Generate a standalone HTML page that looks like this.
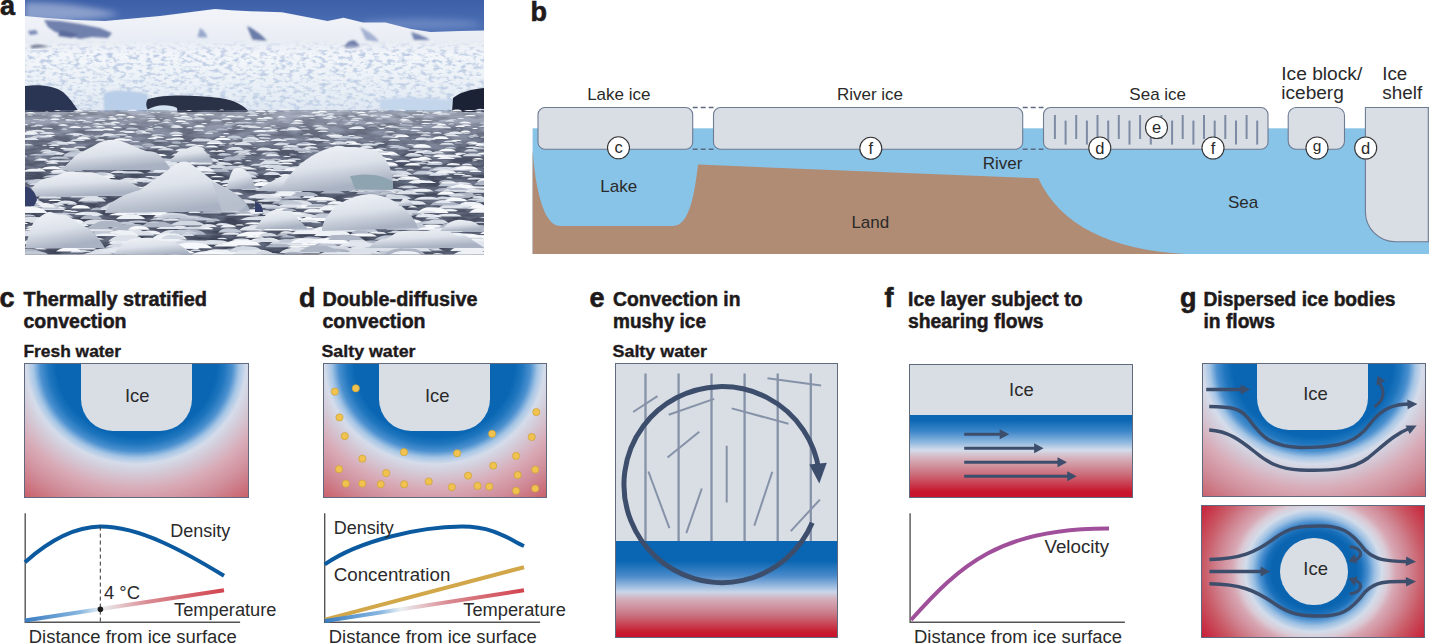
<!DOCTYPE html><html><head><meta charset="utf-8"><style>
html,body{margin:0;padding:0;background:#fff;width:1429px;height:644px;overflow:hidden;position:relative;font-family:"Liberation Sans",sans-serif;}
.abs{position:absolute;}
.panel{position:absolute;overflow:hidden;box-sizing:border-box;border:1px solid #5f6a7e;}
.ice{position:absolute;background:#d9dde4;}
svg{position:absolute;left:0;top:0;}
</style></head><body>
<svg font-family="Liberation Sans, sans-serif" width="1429" height="644" style="left:0;top:0"><defs><clipPath id="pc"><rect x="25" y="0" width="459" height="254.5"/></clipPath><filter id="pb" x="-5%" y="-5%" width="110%" height="110%"><feGaussianBlur stdDeviation="0.5"/></filter><filter id="pb1" x="-5%" y="-5%" width="110%" height="110%"><feGaussianBlur stdDeviation="1.2"/></filter><filter id="pb2" x="-20%" y="-50%" width="140%" height="200%"><feGaussianBlur stdDeviation="3"/></filter><linearGradient id="sky" x1="0" y1="0" x2="0" y2="1"><stop offset="0" stop-color="#3c5fa8"/><stop offset="1" stop-color="#5f80c0"/></linearGradient><linearGradient id="snow" x1="0" y1="0" x2="0" y2="1"><stop offset="0" stop-color="#f2f4f9"/><stop offset="1" stop-color="#e4e9f1"/></linearGradient><linearGradient id="sea" x1="0" y1="0" x2="0" y2="1"><stop offset="0" stop-color="#c4cad6"/><stop offset="0.12" stop-color="#9098aa"/><stop offset="0.35" stop-color="#565e72"/><stop offset="1" stop-color="#3e4558"/></linearGradient><linearGradient id="glac" x1="0" y1="0" x2="0" y2="1"><stop offset="0" stop-color="#e4eaf2" stop-opacity="0"/><stop offset="1" stop-color="#c9d8ea"/></linearGradient><linearGradient id="fl" x1="0" y1="0" x2="0.35" y2="1"><stop offset="0" stop-color="#f2f4f8"/><stop offset="0.55" stop-color="#dde2ea"/><stop offset="1" stop-color="#a9b2c2"/></linearGradient><filter id="glN" x="25" y="40" width="459" height="73" filterUnits="userSpaceOnUse" color-interpolation-filters="sRGB"><feTurbulence type="fractalNoise" baseFrequency="0.15 0.3" numOctaves="3" seed="3" result="n"/><feColorMatrix in="n" type="matrix" values="1 0 0 0 0  1 0 0 0 0  1 0 0 0 0  0 0 0 0 1" result="g"/><feComponentTransfer in="g"><feFuncR type="table" tableValues="0.720 0.720 0.720 0.720 0.720 0.720 0.720 0.720 0.720 0.720 0.720 0.725 0.749 0.773 0.797 0.821 0.845 0.869 0.893 0.917 0.941 0.965 0.970 0.970 0.970 0.970 0.970 0.970 0.970 0.970 0.970 0.970 0.970 0.970 0.970 0.970 0.970 0.970 0.970 0.970 0.970"/><feFuncG type="table" tableValues="0.780 0.780 0.780 0.780 0.780 0.780 0.780 0.780 0.780 0.780 0.780 0.784 0.803 0.822 0.842 0.861 0.880 0.899 0.918 0.938 0.957 0.976 0.980 0.980 0.980 0.980 0.980 0.980 0.980 0.980 0.980 0.980 0.980 0.980 0.980 0.980 0.980 0.980 0.980 0.980 0.980"/><feFuncB type="table" tableValues="0.890 0.890 0.890 0.890 0.890 0.890 0.890 0.890 0.890 0.890 0.890 0.892 0.902 0.911 0.921 0.930 0.940 0.950 0.959 0.969 0.978 0.988 0.990 0.990 0.990 0.990 0.990 0.990 0.990 0.990 0.990 0.990 0.990 0.990 0.990 0.990 0.990 0.990 0.990 0.990 0.990"/></feComponentTransfer></filter><linearGradient id="gm" x1="0" y1="0" x2="0" y2="1"><stop offset="0" stop-color="#fff" stop-opacity="0"/><stop offset="0.2" stop-color="#fff" stop-opacity="1"/></linearGradient><mask id="gmk" maskUnits="userSpaceOnUse" x="25" y="40" width="459" height="73"><rect x="25" y="40" width="459" height="73" fill="url(#gm)"/></mask><filter id="seaN" x="25" y="110" width="459" height="145" filterUnits="userSpaceOnUse" color-interpolation-filters="sRGB"><feTurbulence type="fractalNoise" baseFrequency="0.04 0.16" numOctaves="3" seed="5" result="n"/><feColorMatrix in="n" type="matrix" values="1 0 0 0 0  1 0 0 0 0  1 0 0 0 0  0 0 0 0 1" result="g"/><feComponentTransfer in="g"><feFuncR type="table" tableValues="0.220 0.220 0.220 0.220 0.220 0.220 0.220 0.220 0.220 0.220 0.220 0.220 0.220 0.225 0.247 0.270 0.293 0.316 0.339 0.362 0.385 0.408 0.431 0.454 0.477 0.500 0.523 0.545 0.550 0.550 0.550 0.550 0.550 0.550 0.550 0.550 0.550 0.550 0.550 0.550 0.550"/><feFuncG type="table" tableValues="0.240 0.240 0.240 0.240 0.240 0.240 0.240 0.240 0.240 0.240 0.240 0.240 0.240 0.245 0.268 0.292 0.316 0.339 0.363 0.386 0.410 0.434 0.457 0.481 0.504 0.528 0.552 0.575 0.580 0.580 0.580 0.580 0.580 0.580 0.580 0.580 0.580 0.580 0.580 0.580 0.580"/><feFuncB type="table" tableValues="0.310 0.310 0.310 0.310 0.310 0.310 0.310 0.310 0.310 0.310 0.310 0.310 0.310 0.315 0.339 0.363 0.388 0.412 0.436 0.461 0.485 0.509 0.534 0.558 0.582 0.607 0.631 0.655 0.660 0.660 0.660 0.660 0.660 0.660 0.660 0.660 0.660 0.660 0.660 0.660 0.660"/></feComponentTransfer></filter></defs><g clip-path="url(#pc)"><rect x="25" y="0" width="459" height="60" fill="url(#sky)"/><g filter="url(#pb2)"><path d="M25,2 C60,2 90,6 120,14 C100,20 60,22 25,20 Z" fill="#aab8d8" opacity="0.7"/><ellipse cx="420" cy="24" rx="60" ry="5" fill="#7f98cc" opacity="0.6"/></g><path d="M25,16 L44,17.7 L75,20 L105,21 L160,16 L215,9 L231,10.3 L250,11.3 L282,12.2 L327.5,21 L343.6,17.7 L363,22.5 L385.5,22.5 L411,29 L430.5,32 L460,31 L485,30.6 L484,60 L25,60 Z" fill="url(#snow)" filter="url(#pb)"/><g filter="url(#pb1)"><path d="M44,20 L60,21 L80,24 L100,28 L112,33 L108,38 L92,37 L80,39 L66,35 L55,32 L48,27 Z" fill="#7181ad"/><path d="M60,30 L78,34 L72,38 L58,36 Z" fill="#5c6c9c"/><path d="M28,31 L36,30 L38,34 L30,35 Z" fill="#7d8cb6"/><path d="M30,46 C36,44 45,45 49,47 L32,49 Z" fill="#2e3656"/><path d="M200,28 C206,32 210,38 205,43 L196,42 Z" fill="#9aa8cc"/><path d="M247,26 C256,30 266,38 270,45 L255,45 C252,38 249,32 247,26 Z" fill="#6a7ba9"/><path d="M344,46 C350,40 355,37 360,47 L346,49 Z" fill="#56669a"/><path d="M360,27 C368,31 376,36 379,42 L366,40 Z" fill="#a4b1d2"/><path d="M411,32 C418,34 426,37 430,40 L414,40 Z" fill="#7585b2"/><path d="M120,38 C160,34 240,38 300,44 L280,50 L130,50 Z" fill="#e8edf5"/></g><rect x="25" y="49" width="459" height="64" fill="#e4eaf2"/><rect x="25" y="60" width="459" height="53" fill="url(#glac)"/><g mask="url(#gmk)"><rect x="25" y="40" width="459" height="73" filter="url(#glN)" opacity="0.9"/><rect x="25" y="40" width="459" height="73" fill="url(#glac)" opacity="0.5"/></g><g filter="url(#pb1)"><path d="M104,93 C112,90 130,90 148,94 L148,113 L104,113 Z" fill="#b9cee8"/><path d="M380,100 C400,96 430,98 452,100 L452,113 L380,113 Z" fill="#c4d6ec"/></g><g filter="url(#pb)"><path d="M25,86 C40,84 55,86 63,92 C72,100 76,108 80,113 L25,113 Z" fill="#2c3452"/><path d="M148,99 C165,94 195,95 220,98 C235,100 245,106 250,113 L150,113 C146,108 145,103 148,99 Z" fill="#2a3046"/><path d="M453,98 C460,92 472,89 484,88 L484,112 L452,112 Z" fill="#1f2434"/><path d="M147,110 C155,104 170,104 177,108 L178,117 L148,117 Z" fill="#d4e3f1"/></g><rect x="25" y="112" width="459" height="143" fill="url(#sea)"/><rect x="25" y="112" width="459" height="143" filter="url(#seaN)" opacity="0.45"/><g filter="url(#pb)"><path d="M356,193.9q3.7,-4.2 10.0,-4.5l6.2,0.2q5.6,0.4 8.7,4.2z" fill="#aeb6c5"/><path d="M256,198.6q4.0,-4.2 10.8,-4.4l6.7,0.2q6.1,0.4 9.4,4.2z" fill="#e2e6ee"/><path d="M438,198.1q1.5,-1.3 4.0,-1.3l2.5,0.1q2.2,0.1 3.5,1.3z" fill="#e2e6ee"/><path d="M63,156.5q1.4,-1.4 3.7,-1.5l2.3,0.1q2.1,0.1 3.2,1.4z" fill="#f6f8fb"/><path d="M443,142.1q2.2,-1.5 6.0,-1.6l3.7,0.1q3.4,0.2 5.2,1.5z" fill="#dce1e9"/><path d="M307,116.3q1.1,-0.7 2.9,-0.8l1.8,0.0q1.6,0.1 2.5,0.7z" fill="#dce1e9"/><path d="M378,110.3q1.6,-1.1 4.3,-1.2l2.7,0.1q2.4,0.1 3.8,1.1z" fill="#e2e6ee"/><path d="M466,143.4q1.8,-1.8 4.8,-1.9l3.0,0.1q2.7,0.2 4.2,1.8z" fill="#e2e6ee"/><path d="M472,129.1q0.9,-1.0 2.4,-1.1l1.5,0.1q1.3,0.1 2.1,1.0z" fill="#f6f8fb"/><path d="M186,144.7q1.0,-0.7 2.7,-0.7l1.7,0.0q1.5,0.1 2.4,0.7z" fill="#eef1f6"/><path d="M397,149.4q2.0,-1.9 5.4,-2.0l3.4,0.1q3.0,0.2 4.7,1.9z" fill="#aeb6c5"/><path d="M157,150.3q2.6,-2.3 6.9,-2.4l4.3,0.1q3.9,0.2 6.0,2.3z" fill="#d3d9e3"/><path d="M239,129.5q0.9,-0.6 2.3,-0.7l1.4,0.0q1.3,0.1 2.0,0.6z" fill="#eef1f6"/><path d="M177,249.0q3.4,-3.1 9.1,-3.3l5.7,0.2q5.1,0.3 8.0,3.1z" fill="#f6f8fb"/><path d="M289,154.3q0.8,-0.5 2.0,-0.5l1.3,0.0q1.2,0.0 1.8,0.5z" fill="#e2e6ee"/><path d="M464,194.0q1.5,-1.1 3.9,-1.1l2.4,0.1q2.2,0.1 3.4,1.1z" fill="#dce1e9"/><path d="M171,247.8q3.2,-2.8 8.4,-3.0l5.3,0.1q4.7,0.3 7.4,2.8z" fill="#dce1e9"/><path d="M287,168.7q3.0,-2.4 8.0,-2.5l5.0,0.1q4.5,0.2 7.0,2.4z" fill="#d3d9e3"/><path d="M463,112.8q0.5,-0.4 1.4,-0.5l0.9,0.0q0.8,0.0 1.3,0.4z" fill="#c2c9d6"/><path d="M85,153.8q1.4,-1.4 3.7,-1.5l2.3,0.1q2.1,0.1 3.3,1.4z" fill="#eef1f6"/><path d="M165,146.6q1.1,-0.7 2.9,-0.7l1.8,0.0q1.6,0.1 2.5,0.7z" fill="#e2e6ee"/><path d="M155,210.0q3.0,-3.0 8.0,-3.2l5.0,0.2q4.5,0.3 7.0,3.0z" fill="#eef1f6"/><path d="M259,255.6q3.5,-2.6 9.5,-2.7l5.9,0.1q5.3,0.3 8.3,2.6z" fill="#c2c9d6"/><path d="M130,151.1q2.2,-1.5 5.9,-1.6l3.7,0.1q3.3,0.2 5.2,1.5z" fill="#aeb6c5"/><path d="M247,112.4q1.5,-1.0 4.1,-1.1l2.6,0.1q2.3,0.1 3.6,1.0z" fill="#aeb6c5"/><path d="M70,184.4q3.8,-3.2 10.1,-3.3l6.3,0.2q5.7,0.3 8.9,3.2z" fill="#e2e6ee"/><path d="M80,164.4q3.1,-2.3 8.1,-2.5l5.1,0.1q4.6,0.2 7.1,2.3z" fill="#f6f8fb"/><path d="M304,244.3q2.2,-2.0 6.0,-2.1l3.7,0.1q3.4,0.2 5.2,2.0z" fill="#f6f8fb"/><path d="M162,204.6q2.1,-1.9 5.7,-1.9l3.6,0.1q3.2,0.2 5.0,1.9z" fill="#e2e6ee"/><path d="M402,120.8q1.3,-0.9 3.5,-1.0l2.2,0.0q2.0,0.1 3.0,0.9z" fill="#f6f8fb"/><path d="M93,234.8q3.5,-3.2 9.5,-3.3l5.9,0.2q5.3,0.3 8.3,3.2z" fill="#c2c9d6"/><path d="M174,234.8q4.8,-5.0 12.9,-5.3l8.1,0.3q7.3,0.5 11.3,5.0z" fill="#aeb6c5"/><path d="M29,188.2q2.0,-1.8 5.3,-1.9l3.3,0.1q3.0,0.2 4.7,1.8z" fill="#aeb6c5"/><path d="M241,142.2q2.3,-2.2 6.0,-2.3l3.8,0.1q3.4,0.2 5.3,2.2z" fill="#d3d9e3"/><path d="M172,250.4q2.4,-2.6 6.3,-2.7l3.9,0.1q3.5,0.3 5.5,2.6z" fill="#f6f8fb"/><path d="M128,181.8q3.0,-2.6 8.1,-2.7l5.0,0.1q4.5,0.3 7.1,2.6z" fill="#dce1e9"/><path d="M330,174.5q1.9,-1.5 5.2,-1.5l3.2,0.1q2.9,0.1 4.5,1.5z" fill="#d3d9e3"/><path d="M401,212.8q2.6,-2.8 6.8,-2.9l4.3,0.1q3.8,0.3 6.0,2.8z" fill="#dce1e9"/><path d="M221,234.7q3.0,-2.4 8.0,-2.5l5.0,0.1q4.5,0.2 7.0,2.4z" fill="#e2e6ee"/><path d="M87,179.0q3.5,-3.9 9.2,-4.1l5.8,0.2q5.2,0.4 8.1,3.9z" fill="#f6f8fb"/><path d="M50,142.5q2.1,-1.7 5.5,-1.8l3.4,0.1q3.1,0.2 4.8,1.7z" fill="#c2c9d6"/><path d="M280,219.9q3.9,-3.3 10.5,-3.5l6.6,0.2q5.9,0.3 9.2,3.3z" fill="#c2c9d6"/><path d="M422,182.7q1.8,-2.1 4.8,-2.2l3.0,0.1q2.7,0.2 4.2,2.1z" fill="#e2e6ee"/><path d="M222,126.4q1.6,-1.2 4.3,-1.2l2.7,0.1q2.4,0.1 3.8,1.2z" fill="#aeb6c5"/><path d="M350,129.0q2.3,-2.6 6.1,-2.8l3.8,0.1q3.4,0.3 5.3,2.6z" fill="#e2e6ee"/><path d="M80,114.5q0.9,-0.6 2.3,-0.6l1.5,0.0q1.3,0.1 2.0,0.6z" fill="#e2e6ee"/><path d="M208,182.0q2.0,-2.0 5.5,-2.1l3.4,0.1q3.1,0.2 4.8,2.0z" fill="#eef1f6"/><path d="M119,188.6q3.9,-2.4 10.5,-2.5l6.6,0.1q5.9,0.2 9.2,2.4z" fill="#f6f8fb"/><path d="M403,249.5q5.6,-5.6 15.0,-5.9l9.4,0.3q8.5,0.6 13.2,5.6z" fill="#c2c9d6"/><path d="M29,155.5q2.2,-1.5 6.0,-1.5l3.7,0.1q3.4,0.1 5.2,1.5z" fill="#c2c9d6"/><path d="M461,176.4q1.8,-1.4 4.7,-1.5l3.0,0.1q2.7,0.1 4.2,1.4z" fill="#e2e6ee"/><path d="M394,162.1q2.5,-2.0 6.6,-2.1l4.1,0.1q3.7,0.2 5.8,2.0z" fill="#e2e6ee"/><path d="M195,126.0q1.3,-0.9 3.5,-1.0l2.2,0.0q2.0,0.1 3.1,0.9z" fill="#e2e6ee"/><path d="M172,191.6q4.0,-2.4 10.7,-2.5l6.7,0.1q6.0,0.2 9.4,2.4z" fill="#eef1f6"/><path d="M444,148.6q1.9,-1.5 5.1,-1.6l3.2,0.1q2.9,0.1 4.5,1.5z" fill="#c2c9d6"/><path d="M219,155.7q1.3,-1.0 3.5,-1.0l2.2,0.0q2.0,0.1 3.0,1.0z" fill="#aeb6c5"/><path d="M462,156.3q3.0,-2.8 8.0,-2.9l5.0,0.1q4.5,0.3 7.0,2.8z" fill="#d3d9e3"/><path d="M154,213.3q2.2,-1.3 5.8,-1.4l3.6,0.1q3.3,0.1 5.1,1.3z" fill="#d3d9e3"/><path d="M147,173.1q2.3,-1.5 6.0,-1.6l3.8,0.1q3.4,0.2 5.3,1.5z" fill="#c2c9d6"/><path d="M130,251.1q1.7,-1.2 4.5,-1.2l2.8,0.1q2.5,0.1 4.0,1.2z" fill="#f6f8fb"/><path d="M268,110.8q0.8,-0.9 2.0,-0.9l1.3,0.0q1.1,0.1 1.8,0.9z" fill="#dce1e9"/><path d="M245,112.8q1.6,-1.6 4.1,-1.6l2.6,0.1q2.3,0.2 3.6,1.6z" fill="#d3d9e3"/><path d="M300,143.9q1.7,-1.6 4.5,-1.7l2.8,0.1q2.5,0.2 3.9,1.6z" fill="#c2c9d6"/><path d="M436,237.1q1.5,-1.0 3.9,-1.0l2.4,0.0q2.2,0.1 3.4,1.0z" fill="#d3d9e3"/><path d="M172,179.6q1.8,-1.7 4.9,-1.7l3.1,0.1q2.8,0.2 4.3,1.7z" fill="#f6f8fb"/><path d="M332,152.0q2.6,-1.8 7.0,-1.9l4.4,0.1q3.9,0.2 6.1,1.8z" fill="#eef1f6"/><path d="M226,138.4q2.4,-2.7 6.5,-2.8l4.1,0.1q3.7,0.3 5.7,2.7z" fill="#c2c9d6"/><path d="M215,130.3q2.0,-1.9 5.3,-2.0l3.3,0.1q3.0,0.2 4.7,1.9z" fill="#aeb6c5"/><path d="M307,207.8q3.0,-3.3 7.9,-3.5l4.9,0.2q4.4,0.3 6.9,3.3z" fill="#f6f8fb"/><path d="M331,170.7q2.9,-3.2 7.7,-3.4l4.8,0.2q4.3,0.3 6.7,3.2z" fill="#f6f8fb"/><path d="M35,228.4q4.9,-4.9 13.0,-5.1l8.1,0.2q7.3,0.5 11.4,4.9z" fill="#f6f8fb"/><path d="M316,187.3q2.5,-2.0 6.7,-2.1l4.2,0.1q3.8,0.2 5.9,2.0z" fill="#e2e6ee"/><path d="M270,171.1q2.3,-1.8 6.1,-1.9l3.8,0.1q3.4,0.2 5.3,1.8z" fill="#e2e6ee"/><path d="M271,163.1q0.9,-1.0 2.5,-1.0l1.6,0.0q1.4,0.1 2.2,1.0z" fill="#d3d9e3"/><path d="M378,226.6q4.1,-2.5 10.9,-2.6l6.8,0.1q6.2,0.3 9.6,2.5z" fill="#aeb6c5"/><path d="M46,163.7q1.9,-1.6 5.0,-1.7l3.1,0.1q2.8,0.2 4.4,1.6z" fill="#eef1f6"/><path d="M109,230.4q4.1,-4.7 11.0,-4.9l6.9,0.2q6.2,0.5 9.6,4.7z" fill="#aeb6c5"/><path d="M472,239.5q4.6,-3.9 12.3,-4.1l7.7,0.2q6.9,0.4 10.8,3.9z" fill="#e2e6ee"/><path d="M209,191.9q1.6,-1.5 4.2,-1.6l2.6,0.1q2.4,0.2 3.7,1.5z" fill="#eef1f6"/><path d="M319,183.1q3.3,-2.5 8.8,-2.6l5.5,0.1q4.9,0.2 7.7,2.5z" fill="#c2c9d6"/><path d="M356,186.2q3.8,-2.6 10.1,-2.7l6.3,0.1q5.7,0.3 8.9,2.6z" fill="#f6f8fb"/><path d="M338,118.4q1.2,-1.0 3.2,-1.0l2.0,0.0q1.8,0.1 2.8,1.0z" fill="#aeb6c5"/><path d="M38,155.5q2.4,-1.7 6.5,-1.8l4.1,0.1q3.7,0.2 5.7,1.7z" fill="#aeb6c5"/><path d="M141,202.8q4.5,-4.1 12.1,-4.3l7.5,0.2q6.8,0.4 10.6,4.1z" fill="#e2e6ee"/><path d="M275,139.8q1.1,-1.2 3.1,-1.2l1.9,0.1q1.7,0.1 2.7,1.2z" fill="#c2c9d6"/><path d="M381,253.6q5.7,-4.9 15.3,-5.2l9.6,0.2q8.6,0.5 13.4,4.9z" fill="#f6f8fb"/><path d="M350,128.8q1.7,-1.1 4.5,-1.1l2.8,0.1q2.5,0.1 3.9,1.1z" fill="#aeb6c5"/><path d="M422,112.7q1.1,-0.9 2.9,-1.0l1.8,0.0q1.6,0.1 2.6,0.9z" fill="#f6f8fb"/><path d="M236,236.4q2.8,-3.0 7.5,-3.1l4.7,0.1q4.2,0.3 6.6,3.0z" fill="#eef1f6"/><path d="M189,181.0q3.5,-4.0 9.5,-4.2l5.9,0.2q5.3,0.4 8.3,4.0z" fill="#f6f8fb"/><path d="M120,203.4q1.6,-1.8 4.1,-1.9l2.6,0.1q2.3,0.2 3.6,1.8z" fill="#aeb6c5"/><path d="M110,173.1q2.9,-2.4 7.7,-2.5l4.8,0.1q4.3,0.2 6.8,2.4z" fill="#dce1e9"/><path d="M171,136.0q1.8,-1.4 4.8,-1.5l3.0,0.1q2.7,0.1 4.2,1.4z" fill="#f6f8fb"/><path d="M354,156.1q1.6,-1.3 4.3,-1.3l2.7,0.1q2.4,0.1 3.8,1.3z" fill="#aeb6c5"/><path d="M413,164.3q2.2,-2.0 5.8,-2.1l3.6,0.1q3.3,0.2 5.1,2.0z" fill="#c2c9d6"/><path d="M103,133.4q0.7,-0.4 1.9,-0.5l1.2,0.0q1.0,0.0 1.6,0.4z" fill="#e2e6ee"/><path d="M31,131.8q2.2,-1.9 5.8,-2.0l3.6,0.1q3.3,0.2 5.1,1.9z" fill="#dce1e9"/><path d="M216,151.8q1.4,-1.6 3.8,-1.7l2.4,0.1q2.1,0.2 3.3,1.6z" fill="#f6f8fb"/><path d="M233,148.2q1.1,-1.1 3.0,-1.1l1.9,0.1q1.7,0.1 2.6,1.1z" fill="#eef1f6"/><path d="M192,155.6q2.9,-2.0 7.7,-2.1l4.8,0.1q4.3,0.2 6.7,2.0z" fill="#d3d9e3"/><path d="M399,120.5q1.6,-1.6 4.3,-1.7l2.7,0.1q2.4,0.2 3.8,1.6z" fill="#eef1f6"/><path d="M23,171.7q3.5,-2.8 9.3,-3.0l5.8,0.1q5.2,0.3 8.1,2.8z" fill="#eef1f6"/><path d="M327,204.4q2.9,-3.2 7.6,-3.4l4.8,0.2q4.3,0.3 6.7,3.2z" fill="#eef1f6"/><path d="M162,220.7q3.1,-2.3 8.3,-2.4l5.2,0.1q4.7,0.2 7.3,2.3z" fill="#e2e6ee"/><path d="M352,112.5q1.2,-1.1 3.2,-1.2l2.0,0.1q1.8,0.1 2.8,1.1z" fill="#c2c9d6"/><path d="M472,159.4q1.7,-1.3 4.5,-1.4l2.8,0.1q2.6,0.1 4.0,1.3z" fill="#f6f8fb"/><path d="M41,153.6q3.1,-2.7 8.2,-2.8l5.2,0.1q4.6,0.3 7.2,2.7z" fill="#dce1e9"/><path d="M328,136.8q2.4,-2.4 6.5,-2.5l4.1,0.1q3.7,0.2 5.7,2.4z" fill="#f6f8fb"/><path d="M137,210.9q2.9,-2.5 7.9,-2.7l4.9,0.1q4.4,0.3 6.9,2.5z" fill="#aeb6c5"/><path d="M34,160.8q2.2,-2.5 5.9,-2.7l3.7,0.1q3.3,0.3 5.1,2.5z" fill="#c2c9d6"/><path d="M451,184.6q3.2,-2.4 8.6,-2.5l5.4,0.1q4.9,0.2 7.6,2.4z" fill="#dce1e9"/><path d="M456,173.1q1.0,-0.8 2.8,-0.8l1.7,0.0q1.6,0.1 2.4,0.8z" fill="#eef1f6"/><path d="M384,174.0q1.0,-1.1 2.8,-1.2l1.7,0.1q1.6,0.1 2.4,1.1z" fill="#f6f8fb"/><path d="M42,145.7q0.8,-0.9 2.0,-0.9l1.3,0.0q1.1,0.1 1.8,0.9z" fill="#e2e6ee"/><path d="M315,205.8q1.8,-1.3 4.9,-1.4l3.1,0.1q2.8,0.1 4.3,1.3z" fill="#d3d9e3"/><path d="M43,221.7q5.3,-3.7 14.1,-3.8l8.8,0.2q7.9,0.4 12.4,3.7z" fill="#eef1f6"/><path d="M116,232.9q1.4,-1.3 3.8,-1.4l2.4,0.1q2.2,0.1 3.4,1.3z" fill="#f6f8fb"/><path d="M374,162.7q2.2,-1.5 5.8,-1.5l3.6,0.1q3.3,0.1 5.1,1.5z" fill="#eef1f6"/><path d="M153,242.7q3.5,-3.8 9.4,-3.9l5.9,0.2q5.3,0.4 8.2,3.8z" fill="#e2e6ee"/><path d="M77,182.9q2.5,-2.6 6.6,-2.7l4.1,0.1q3.7,0.3 5.8,2.6z" fill="#d3d9e3"/><path d="M161,226.5q1.9,-1.2 5.0,-1.3l3.1,0.1q2.8,0.1 4.3,1.2z" fill="#e2e6ee"/><path d="M380,206.0q4.7,-4.6 12.6,-4.8l7.9,0.2q7.1,0.5 11.0,4.6z" fill="#d3d9e3"/><path d="M348,115.2q0.5,-0.4 1.3,-0.4l0.8,0.0q0.8,0.0 1.2,0.4z" fill="#d3d9e3"/><path d="M430,237.4q1.7,-1.8 4.6,-1.9l2.9,0.1q2.6,0.2 4.0,1.8z" fill="#f6f8fb"/><path d="M266,215.2q4.7,-4.6 12.6,-4.8l7.9,0.2q7.1,0.5 11.0,4.6z" fill="#dce1e9"/><path d="M31,123.0q0.7,-0.7 1.9,-0.8l1.2,0.0q1.1,0.1 1.7,0.7z" fill="#dce1e9"/><path d="M346,250.0q4.9,-3.7 13.0,-3.8l8.1,0.2q7.3,0.4 11.3,3.7z" fill="#dce1e9"/><path d="M275,224.1q2.6,-2.0 7.0,-2.1l4.4,0.1q3.9,0.2 6.1,2.0z" fill="#e2e6ee"/><path d="M334,139.7q1.2,-0.8 3.2,-0.8l2.0,0.0q1.8,0.1 2.8,0.8z" fill="#dce1e9"/><path d="M28,212.9q1.7,-1.9 4.5,-2.0l2.8,0.1q2.5,0.2 3.9,1.9z" fill="#dce1e9"/><path d="M414,153.0q3.0,-2.8 7.9,-3.0l4.9,0.1q4.5,0.3 6.9,2.8z" fill="#e2e6ee"/><path d="M74,178.7q1.5,-1.2 4.1,-1.3l2.6,0.1q2.3,0.1 3.6,1.2z" fill="#e2e6ee"/><path d="M397,187.7q3.4,-2.2 8.9,-2.3l5.6,0.1q5.0,0.2 7.8,2.2z" fill="#c2c9d6"/><path d="M311,191.1q1.5,-1.6 4.0,-1.6l2.5,0.1q2.3,0.2 3.5,1.6z" fill="#f6f8fb"/><path d="M67,222.3q2.6,-2.9 6.9,-3.0l4.3,0.1q3.9,0.3 6.0,2.9z" fill="#f6f8fb"/><path d="M97,189.6q1.2,-1.2 3.2,-1.2l2.0,0.1q1.8,0.1 2.8,1.2z" fill="#e2e6ee"/><path d="M467,179.5q2.7,-1.8 7.3,-1.9l4.6,0.1q4.1,0.2 6.4,1.8z" fill="#dce1e9"/><path d="M335,231.9q2.3,-1.4 6.0,-1.4l3.8,0.1q3.4,0.1 5.3,1.4z" fill="#c2c9d6"/><path d="M347,136.1q1.3,-1.1 3.4,-1.2l2.1,0.1q1.9,0.1 3.0,1.1z" fill="#e2e6ee"/><path d="M109,141.7q1.8,-1.5 4.8,-1.5l3.0,0.1q2.7,0.1 4.2,1.5z" fill="#dce1e9"/><path d="M177,220.7q4.5,-4.8 12.1,-5.1l7.6,0.2q6.8,0.5 10.6,4.8z" fill="#aeb6c5"/><path d="M406,230.1q4.0,-3.3 10.7,-3.5l6.7,0.2q6.0,0.3 9.3,3.3z" fill="#e2e6ee"/><path d="M128,124.3q1.1,-0.7 3.0,-0.8l1.9,0.0q1.7,0.1 2.6,0.7z" fill="#f6f8fb"/><path d="M351,119.2q1.8,-1.3 4.9,-1.4l3.0,0.1q2.7,0.1 4.2,1.3z" fill="#dce1e9"/><path d="M234,215.6q3.1,-2.8 8.2,-2.9l5.1,0.1q4.6,0.3 7.2,2.8z" fill="#eef1f6"/><path d="M192,223.3q1.3,-1.2 3.5,-1.2l2.2,0.1q2.0,0.1 3.1,1.2z" fill="#c2c9d6"/><path d="M398,193.5q1.1,-1.1 3.0,-1.2l1.9,0.1q1.7,0.1 2.6,1.1z" fill="#c2c9d6"/><path d="M194,146.6q1.7,-1.7 4.6,-1.8l2.9,0.1q2.6,0.2 4.0,1.7z" fill="#f6f8fb"/><path d="M382,166.7q2.4,-2.7 6.4,-2.9l4.0,0.1q3.6,0.3 5.6,2.7z" fill="#c2c9d6"/><path d="M259,201.6q4.0,-3.2 10.6,-3.4l6.6,0.2q6.0,0.3 9.3,3.2z" fill="#c2c9d6"/><path d="M380,111.4q0.7,-0.5 1.8,-0.5l1.1,0.0q1.0,0.1 1.6,0.5z" fill="#eef1f6"/><path d="M183,117.9q1.3,-1.4 3.5,-1.4l2.2,0.1q2.0,0.1 3.1,1.4z" fill="#aeb6c5"/><path d="M472,161.2q0.8,-0.9 2.2,-1.0l1.4,0.0q1.3,0.1 2.0,0.9z" fill="#e2e6ee"/><path d="M369,116.3q1.4,-1.6 3.7,-1.7l2.3,0.1q2.1,0.2 3.3,1.6z" fill="#d3d9e3"/><path d="M401,204.4q3.8,-3.6 10.2,-3.8l6.4,0.2q5.8,0.4 8.9,3.6z" fill="#e2e6ee"/><path d="M59,171.8q1.2,-1.0 3.3,-1.0l2.0,0.0q1.8,0.1 2.9,1.0z" fill="#dce1e9"/><path d="M202,181.3q1.0,-0.8 2.6,-0.8l1.6,0.0q1.4,0.1 2.3,0.8z" fill="#e2e6ee"/><path d="M262,214.9q2.0,-2.0 5.4,-2.1l3.4,0.1q3.0,0.2 4.7,2.0z" fill="#d3d9e3"/><path d="M63,157.3q2.5,-2.3 6.6,-2.4l4.1,0.1q3.7,0.2 5.7,2.3z" fill="#aeb6c5"/><path d="M130,255.1q2.0,-1.6 5.4,-1.6l3.4,0.1q3.0,0.2 4.7,1.6z" fill="#dce1e9"/><path d="M304,140.4q2.5,-1.7 6.6,-1.8l4.1,0.1q3.7,0.2 5.7,1.7z" fill="#aeb6c5"/><path d="M99,161.2q2.5,-2.3 6.6,-2.4l4.1,0.1q3.7,0.2 5.8,2.3z" fill="#aeb6c5"/><path d="M418,228.4q4.4,-3.7 11.8,-3.9l7.4,0.2q6.6,0.4 10.3,3.7z" fill="#f6f8fb"/><path d="M295,171.8q1.6,-1.3 4.2,-1.4l2.6,0.1q2.4,0.1 3.7,1.3z" fill="#eef1f6"/><path d="M469,191.0q1.7,-1.0 4.4,-1.1l2.8,0.1q2.5,0.1 3.9,1.0z" fill="#eef1f6"/><path d="M275,144.3q1.9,-1.6 5.0,-1.7l3.1,0.1q2.8,0.2 4.4,1.6z" fill="#d3d9e3"/><path d="M313,189.3q3.3,-3.3 8.7,-3.5l5.5,0.2q4.9,0.3 7.6,3.3z" fill="#eef1f6"/><path d="M71,249.6q4.0,-2.6 10.6,-2.7l6.6,0.1q6.0,0.3 9.3,2.6z" fill="#e2e6ee"/><path d="M305,231.8q5.4,-3.9 14.3,-4.1l9.0,0.2q8.1,0.4 12.5,3.9z" fill="#aeb6c5"/><path d="M382,192.6q3.9,-2.3 10.3,-2.4l6.4,0.1q5.8,0.2 9.0,2.3z" fill="#aeb6c5"/><path d="M61,126.0q0.8,-0.7 2.1,-0.8l1.3,0.0q1.2,0.1 1.8,0.7z" fill="#eef1f6"/><path d="M221,186.2q2.0,-2.1 5.4,-2.2l3.4,0.1q3.0,0.2 4.7,2.1z" fill="#e2e6ee"/><path d="M438,208.6q4.8,-4.5 12.7,-4.8l7.9,0.2q7.1,0.5 11.1,4.5z" fill="#dce1e9"/><path d="M66,119.7q0.6,-0.4 1.5,-0.4l1.0,0.0q0.9,0.0 1.3,0.4z" fill="#d3d9e3"/><path d="M431,128.0q2.2,-2.3 6.0,-2.4l3.7,0.1q3.4,0.2 5.2,2.3z" fill="#e2e6ee"/><path d="M270,159.8q1.7,-1.2 4.6,-1.2l2.9,0.1q2.6,0.1 4.0,1.2z" fill="#c2c9d6"/><path d="M77,251.3q1.5,-1.2 4.1,-1.3l2.5,0.1q2.3,0.1 3.6,1.2z" fill="#d3d9e3"/><path d="M37,248.3q5.1,-5.1 13.6,-5.4l8.5,0.3q7.6,0.5 11.9,5.1z" fill="#d3d9e3"/><path d="M395,111.0q1.7,-1.7 4.5,-1.8l2.8,0.1q2.5,0.2 4.0,1.7z" fill="#e2e6ee"/><path d="M190,243.6q2.8,-2.5 7.5,-2.6l4.7,0.1q4.2,0.2 6.5,2.5z" fill="#aeb6c5"/><path d="M56,217.5q1.7,-1.4 4.5,-1.5l2.8,0.1q2.5,0.1 3.9,1.4z" fill="#dce1e9"/><path d="M221,115.4q0.7,-0.9 2.0,-0.9l1.2,0.0q1.1,0.1 1.7,0.9z" fill="#d3d9e3"/><path d="M48,200.9q2.1,-1.4 5.5,-1.4l3.5,0.1q3.1,0.1 4.8,1.4z" fill="#f6f8fb"/><path d="M94,164.1q3.0,-3.3 8.1,-3.5l5.1,0.2q4.6,0.3 7.1,3.3z" fill="#e2e6ee"/><path d="M182,118.4q1.7,-1.0 4.4,-1.1l2.8,0.1q2.5,0.1 3.9,1.0z" fill="#dce1e9"/><path d="M399,124.1q0.5,-0.5 1.4,-0.5l0.9,0.0q0.8,0.0 1.3,0.5z" fill="#f6f8fb"/><path d="M38,234.9q5.7,-4.0 15.1,-4.2l9.4,0.2q8.5,0.4 13.2,4.0z" fill="#dce1e9"/><path d="M238,165.7q1.1,-0.8 2.8,-0.8l1.8,0.0q1.6,0.1 2.5,0.8z" fill="#dce1e9"/><path d="M254,204.3q1.3,-1.1 3.6,-1.2l2.2,0.1q2.0,0.1 3.1,1.1z" fill="#dce1e9"/><path d="M412,174.4q3.6,-3.5 9.7,-3.7l6.0,0.2q5.4,0.4 8.5,3.5z" fill="#c2c9d6"/><path d="M33,196.0q1.2,-1.2 3.1,-1.3l1.9,0.1q1.7,0.1 2.7,1.2z" fill="#f6f8fb"/><path d="M397,225.4q3.1,-3.4 8.3,-3.6l5.2,0.2q4.7,0.3 7.3,3.4z" fill="#eef1f6"/><path d="M355,257.8q6.0,-4.1 16.0,-4.3l10.0,0.2q9.0,0.4 14.0,4.1z" fill="#dce1e9"/><path d="M410,130.3q0.7,-0.6 1.8,-0.6l1.2,0.0q1.0,0.1 1.6,0.6z" fill="#f6f8fb"/><path d="M141,162.5q2.0,-1.5 5.4,-1.6l3.4,0.1q3.0,0.2 4.7,1.5z" fill="#aeb6c5"/><path d="M369,195.6q3.7,-2.4 9.8,-2.5l6.1,0.1q5.5,0.2 8.6,2.4z" fill="#aeb6c5"/><path d="M432,156.5q2.9,-2.1 7.8,-2.2l4.9,0.1q4.4,0.2 6.8,2.1z" fill="#eef1f6"/><path d="M244,214.4q2.5,-2.1 6.5,-2.2l4.1,0.1q3.7,0.2 5.7,2.1z" fill="#f6f8fb"/><path d="M444,136.2q2.4,-1.5 6.4,-1.6l4.0,0.1q3.6,0.1 5.6,1.5z" fill="#e2e6ee"/><path d="M54,225.3q1.9,-1.8 4.9,-1.9l3.1,0.1q2.8,0.2 4.3,1.8z" fill="#d3d9e3"/><path d="M80,219.0q3.3,-3.8 8.9,-4.0l5.6,0.2q5.0,0.4 7.8,3.8z" fill="#aeb6c5"/><path d="M149,183.4q1.3,-1.1 3.5,-1.1l2.2,0.1q2.0,0.1 3.0,1.1z" fill="#d3d9e3"/><path d="M237,154.7q2.1,-2.5 5.7,-2.6l3.6,0.1q3.2,0.2 5.0,2.5z" fill="#e2e6ee"/><path d="M81,251.8q1.6,-1.0 4.3,-1.0l2.7,0.0q2.4,0.1 3.7,1.0z" fill="#f6f8fb"/><path d="M241,123.2q1.6,-1.0 4.4,-1.0l2.7,0.0q2.4,0.1 3.8,1.0z" fill="#dce1e9"/><path d="M123,132.9q1.9,-1.4 5.1,-1.5l3.2,0.1q2.8,0.1 4.4,1.4z" fill="#d3d9e3"/><path d="M254,114.7q0.5,-0.4 1.3,-0.4l0.8,0.0q0.7,0.0 1.1,0.4z" fill="#d3d9e3"/><path d="M272,219.3q3.0,-2.0 8.1,-2.1l5.0,0.1q4.5,0.2 7.1,2.0z" fill="#eef1f6"/><path d="M181,244.7q3.9,-3.9 10.5,-4.1l6.5,0.2q5.9,0.4 9.2,3.9z" fill="#c2c9d6"/><path d="M475,249.1q2.9,-2.0 7.8,-2.1l4.9,0.1q4.4,0.2 6.8,2.0z" fill="#aeb6c5"/><path d="M226,116.9q1.5,-1.4 4.0,-1.4l2.5,0.1q2.3,0.1 3.5,1.4z" fill="#f6f8fb"/><path d="M256,119.2q1.7,-1.4 4.5,-1.4l2.8,0.1q2.5,0.1 4.0,1.4z" fill="#f6f8fb"/><path d="M181,123.7q1.3,-1.2 3.5,-1.3l2.2,0.1q2.0,0.1 3.0,1.2z" fill="#e2e6ee"/><path d="M29,184.9q3.3,-2.2 8.9,-2.3l5.5,0.1q5.0,0.2 7.8,2.2z" fill="#e2e6ee"/><path d="M171,155.5q2.7,-2.4 7.3,-2.5l4.5,0.1q4.1,0.2 6.4,2.4z" fill="#e2e6ee"/><path d="M128,213.3q4.4,-4.2 11.8,-4.4l7.4,0.2q6.6,0.4 10.3,4.2z" fill="#f6f8fb"/><path d="M385,127.2q1.7,-1.6 4.6,-1.7l2.9,0.1q2.6,0.2 4.0,1.6z" fill="#f6f8fb"/><path d="M399,243.1q4.2,-3.9 11.2,-4.0l7.0,0.2q6.3,0.4 9.8,3.9z" fill="#aeb6c5"/><path d="M72,152.7q1.8,-1.8 4.8,-1.9l3.0,0.1q2.7,0.2 4.2,1.8z" fill="#c2c9d6"/><path d="M426,173.6q1.0,-0.9 2.7,-1.0l1.7,0.0q1.5,0.1 2.4,0.9z" fill="#eef1f6"/><path d="M263,161.2q1.9,-1.8 5.2,-1.9l3.2,0.1q2.9,0.2 4.5,1.8z" fill="#c2c9d6"/><path d="M66,249.0q1.8,-1.8 4.8,-1.9l3.0,0.1q2.7,0.2 4.2,1.8z" fill="#eef1f6"/><path d="M354,113.3q0.8,-0.7 2.2,-0.8l1.4,0.0q1.3,0.1 1.9,0.7z" fill="#c2c9d6"/><path d="M41,209.9q3.6,-3.9 9.6,-4.1l6.0,0.2q5.4,0.4 8.4,3.9z" fill="#eef1f6"/><path d="M157,160.0q1.9,-1.5 5.2,-1.6l3.2,0.1q2.9,0.1 4.5,1.5z" fill="#dce1e9"/><path d="M323,148.1q1.8,-1.5 4.8,-1.5l3.0,0.1q2.7,0.1 4.2,1.5z" fill="#aeb6c5"/><path d="M136,133.6q2.3,-1.7 6.3,-1.8l3.9,0.1q3.5,0.2 5.5,1.7z" fill="#eef1f6"/><path d="M482,125.2q1.6,-1.3 4.2,-1.4l2.6,0.1q2.4,0.1 3.7,1.3z" fill="#c2c9d6"/><path d="M97,198.4q1.6,-1.4 4.2,-1.5l2.6,0.1q2.4,0.1 3.7,1.4z" fill="#aeb6c5"/><path d="M453,174.8q1.9,-1.2 5.1,-1.2l3.2,0.1q2.9,0.1 4.4,1.2z" fill="#f6f8fb"/><path d="M246,140.5q1.7,-1.9 4.6,-2.0l2.9,0.1q2.6,0.2 4.0,1.9z" fill="#c2c9d6"/><path d="M93,136.7q1.7,-1.2 4.5,-1.3l2.8,0.1q2.5,0.1 3.9,1.2z" fill="#d3d9e3"/><path d="M67,144.0q1.2,-1.0 3.2,-1.0l2.0,0.0q1.8,0.1 2.8,1.0z" fill="#c2c9d6"/><path d="M309,140.0q1.9,-2.2 5.1,-2.3l3.2,0.1q2.9,0.2 4.5,2.2z" fill="#eef1f6"/><path d="M67,204.8q1.5,-1.6 4.0,-1.7l2.5,0.1q2.2,0.2 3.5,1.6z" fill="#d3d9e3"/><path d="M289,230.8q1.6,-1.8 4.2,-1.9l2.6,0.1q2.3,0.2 3.6,1.8z" fill="#f6f8fb"/><path d="M171,127.9q1.9,-1.2 4.9,-1.3l3.1,0.1q2.8,0.1 4.3,1.2z" fill="#dce1e9"/><path d="M62,149.0q0.8,-0.9 2.3,-0.9l1.4,0.0q1.3,0.1 2.0,0.9z" fill="#f6f8fb"/><path d="M206,257.8q1.9,-1.2 5.0,-1.3l3.1,0.1q2.8,0.1 4.4,1.2z" fill="#eef1f6"/><path d="M372,248.0q5.7,-5.1 15.3,-5.3l9.6,0.3q8.6,0.5 13.4,5.1z" fill="#eef1f6"/><path d="M47,168.6q2.0,-2.3 5.4,-2.4l3.4,0.1q3.0,0.2 4.7,2.3z" fill="#c2c9d6"/><path d="M65,143.5q1.7,-2.0 4.6,-2.1l2.9,0.1q2.6,0.2 4.1,2.0z" fill="#eef1f6"/><path d="M58,169.2q3.0,-2.0 8.0,-2.1l5.0,0.1q4.5,0.2 7.0,2.0z" fill="#c2c9d6"/><path d="M323,118.8q1.5,-1.2 3.9,-1.2l2.4,0.1q2.2,0.1 3.4,1.2z" fill="#eef1f6"/><path d="M270,141.1q2.6,-2.2 7.0,-2.3l4.4,0.1q4.0,0.2 6.2,2.2z" fill="#e2e6ee"/><path d="M475,237.3q2.0,-1.9 5.3,-2.0l3.3,0.1q3.0,0.2 4.7,1.9z" fill="#e2e6ee"/><path d="M156,243.7q5.2,-4.7 13.9,-4.9l8.7,0.2q7.8,0.5 12.1,4.7z" fill="#e2e6ee"/><path d="M415,145.8q2.1,-1.6 5.5,-1.7l3.4,0.1q3.1,0.2 4.8,1.6z" fill="#c2c9d6"/><path d="M277,243.5q3.8,-2.9 10.0,-3.0l6.3,0.1q5.6,0.3 8.8,2.9z" fill="#aeb6c5"/><path d="M227,194.8q2.4,-2.4 6.5,-2.6l4.1,0.1q3.7,0.2 5.7,2.4z" fill="#eef1f6"/><path d="M110,123.3q1.6,-1.6 4.3,-1.7l2.7,0.1q2.4,0.2 3.8,1.6z" fill="#eef1f6"/><path d="M125,166.0q1.5,-1.5 4.0,-1.5l2.5,0.1q2.3,0.1 3.5,1.5z" fill="#aeb6c5"/><path d="M301,166.2q3.1,-2.2 8.4,-2.3l5.2,0.1q4.7,0.2 7.3,2.2z" fill="#aeb6c5"/><path d="M149,171.6q3.4,-3.2 9.0,-3.4l5.6,0.2q5.1,0.3 7.9,3.2z" fill="#aeb6c5"/><path d="M357,114.3q0.6,-0.6 1.6,-0.6l1.0,0.0q0.9,0.1 1.4,0.6z" fill="#d3d9e3"/><path d="M234,186.6q3.7,-4.0 9.8,-4.2l6.2,0.2q5.5,0.4 8.6,4.0z" fill="#c2c9d6"/><path d="M143,243.8q3.0,-3.3 8.0,-3.5l5.0,0.2q4.5,0.3 7.0,3.3z" fill="#e2e6ee"/><path d="M151,178.1q2.0,-2.1 5.4,-2.2l3.4,0.1q3.1,0.2 4.8,2.1z" fill="#d3d9e3"/><path d="M364,199.1q3.7,-2.2 9.7,-2.3l6.1,0.1q5.5,0.2 8.5,2.2z" fill="#e2e6ee"/><path d="M414,146.6q2.1,-1.8 5.7,-1.9l3.6,0.1q3.2,0.2 5.0,1.8z" fill="#dce1e9"/><path d="M223,188.8q4.0,-3.6 10.6,-3.8l6.7,0.2q6.0,0.4 9.3,3.6z" fill="#d3d9e3"/><path d="M295,208.4q4.2,-2.9 11.1,-3.0l6.9,0.1q6.2,0.3 9.7,2.9z" fill="#f6f8fb"/><path d="M264,198.6q2.8,-2.4 7.4,-2.5l4.6,0.1q4.2,0.2 6.5,2.4z" fill="#d3d9e3"/><path d="M268,113.4q1.1,-0.7 2.9,-0.8l1.8,0.0q1.6,0.1 2.5,0.7z" fill="#e2e6ee"/><path d="M96,127.5q1.4,-1.4 3.7,-1.4l2.3,0.1q2.1,0.1 3.3,1.4z" fill="#f6f8fb"/><path d="M190,198.4q3.3,-2.4 8.9,-2.6l5.6,0.1q5.0,0.2 7.8,2.4z" fill="#d3d9e3"/><path d="M108,243.9q2.5,-1.6 6.8,-1.7l4.2,0.1q3.8,0.2 5.9,1.6z" fill="#c2c9d6"/><path d="M289,155.3q1.3,-0.8 3.4,-0.9l2.2,0.0q1.9,0.1 3.0,0.8z" fill="#c2c9d6"/><path d="M368,189.7q2.5,-2.5 6.6,-2.6l4.1,0.1q3.7,0.2 5.8,2.5z" fill="#eef1f6"/><path d="M265,239.0q1.4,-1.2 3.8,-1.3l2.4,0.1q2.1,0.1 3.3,1.2z" fill="#f6f8fb"/><path d="M378,110.9q0.5,-0.5 1.4,-0.5l0.9,0.0q0.8,0.0 1.3,0.5z" fill="#f6f8fb"/><path d="M232,240.2q2.7,-1.8 7.3,-1.8l4.6,0.1q4.1,0.2 6.4,1.8z" fill="#dce1e9"/><path d="M368,222.4q3.8,-4.1 10.2,-4.3l6.4,0.2q5.8,0.4 9.0,4.1z" fill="#c2c9d6"/><path d="M434,190.9q3.8,-2.8 10.3,-2.9l6.4,0.1q5.8,0.3 9.0,2.8z" fill="#aeb6c5"/><path d="M477,237.7q2.3,-1.5 6.1,-1.5l3.8,0.1q3.5,0.1 5.4,1.5z" fill="#d3d9e3"/><path d="M264,131.6q2.2,-1.5 5.8,-1.6l3.6,0.1q3.3,0.2 5.1,1.5z" fill="#f6f8fb"/><path d="M219,110.2q0.8,-0.8 2.1,-0.8l1.3,0.0q1.2,0.1 1.8,0.8z" fill="#f6f8fb"/><path d="M379,158.0q1.1,-0.9 2.8,-0.9l1.8,0.0q1.6,0.1 2.5,0.9z" fill="#e2e6ee"/><path d="M204,133.7q1.4,-1.2 3.8,-1.2l2.4,0.1q2.1,0.1 3.3,1.2z" fill="#eef1f6"/><path d="M263,141.3q1.1,-1.0 2.8,-1.1l1.8,0.1q1.6,0.1 2.5,1.0z" fill="#dce1e9"/><path d="M364,203.7q4.3,-4.8 11.4,-5.0l7.2,0.2q6.4,0.5 10.0,4.8z" fill="#dce1e9"/><path d="M390,225.4q5.1,-4.6 13.5,-4.9l8.4,0.2q7.6,0.5 11.8,4.6z" fill="#dce1e9"/><path d="M222,208.7q1.9,-1.5 5.0,-1.6l3.1,0.1q2.8,0.1 4.4,1.5z" fill="#d3d9e3"/><path d="M423,209.1q1.4,-1.4 3.6,-1.5l2.3,0.1q2.0,0.1 3.2,1.4z" fill="#dce1e9"/><path d="M312,126.6q1.7,-1.5 4.6,-1.5l2.9,0.1q2.6,0.1 4.0,1.5z" fill="#dce1e9"/><path d="M154,124.4q0.5,-0.4 1.4,-0.4l0.9,0.0q0.8,0.0 1.2,0.4z" fill="#f6f8fb"/><path d="M353,248.8q4.8,-4.2 12.9,-4.4l8.0,0.2q7.2,0.4 11.3,4.2z" fill="#dce1e9"/><path d="M156,229.0q5.3,-3.4 14.1,-3.6l8.8,0.2q7.9,0.3 12.3,3.4z" fill="#e2e6ee"/><path d="M476,154.5q2.5,-2.0 6.6,-2.1l4.1,0.1q3.7,0.2 5.8,2.0z" fill="#f6f8fb"/><path d="M281,140.0q2.4,-1.9 6.5,-2.0l4.0,0.1q3.6,0.2 5.7,1.9z" fill="#c2c9d6"/><path d="M197,161.1q2.2,-2.6 5.9,-2.7l3.7,0.1q3.3,0.3 5.2,2.6z" fill="#eef1f6"/><path d="M151,135.3q2.2,-1.4 5.7,-1.4l3.6,0.1q3.2,0.1 5.0,1.4z" fill="#c2c9d6"/><path d="M50,172.0q2.7,-2.1 7.3,-2.2l4.6,0.1q4.1,0.2 6.4,2.1z" fill="#eef1f6"/><path d="M203,211.5q2.4,-2.6 6.5,-2.8l4.0,0.1q3.6,0.3 5.7,2.6z" fill="#dce1e9"/><path d="M311,113.3q1.5,-1.7 3.9,-1.7l2.5,0.1q2.2,0.2 3.4,1.7z" fill="#eef1f6"/><path d="M416,217.2q3.9,-2.6 10.5,-2.7l6.6,0.1q5.9,0.3 9.2,2.6z" fill="#f6f8fb"/><path d="M233,176.5q2.2,-1.5 5.9,-1.6l3.7,0.1q3.3,0.2 5.2,1.5z" fill="#d3d9e3"/><path d="M275,192.8q4.3,-3.8 11.5,-4.0l7.2,0.2q6.5,0.4 10.0,3.8z" fill="#d3d9e3"/><path d="M292,228.6q1.6,-1.3 4.4,-1.4l2.7,0.1q2.5,0.1 3.8,1.3z" fill="#f6f8fb"/><path d="M176,118.9q1.9,-1.2 5.0,-1.3l3.1,0.1q2.8,0.1 4.4,1.2z" fill="#d3d9e3"/><path d="M181,235.4q1.8,-1.4 4.9,-1.5l3.1,0.1q2.8,0.1 4.3,1.4z" fill="#dce1e9"/><path d="M160,233.9q4.4,-3.8 11.7,-3.9l7.3,0.2q6.6,0.4 10.2,3.8z" fill="#dce1e9"/><path d="M281,245.8q5.6,-4.4 15.0,-4.6l9.4,0.2q8.5,0.4 13.1,4.4z" fill="#f6f8fb"/><path d="M247,227.0q2.8,-2.5 7.4,-2.6l4.6,0.1q4.2,0.2 6.5,2.5z" fill="#dce1e9"/><path d="M428,176.0q2.1,-1.5 5.7,-1.6l3.5,0.1q3.2,0.2 5.0,1.5z" fill="#aeb6c5"/><path d="M217,160.1q1.1,-1.0 3.0,-1.0l1.9,0.0q1.7,0.1 2.6,1.0z" fill="#eef1f6"/><path d="M185,145.7q2.0,-1.9 5.3,-1.9l3.3,0.1q3.0,0.2 4.6,1.9z" fill="#e2e6ee"/><path d="M85,110.5q0.8,-0.7 2.1,-0.8l1.3,0.0q1.2,0.1 1.8,0.7z" fill="#c2c9d6"/><path d="M440,215.7q1.5,-1.0 4.0,-1.0l2.5,0.0q2.2,0.1 3.5,1.0z" fill="#aeb6c5"/><path d="M219,143.8q1.2,-1.0 3.1,-1.0l1.9,0.0q1.7,0.1 2.7,1.0z" fill="#d3d9e3"/><path d="M170,126.6q1.7,-1.5 4.5,-1.6l2.8,0.1q2.5,0.2 4.0,1.5z" fill="#dce1e9"/><path d="M233,158.6q1.9,-1.2 5.2,-1.3l3.2,0.1q2.9,0.1 4.5,1.2z" fill="#d3d9e3"/><path d="M161,170.5q2.6,-1.7 7.0,-1.8l4.4,0.1q3.9,0.2 6.1,1.7z" fill="#d3d9e3"/><path d="M378,155.0q3.0,-3.4 8.0,-3.6l5.0,0.2q4.5,0.3 7.0,3.4z" fill="#f6f8fb"/><path d="M226,159.6q1.5,-1.0 3.9,-1.0l2.4,0.0q2.2,0.1 3.4,1.0z" fill="#dce1e9"/><path d="M228,211.0q2.3,-1.6 6.0,-1.7l3.8,0.1q3.4,0.2 5.3,1.6z" fill="#f6f8fb"/><path d="M339,110.6q0.8,-0.6 2.1,-0.6l1.3,0.0q1.2,0.1 1.9,0.6z" fill="#e2e6ee"/><path d="M302,164.9q2.0,-1.5 5.4,-1.6l3.4,0.1q3.0,0.2 4.7,1.5z" fill="#eef1f6"/><path d="M107,130.7q1.3,-1.3 3.4,-1.3l2.1,0.1q1.9,0.1 3.0,1.3z" fill="#c2c9d6"/><path d="M27,201.2q1.5,-1.4 4.0,-1.5l2.5,0.1q2.3,0.1 3.5,1.4z" fill="#eef1f6"/><path d="M304,150.4q1.1,-1.2 2.9,-1.3l1.8,0.1q1.6,0.1 2.5,1.2z" fill="#eef1f6"/><path d="M31,131.0q1.4,-1.0 3.8,-1.1l2.4,0.1q2.1,0.1 3.3,1.0z" fill="#e2e6ee"/><path d="M165,256.7q3.1,-2.5 8.3,-2.6l5.2,0.1q4.7,0.3 7.3,2.5z" fill="#eef1f6"/><path d="M75,112.4q0.7,-0.8 1.8,-0.8l1.1,0.0q1.0,0.1 1.6,0.8z" fill="#d3d9e3"/><path d="M438,121.6q1.5,-1.5 3.9,-1.6l2.5,0.1q2.2,0.2 3.4,1.5z" fill="#aeb6c5"/><path d="M446,187.7q2.1,-1.7 5.7,-1.8l3.6,0.1q3.2,0.2 5.0,1.7z" fill="#f6f8fb"/><path d="M145,127.5q0.6,-0.5 1.7,-0.5l1.1,0.0q1.0,0.0 1.5,0.5z" fill="#aeb6c5"/><path d="M397,251.5q5.2,-4.5 13.9,-4.7l8.7,0.2q7.8,0.5 12.2,4.5z" fill="#e2e6ee"/><path d="M348,231.9q4.5,-5.1 12.1,-5.3l7.6,0.3q6.8,0.5 10.6,5.1z" fill="#c2c9d6"/><path d="M330,133.8q0.8,-0.7 2.0,-0.7l1.3,0.0q1.1,0.1 1.8,0.7z" fill="#aeb6c5"/><path d="M232,139.4q0.9,-0.6 2.3,-0.6l1.4,0.0q1.3,0.1 2.0,0.6z" fill="#e2e6ee"/><path d="M126,147.7q2.1,-1.2 5.5,-1.3l3.4,0.1q3.1,0.1 4.8,1.2z" fill="#aeb6c5"/><path d="M290,213.9q2.5,-2.0 6.6,-2.1l4.1,0.1q3.7,0.2 5.8,2.0z" fill="#d3d9e3"/><path d="M113,140.5q2.3,-2.2 6.3,-2.3l3.9,0.1q3.5,0.2 5.5,2.2z" fill="#f6f8fb"/><path d="M19,125.1q1.5,-1.1 3.9,-1.1l2.5,0.1q2.2,0.1 3.5,1.1z" fill="#eef1f6"/><path d="M56,184.5q1.7,-1.4 4.6,-1.5l2.9,0.1q2.6,0.1 4.0,1.4z" fill="#aeb6c5"/><path d="M141,187.7q3.4,-2.4 9.0,-2.5l5.6,0.1q5.0,0.2 7.8,2.4z" fill="#e2e6ee"/><path d="M293,121.5q1.6,-1.6 4.2,-1.7l2.6,0.1q2.4,0.2 3.7,1.6z" fill="#f6f8fb"/><path d="M223,134.3q1.2,-0.9 3.1,-0.9l1.9,0.0q1.7,0.1 2.7,0.9z" fill="#c2c9d6"/><path d="M234,129.8q1.5,-1.0 4.0,-1.0l2.5,0.0q2.3,0.1 3.5,1.0z" fill="#aeb6c5"/><path d="M272,196.6q4.3,-5.0 11.6,-5.3l7.2,0.3q6.5,0.5 10.1,5.0z" fill="#eef1f6"/><path d="M276,145.2q2.0,-1.9 5.3,-2.0l3.3,0.1q3.0,0.2 4.6,1.9z" fill="#d3d9e3"/><path d="M404,156.2q2.8,-2.7 7.6,-2.8l4.7,0.1q4.2,0.3 6.6,2.7z" fill="#d3d9e3"/><path d="M225,123.2q1.4,-1.0 3.7,-1.0l2.3,0.0q2.1,0.1 3.3,1.0z" fill="#eef1f6"/><path d="M402,191.9q4.1,-2.9 10.9,-3.0l6.8,0.1q6.1,0.3 9.5,2.9z" fill="#c2c9d6"/><path d="M145,112.3q0.6,-0.5 1.7,-0.5l1.0,0.0q0.9,0.1 1.5,0.5z" fill="#d3d9e3"/><path d="M180,117.1q1.5,-1.4 3.9,-1.5l2.4,0.1q2.2,0.1 3.4,1.4z" fill="#eef1f6"/><path d="M451,190.8q3.7,-3.0 9.9,-3.2l6.2,0.2q5.5,0.3 8.6,3.0z" fill="#dce1e9"/><path d="M240,139.1q1.6,-1.1 4.3,-1.1l2.7,0.1q2.4,0.1 3.7,1.1z" fill="#aeb6c5"/><path d="M465,239.0q5.7,-3.6 15.1,-3.8l9.4,0.2q8.5,0.4 13.2,3.6z" fill="#f6f8fb"/><path d="M32,192.2q2.7,-2.7 7.3,-2.8l4.6,0.1q4.1,0.3 6.4,2.7z" fill="#d3d9e3"/><path d="M95,174.9q2.2,-2.3 5.8,-2.4l3.6,0.1q3.2,0.2 5.0,2.3z" fill="#aeb6c5"/><path d="M443,201.5q3.6,-3.7 9.7,-3.8l6.1,0.2q5.5,0.4 8.5,3.7z" fill="#aeb6c5"/><path d="M269,244.6q5.1,-5.0 13.6,-5.2l8.5,0.2q7.7,0.5 11.9,5.0z" fill="#d3d9e3"/><path d="M116,215.5q3.2,-2.8 8.4,-3.0l5.3,0.1q4.7,0.3 7.4,2.8z" fill="#aeb6c5"/><path d="M397,128.4q1.4,-1.2 3.7,-1.3l2.3,0.1q2.1,0.1 3.2,1.2z" fill="#aeb6c5"/><path d="M479,184.8q2.0,-2.0 5.4,-2.1l3.3,0.1q3.0,0.2 4.7,2.0z" fill="#e2e6ee"/><path d="M381,117.6q1.4,-1.3 3.8,-1.3l2.3,0.1q2.1,0.1 3.3,1.3z" fill="#dce1e9"/><path d="M336,110.7q0.4,-0.4 1.1,-0.4l0.7,0.0q0.6,0.0 1.0,0.4z" fill="#aeb6c5"/><path d="M457,206.3q4.1,-4.4 11.0,-4.6l6.9,0.2q6.2,0.4 9.6,4.4z" fill="#eef1f6"/><path d="M220,230.4q2.1,-1.4 5.7,-1.5l3.6,0.1q3.2,0.1 5.0,1.4z" fill="#eef1f6"/><path d="M375,149.6q1.9,-1.9 5.1,-2.0l3.2,0.1q2.9,0.2 4.5,1.9z" fill="#aeb6c5"/><path d="M173,215.8q2.1,-1.5 5.6,-1.5l3.5,0.1q3.2,0.1 4.9,1.5z" fill="#c2c9d6"/><path d="M321,173.4q2.5,-1.6 6.7,-1.7l4.2,0.1q3.8,0.2 5.8,1.6z" fill="#c2c9d6"/><path d="M252,147.5q0.8,-0.6 2.1,-0.6l1.3,0.0q1.2,0.1 1.8,0.6z" fill="#d3d9e3"/><path d="M153,141.8q2.3,-1.7 6.2,-1.8l3.9,0.1q3.5,0.2 5.4,1.7z" fill="#aeb6c5"/><path d="M247,115.7q1.7,-1.3 4.6,-1.3l2.9,0.1q2.6,0.1 4.1,1.3z" fill="#f6f8fb"/><path d="M189,139.3q0.6,-0.4 1.7,-0.4l1.0,0.0q0.9,0.0 1.5,0.4z" fill="#e2e6ee"/><path d="M151,136.3q1.1,-1.2 2.8,-1.2l1.8,0.1q1.6,0.1 2.5,1.2z" fill="#dce1e9"/><path d="M152,138.0q1.9,-1.6 5.0,-1.7l3.1,0.1q2.8,0.2 4.3,1.6z" fill="#eef1f6"/><path d="M313,179.3q1.1,-1.0 2.9,-1.1l1.8,0.1q1.6,0.1 2.5,1.0z" fill="#dce1e9"/><path d="M221,119.9q1.6,-1.5 4.4,-1.6l2.7,0.1q2.5,0.1 3.8,1.5z" fill="#dce1e9"/><path d="M170,134.2q0.9,-0.8 2.5,-0.8l1.6,0.0q1.4,0.1 2.2,0.8z" fill="#aeb6c5"/><path d="M16,162.9q1.5,-1.7 4.0,-1.8l2.5,0.1q2.2,0.2 3.5,1.7z" fill="#aeb6c5"/><path d="M58,158.0q1.0,-0.8 2.7,-0.8l1.7,0.0q1.5,0.1 2.4,0.8z" fill="#c2c9d6"/><path d="M436,169.2q3.4,-2.3 9.0,-2.4l5.6,0.1q5.1,0.2 7.9,2.3z" fill="#c2c9d6"/><path d="M140,234.5q3.3,-3.8 8.8,-4.0l5.5,0.2q5.0,0.4 7.7,3.8z" fill="#eef1f6"/><path d="M155,167.3q3.4,-3.0 9.1,-3.1l5.7,0.1q5.1,0.3 8.0,3.0z" fill="#d3d9e3"/><path d="M42,177.6q3.9,-2.6 10.3,-2.7l6.5,0.1q5.8,0.3 9.0,2.6z" fill="#c2c9d6"/><path d="M483,136.4q1.8,-1.6 4.8,-1.7l3.0,0.1q2.7,0.2 4.2,1.6z" fill="#aeb6c5"/><path d="M233,201.9q3.0,-2.1 8.0,-2.2l5.0,0.1q4.5,0.2 7.0,2.1z" fill="#aeb6c5"/><path d="M74,112.2q1.0,-0.6 2.5,-0.6l1.6,0.0q1.4,0.1 2.2,0.6z" fill="#aeb6c5"/><path d="M272,169.6q3.4,-3.7 8.9,-3.9l5.6,0.2q5.0,0.4 7.8,3.7z" fill="#d3d9e3"/><path d="M416,132.7q1.5,-0.9 3.9,-1.0l2.4,0.0q2.2,0.1 3.4,0.9z" fill="#eef1f6"/><path d="M465,192.6q2.9,-3.3 7.7,-3.5l4.8,0.2q4.3,0.3 6.7,3.3z" fill="#f6f8fb"/><path d="M432,113.7q1.7,-1.7 4.5,-1.7l2.8,0.1q2.6,0.2 4.0,1.7z" fill="#eef1f6"/><path d="M256,135.7q2.3,-1.6 6.0,-1.6l3.8,0.1q3.4,0.2 5.3,1.6z" fill="#d3d9e3"/><path d="M45,136.0q1.6,-1.1 4.3,-1.2l2.7,0.1q2.4,0.1 3.7,1.1z" fill="#f6f8fb"/><path d="M460,248.3q4.6,-4.2 12.2,-4.4l7.6,0.2q6.8,0.4 10.6,4.2z" fill="#dce1e9"/><path d="M459,123.3q1.9,-1.7 5.0,-1.7l3.1,0.1q2.8,0.2 4.4,1.7z" fill="#f6f8fb"/><path d="M476,144.5q1.4,-1.5 3.6,-1.6l2.3,0.1q2.0,0.2 3.2,1.5z" fill="#dce1e9"/><path d="M475,191.3q1.8,-1.6 4.9,-1.7l3.1,0.1q2.8,0.2 4.3,1.6z" fill="#aeb6c5"/><path d="M435,199.2q3.5,-2.2 9.3,-2.3l5.8,0.1q5.2,0.2 8.1,2.2z" fill="#d3d9e3"/><path d="M380,155.1q2.8,-2.3 7.5,-2.4l4.7,0.1q4.2,0.2 6.5,2.3z" fill="#f6f8fb"/><path d="M140,155.3q1.7,-2.0 4.7,-2.1l2.9,0.1q2.6,0.2 4.1,2.0z" fill="#c2c9d6"/><path d="M348,129.0q2.1,-1.7 5.7,-1.8l3.6,0.1q3.2,0.2 5.0,1.7z" fill="#eef1f6"/><path d="M107,118.8q1.6,-1.6 4.2,-1.7l2.6,0.1q2.4,0.2 3.7,1.6z" fill="#c2c9d6"/><path d="M329,238.3q1.9,-2.2 5.1,-2.3l3.2,0.1q2.9,0.2 4.5,2.2z" fill="#d3d9e3"/><path d="M71,134.0q0.7,-0.7 1.7,-0.8l1.1,0.0q1.0,0.1 1.5,0.7z" fill="#e2e6ee"/><path d="M209,151.8q1.4,-1.4 3.7,-1.5l2.3,0.1q2.1,0.1 3.2,1.4z" fill="#f6f8fb"/><path d="M119,148.8q2.7,-3.0 7.2,-3.1l4.5,0.1q4.1,0.3 6.3,3.0z" fill="#dce1e9"/><path d="M115,168.2q2.6,-2.1 6.9,-2.2l4.3,0.1q3.9,0.2 6.1,2.1z" fill="#d3d9e3"/><path d="M86,118.2q0.9,-0.9 2.5,-1.0l1.6,0.0q1.4,0.1 2.2,0.9z" fill="#dce1e9"/><path d="M227,203.3q4.6,-3.9 12.1,-4.1l7.6,0.2q6.8,0.4 10.6,3.9z" fill="#dce1e9"/><path d="M314,140.9q2.5,-1.5 6.6,-1.6l4.1,0.1q3.7,0.2 5.8,1.5z" fill="#dce1e9"/><path d="M102,208.4q2.7,-1.9 7.3,-2.0l4.6,0.1q4.1,0.2 6.4,1.9z" fill="#eef1f6"/><path d="M277,207.7q3.8,-3.9 10.1,-4.1l6.3,0.2q5.7,0.4 8.8,3.9z" fill="#dce1e9"/><path d="M333,111.6q0.9,-0.7 2.3,-0.8l1.5,0.0q1.3,0.1 2.0,0.7z" fill="#aeb6c5"/><path d="M61,238.7q3.8,-3.7 10.1,-3.9l6.3,0.2q5.7,0.4 8.8,3.7z" fill="#dce1e9"/><path d="M287,129.4q1.7,-1.3 4.5,-1.3l2.8,0.1q2.5,0.1 3.9,1.3z" fill="#e2e6ee"/><path d="M349,191.8q1.5,-1.6 4.0,-1.7l2.5,0.1q2.3,0.2 3.5,1.6z" fill="#d3d9e3"/><path d="M194,257.3q3.8,-3.8 10.2,-4.0l6.4,0.2q5.7,0.4 8.9,3.8z" fill="#d3d9e3"/><path d="M472,149.2q2.2,-1.9 5.8,-2.0l3.6,0.1q3.3,0.2 5.1,1.9z" fill="#c2c9d6"/><path d="M116,219.1q4.4,-4.6 11.8,-4.9l7.3,0.2q6.6,0.5 10.3,4.6z" fill="#eef1f6"/><path d="M288,187.3q4.2,-4.0 11.1,-4.1l6.9,0.2q6.2,0.4 9.7,4.0z" fill="#dce1e9"/><path d="M74,153.4q2.8,-1.7 7.5,-1.8l4.7,0.1q4.2,0.2 6.6,1.7z" fill="#c2c9d6"/><path d="M370,155.1q2.1,-1.4 5.7,-1.5l3.6,0.1q3.2,0.1 5.0,1.4z" fill="#c2c9d6"/><path d="M309,221.2q2.1,-2.3 5.5,-2.5l3.4,0.1q3.1,0.2 4.8,2.3z" fill="#aeb6c5"/><path d="M76,121.0q1.6,-1.3 4.3,-1.4l2.7,0.1q2.4,0.1 3.8,1.3z" fill="#e2e6ee"/><path d="M293,194.3q1.9,-1.2 4.9,-1.2l3.1,0.1q2.8,0.1 4.3,1.2z" fill="#eef1f6"/><path d="M374,123.0q0.8,-0.8 2.2,-0.9l1.4,0.0q1.3,0.1 2.0,0.8z" fill="#aeb6c5"/><path d="M370,116.7q0.6,-0.5 1.6,-0.6l1.0,0.0q0.9,0.1 1.4,0.5z" fill="#e2e6ee"/><path d="M477,188.3q1.8,-1.8 4.7,-1.9l2.9,0.1q2.6,0.2 4.1,1.8z" fill="#f6f8fb"/><path d="M249,175.0q1.2,-0.8 3.3,-0.9l2.0,0.0q1.8,0.1 2.9,0.8z" fill="#f6f8fb"/><path d="M437,191.4q3.0,-2.7 8.1,-2.8l5.1,0.1q4.6,0.3 7.1,2.7z" fill="#aeb6c5"/><path d="M421,123.9q1.5,-1.0 4.1,-1.1l2.5,0.1q2.3,0.1 3.6,1.0z" fill="#eef1f6"/><path d="M34,157.4q1.2,-1.0 3.2,-1.0l2.0,0.0q1.8,0.1 2.8,1.0z" fill="#aeb6c5"/><path d="M239,168.0q2.0,-1.5 5.3,-1.5l3.3,0.1q3.0,0.1 4.7,1.5z" fill="#dce1e9"/><path d="M365,152.1q2.3,-1.9 6.2,-2.0l3.9,0.1q3.5,0.2 5.4,1.9z" fill="#aeb6c5"/><path d="M267,111.9q1.5,-1.7 4.1,-1.8l2.6,0.1q2.3,0.2 3.6,1.7z" fill="#e2e6ee"/><path d="M349,201.7q2.7,-1.8 7.2,-1.9l4.5,0.1q4.1,0.2 6.3,1.8z" fill="#d3d9e3"/><path d="M306,200.6q4.6,-3.7 12.3,-3.8l7.7,0.2q6.9,0.4 10.8,3.7z" fill="#f6f8fb"/><path d="M54,116.6q0.6,-0.5 1.5,-0.6l0.9,0.0q0.8,0.1 1.3,0.5z" fill="#c2c9d6"/><path d="M103,124.7q2.1,-1.8 5.5,-1.9l3.5,0.1q3.1,0.2 4.8,1.8z" fill="#dce1e9"/><path d="M187,229.4q3.9,-2.8 10.4,-2.9l6.5,0.1q5.8,0.3 9.1,2.8z" fill="#e2e6ee"/><path d="M325,117.6q1.9,-1.5 5.0,-1.5l3.1,0.1q2.8,0.1 4.4,1.5z" fill="#eef1f6"/><path d="M434,211.5q3.5,-2.5 9.2,-2.6l5.8,0.1q5.2,0.3 8.1,2.5z" fill="#c2c9d6"/><path d="M73,147.8q2.0,-1.2 5.4,-1.3l3.4,0.1q3.1,0.1 4.7,1.2z" fill="#f6f8fb"/><path d="M39,195.1q1.1,-0.9 2.9,-0.9l1.8,0.0q1.6,0.1 2.5,0.9z" fill="#d3d9e3"/><path d="M244,173.8q2.2,-1.4 5.9,-1.5l3.7,0.1q3.3,0.1 5.1,1.4z" fill="#dce1e9"/><path d="M287,147.3q1.9,-1.9 4.9,-2.0l3.1,0.1q2.8,0.2 4.3,1.9z" fill="#c2c9d6"/><path d="M27,115.4q0.9,-1.0 2.4,-1.1l1.5,0.1q1.3,0.1 2.1,1.0z" fill="#dce1e9"/><path d="M421,120.9q1.8,-1.1 4.7,-1.1l3.0,0.1q2.7,0.1 4.1,1.1z" fill="#e2e6ee"/><path d="M411,191.6q3.4,-2.7 9.0,-2.9l5.6,0.1q5.1,0.3 7.9,2.7z" fill="#eef1f6"/><path d="M70,113.1q0.7,-0.5 1.8,-0.6l1.1,0.0q1.0,0.1 1.6,0.5z" fill="#e2e6ee"/><path d="M454,154.0q1.8,-1.3 4.9,-1.4l3.1,0.1q2.8,0.1 4.3,1.3z" fill="#e2e6ee"/><path d="M95,254.2q2.5,-2.5 6.7,-2.7l4.2,0.1q3.7,0.3 5.8,2.5z" fill="#f6f8fb"/><path d="M14,194.2q4.0,-4.6 10.8,-4.8l6.7,0.2q6.1,0.5 9.4,4.6z" fill="#f6f8fb"/><path d="M119,132.0q1.6,-1.3 4.2,-1.4l2.6,0.1q2.3,0.1 3.6,1.3z" fill="#e2e6ee"/><path d="M448,124.4q0.9,-0.7 2.5,-0.8l1.6,0.0q1.4,0.1 2.2,0.7z" fill="#eef1f6"/><path d="M137,204.9q1.9,-1.8 5.0,-1.9l3.1,0.1q2.8,0.2 4.4,1.8z" fill="#c2c9d6"/><path d="M339,253.8q2.4,-2.1 6.5,-2.2l4.0,0.1q3.6,0.2 5.7,2.1z" fill="#e2e6ee"/><path d="M395,172.9q1.0,-1.2 2.8,-1.3l1.7,0.1q1.6,0.1 2.4,1.2z" fill="#c2c9d6"/><path d="M477,182.1q3.4,-4.0 9.2,-4.1l5.7,0.2q5.1,0.4 8.0,4.0z" fill="#f6f8fb"/><path d="M70,252.5q2.1,-2.2 5.7,-2.3l3.5,0.1q3.2,0.2 5.0,2.2z" fill="#d3d9e3"/><path d="M414,140.3q2.6,-2.9 6.8,-3.0l4.3,0.1q3.8,0.3 6.0,2.9z" fill="#e2e6ee"/><path d="M414,199.7q3.9,-2.8 10.3,-3.0l6.4,0.1q5.8,0.3 9.0,2.8z" fill="#e2e6ee"/><path d="M131,180.8q3.3,-2.6 8.7,-2.8l5.4,0.1q4.9,0.3 7.6,2.6z" fill="#e2e6ee"/><path d="M217,207.7q1.3,-1.0 3.4,-1.0l2.1,0.0q1.9,0.1 3.0,1.0z" fill="#f6f8fb"/><path d="M65,135.1q2.3,-2.3 6.1,-2.4l3.8,0.1q3.4,0.2 5.3,2.3z" fill="#aeb6c5"/><path d="M453,239.1q4.5,-4.5 12.1,-4.7l7.5,0.2q6.8,0.4 10.6,4.5z" fill="#c2c9d6"/><path d="M175,122.1q1.7,-1.7 4.6,-1.8l2.9,0.1q2.6,0.2 4.0,1.7z" fill="#f6f8fb"/><path d="M265,247.3q4.3,-3.3 11.5,-3.5l7.2,0.2q6.5,0.3 10.0,3.3z" fill="#aeb6c5"/><path d="M402,187.8q1.7,-1.4 4.5,-1.5l2.8,0.1q2.5,0.1 4.0,1.4z" fill="#d3d9e3"/><path d="M34,249.3q1.8,-1.5 4.9,-1.5l3.1,0.1q2.8,0.1 4.3,1.5z" fill="#dce1e9"/><path d="M485,154.7q1.2,-1.4 3.2,-1.5l2.0,0.1q1.8,0.1 2.8,1.4z" fill="#dce1e9"/><path d="M82,122.5q1.7,-1.2 4.5,-1.2l2.8,0.1q2.5,0.1 3.9,1.2z" fill="#e2e6ee"/><path d="M44,155.1q3.0,-2.7 7.9,-2.8l4.9,0.1q4.4,0.3 6.9,2.7z" fill="#c2c9d6"/><path d="M346,236.6q4.6,-3.5 12.4,-3.7l7.7,0.2q7.0,0.3 10.8,3.5z" fill="#f6f8fb"/><path d="M147,121.4q2.0,-1.7 5.4,-1.8l3.4,0.1q3.0,0.2 4.7,1.7z" fill="#e2e6ee"/><path d="M311,223.1q1.6,-1.2 4.3,-1.2l2.7,0.1q2.4,0.1 3.8,1.2z" fill="#c2c9d6"/><path d="M406,154.6q2.0,-1.5 5.2,-1.5l3.3,0.1q2.9,0.1 4.6,1.5z" fill="#e2e6ee"/><path d="M206,168.1q3.4,-3.2 9.0,-3.4l5.6,0.2q5.1,0.3 7.9,3.2z" fill="#d3d9e3"/><path d="M49,205.4q2.4,-2.3 6.3,-2.4l3.9,0.1q3.6,0.2 5.5,2.3z" fill="#dce1e9"/><path d="M323,115.6q1.7,-1.8 4.4,-1.9l2.8,0.1q2.5,0.2 3.9,1.8z" fill="#c2c9d6"/><path d="M60,191.4q4.0,-3.0 10.6,-3.2l6.6,0.2q5.9,0.3 9.2,3.0z" fill="#eef1f6"/><path d="M249,180.7q1.6,-1.3 4.1,-1.4l2.6,0.1q2.3,0.1 3.6,1.3z" fill="#dce1e9"/><path d="M174,115.6q0.7,-0.7 1.8,-0.8l1.1,0.0q1.0,0.1 1.5,0.7z" fill="#f6f8fb"/><path d="M152,182.7q2.4,-2.0 6.5,-2.1l4.0,0.1q3.6,0.2 5.7,2.0z" fill="#aeb6c5"/><path d="M302,151.7q2.8,-1.9 7.4,-2.0l4.6,0.1q4.2,0.2 6.5,1.9z" fill="#aeb6c5"/><path d="M312,139.2q1.0,-1.1 2.6,-1.2l1.7,0.1q1.5,0.1 2.3,1.1z" fill="#aeb6c5"/><path d="M133,203.3q2.9,-2.5 7.8,-2.6l4.8,0.1q4.4,0.2 6.8,2.5z" fill="#e2e6ee"/><path d="M201,254.6q4.1,-4.5 11.0,-4.7l6.9,0.2q6.2,0.4 9.6,4.5z" fill="#e2e6ee"/><path d="M188,212.9q2.0,-2.0 5.2,-2.1l3.3,0.1q2.9,0.2 4.6,2.0z" fill="#e2e6ee"/><path d="M461,231.8q4.1,-4.7 10.8,-4.9l6.8,0.2q6.1,0.5 9.5,4.7z" fill="#c2c9d6"/><path d="M325,239.5q2.0,-1.7 5.4,-1.8l3.4,0.1q3.0,0.2 4.7,1.7z" fill="#aeb6c5"/><path d="M429,230.5q4.4,-3.8 11.8,-4.0l7.4,0.2q6.6,0.4 10.3,3.8z" fill="#d3d9e3"/><path d="M38,198.4q3.5,-4.1 9.4,-4.3l5.9,0.2q5.3,0.4 8.3,4.1z" fill="#dce1e9"/><path d="M448,231.4q2.2,-2.2 5.8,-2.3l3.6,0.1q3.3,0.2 5.1,2.2z" fill="#d3d9e3"/><path d="M51,174.3q1.3,-1.5 3.5,-1.6l2.2,0.1q2.0,0.2 3.1,1.5z" fill="#aeb6c5"/><path d="M389,115.3q0.6,-0.4 1.5,-0.4l0.9,0.0q0.8,0.0 1.3,0.4z" fill="#d3d9e3"/><path d="M233,163.5q1.4,-1.5 3.8,-1.5l2.4,0.1q2.1,0.1 3.3,1.5z" fill="#dce1e9"/><path d="M229,203.3q4.1,-2.6 10.9,-2.7l6.8,0.1q6.1,0.3 9.5,2.6z" fill="#dce1e9"/><path d="M166,169.1q2.2,-2.5 5.7,-2.6l3.6,0.1q3.2,0.2 5.0,2.5z" fill="#dce1e9"/><path d="M18,220.7q4.7,-3.5 12.5,-3.7l7.8,0.2q7.0,0.4 11.0,3.5z" fill="#c2c9d6"/><path d="M38,247.5q4.4,-3.6 11.8,-3.8l7.4,0.2q6.7,0.4 10.3,3.6z" fill="#f6f8fb"/><path d="M277,117.6q1.3,-1.4 3.6,-1.5l2.2,0.1q2.0,0.1 3.1,1.4z" fill="#f6f8fb"/><path d="M390,137.9q1.4,-1.0 3.7,-1.0l2.3,0.0q2.1,0.1 3.2,1.0z" fill="#dce1e9"/><path d="M413,148.0q2.7,-2.0 7.3,-2.1l4.6,0.1q4.1,0.2 6.4,2.0z" fill="#c2c9d6"/><path d="M475,202.2q2.3,-2.1 6.1,-2.2l3.8,0.1q3.4,0.2 5.4,2.1z" fill="#c2c9d6"/><path d="M78,230.0q2.5,-2.5 6.6,-2.6l4.1,0.1q3.7,0.3 5.8,2.5z" fill="#d3d9e3"/><path d="M335,140.1q1.9,-1.5 5.0,-1.6l3.1,0.1q2.8,0.2 4.4,1.5z" fill="#aeb6c5"/><path d="M79,114.2q1.3,-1.2 3.6,-1.3l2.2,0.1q2.0,0.1 3.1,1.2z" fill="#dce1e9"/><path d="M96,144.5q1.4,-0.9 3.7,-1.0l2.3,0.0q2.1,0.1 3.2,0.9z" fill="#dce1e9"/><path d="M160,253.6q5.3,-4.2 14.2,-4.4l8.9,0.2q8.0,0.4 12.4,4.2z" fill="#f6f8fb"/><path d="M126,232.0q2.7,-2.4 7.2,-2.5l4.5,0.1q4.0,0.2 6.3,2.4z" fill="#e2e6ee"/><path d="M318,178.6q3.0,-3.1 7.9,-3.3l4.9,0.2q4.4,0.3 6.9,3.1z" fill="#aeb6c5"/><path d="M148,190.9q4.1,-4.6 10.8,-4.9l6.8,0.2q6.1,0.5 9.5,4.6z" fill="#aeb6c5"/><path d="M401,118.2q1.3,-0.9 3.5,-1.0l2.2,0.0q2.0,0.1 3.1,0.9z" fill="#dce1e9"/><path d="M336,162.8q2.8,-2.8 7.4,-2.9l4.6,0.1q4.1,0.3 6.4,2.8z" fill="#dce1e9"/><path d="M403,249.8q4.0,-3.3 10.6,-3.4l6.6,0.2q6.0,0.3 9.3,3.3z" fill="#dce1e9"/><path d="M150,112.8q0.8,-0.7 2.2,-0.7l1.4,0.0q1.3,0.1 1.9,0.7z" fill="#dce1e9"/><path d="M290,111.7q0.5,-0.3 1.4,-0.3l0.9,0.0q0.8,0.0 1.2,0.3z" fill="#c2c9d6"/><path d="M221,210.9q3.7,-3.3 9.7,-3.4l6.1,0.2q5.5,0.3 8.5,3.3z" fill="#d3d9e3"/><path d="M437,159.0q2.8,-2.1 7.5,-2.2l4.7,0.1q4.2,0.2 6.6,2.1z" fill="#eef1f6"/><path d="M193,127.2q1.9,-1.5 5.1,-1.6l3.2,0.1q2.8,0.2 4.4,1.5z" fill="#eef1f6"/><path d="M74,215.1q4.4,-3.2 11.8,-3.3l7.4,0.2q6.7,0.3 10.4,3.2z" fill="#e2e6ee"/><path d="M367,218.5q3.5,-3.8 9.3,-3.9l5.8,0.2q5.2,0.4 8.1,3.8z" fill="#aeb6c5"/><path d="M31,247.3q5.5,-3.9 14.7,-4.1l9.2,0.2q8.3,0.4 12.9,3.9z" fill="#d3d9e3"/><path d="M416,248.0q6.2,-4.6 16.6,-4.8l10.4,0.2q9.3,0.5 14.5,4.6z" fill="#e2e6ee"/><path d="M344,211.2q2.1,-2.0 5.6,-2.1l3.5,0.1q3.2,0.2 4.9,2.0z" fill="#c2c9d6"/><path d="M239,230.4q3.5,-4.0 9.3,-4.2l5.8,0.2q5.2,0.4 8.1,4.0z" fill="#e2e6ee"/><path d="M447,134.1q2.4,-2.5 6.3,-2.6l4.0,0.1q3.6,0.3 5.5,2.5z" fill="#e2e6ee"/><path d="M368,257.1q4.6,-4.7 12.2,-4.9l7.6,0.2q6.9,0.5 10.7,4.7z" fill="#c2c9d6"/><path d="M433,174.8q2.5,-2.1 6.6,-2.2l4.1,0.1q3.7,0.2 5.8,2.1z" fill="#e2e6ee"/><path d="M316,112.4q1.7,-1.7 4.6,-1.7l2.9,0.1q2.6,0.2 4.1,1.7z" fill="#f6f8fb"/><path d="M39,224.0q2.4,-1.8 6.4,-1.9l4.0,0.1q3.6,0.2 5.6,1.8z" fill="#d3d9e3"/><path d="M420,241.0q5.0,-5.1 13.3,-5.3l8.3,0.3q7.5,0.5 11.7,5.1z" fill="#aeb6c5"/><path d="M101,135.9q2.3,-2.5 6.2,-2.6l3.9,0.1q3.5,0.3 5.4,2.5z" fill="#e2e6ee"/><path d="M111,249.2q5.4,-5.8 14.4,-6.1l9.0,0.3q8.1,0.6 12.6,5.8z" fill="#f6f8fb"/><path d="M181,168.9q1.2,-0.8 3.2,-0.9l2.0,0.0q1.8,0.1 2.8,0.8z" fill="#aeb6c5"/><path d="M298,152.7q1.1,-1.1 3.0,-1.1l1.9,0.1q1.7,0.1 2.6,1.1z" fill="#dce1e9"/><path d="M437,194.7q2.9,-3.3 7.6,-3.5l4.8,0.2q4.3,0.3 6.7,3.3z" fill="#f6f8fb"/><path d="M208,140.3q0.8,-0.5 2.1,-0.5l1.3,0.0q1.2,0.1 1.8,0.5z" fill="#c2c9d6"/><path d="M272,203.7q3.6,-4.0 9.7,-4.2l6.1,0.2q5.5,0.4 8.5,4.0z" fill="#aeb6c5"/><path d="M107,250.6q3.6,-3.7 9.6,-3.9l6.0,0.2q5.4,0.4 8.4,3.7z" fill="#f6f8fb"/><path d="M399,125.4q1.6,-1.3 4.2,-1.3l2.6,0.1q2.4,0.1 3.7,1.3z" fill="#aeb6c5"/><path d="M346,142.1q1.3,-1.1 3.4,-1.1l2.1,0.1q1.9,0.1 3.0,1.1z" fill="#eef1f6"/><path d="M439,114.7q1.8,-1.8 4.7,-1.9l2.9,0.1q2.6,0.2 4.1,1.8z" fill="#d3d9e3"/><path d="M60,148.9q1.0,-1.2 2.7,-1.2l1.7,0.1q1.5,0.1 2.4,1.2z" fill="#f6f8fb"/><path d="M116,244.2q1.7,-1.2 4.4,-1.2l2.8,0.1q2.5,0.1 3.9,1.2z" fill="#c2c9d6"/><path d="M173,128.3q0.8,-0.5 2.0,-0.5l1.3,0.0q1.1,0.0 1.8,0.5z" fill="#aeb6c5"/><path d="M436,114.6q1.0,-0.7 2.7,-0.7l1.7,0.0q1.5,0.1 2.4,0.7z" fill="#f6f8fb"/><path d="M170,194.1q3.2,-3.1 8.4,-3.2l5.3,0.2q4.7,0.3 7.4,3.1z" fill="#eef1f6"/><path d="M346,144.7q2.5,-1.7 6.6,-1.8l4.1,0.1q3.7,0.2 5.8,1.7z" fill="#f6f8fb"/><path d="M302,152.6q1.6,-1.4 4.2,-1.5l2.6,0.1q2.3,0.1 3.7,1.4z" fill="#dce1e9"/><path d="M168,234.5q4.3,-4.9 11.5,-5.1l7.2,0.2q6.5,0.5 10.0,4.9z" fill="#c2c9d6"/><path d="M252,233.7q2.5,-2.1 6.6,-2.2l4.2,0.1q3.7,0.2 5.8,2.1z" fill="#c2c9d6"/><path d="M468,192.6q3.4,-3.0 8.9,-3.1l5.6,0.1q5.0,0.3 7.8,3.0z" fill="#dce1e9"/><path d="M295,145.5q2.3,-2.4 6.2,-2.6l3.9,0.1q3.5,0.2 5.4,2.4z" fill="#e2e6ee"/><path d="M97,224.4q3.9,-3.0 10.5,-3.2l6.6,0.2q5.9,0.3 9.2,3.0z" fill="#c2c9d6"/><path d="M185,175.9q2.3,-2.2 6.0,-2.4l3.8,0.1q3.4,0.2 5.3,2.2z" fill="#c2c9d6"/><path d="M375,254.1q4.9,-4.4 13.1,-4.7l8.2,0.2q7.4,0.4 11.5,4.4z" fill="#c2c9d6"/><path d="M346,162.9q1.7,-1.7 4.6,-1.7l2.9,0.1q2.6,0.2 4.0,1.7z" fill="#e2e6ee"/><path d="M321,207.2q2.5,-1.6 6.8,-1.7l4.2,0.1q3.8,0.2 5.9,1.6z" fill="#d3d9e3"/><path d="M369,168.3q3.1,-3.3 8.2,-3.5l5.1,0.2q4.6,0.3 7.2,3.3z" fill="#dce1e9"/><path d="M162,188.1q1.4,-1.4 3.7,-1.5l2.3,0.1q2.1,0.1 3.2,1.4z" fill="#f6f8fb"/><path d="M101,222.0q2.6,-1.7 6.9,-1.8l4.3,0.1q3.9,0.2 6.0,1.7z" fill="#f6f8fb"/><path d="M125,132.7q1.7,-1.7 4.5,-1.7l2.8,0.1q2.5,0.2 3.9,1.7z" fill="#eef1f6"/><path d="M22,182.6q3.1,-2.8 8.2,-2.9l5.1,0.1q4.6,0.3 7.2,2.8z" fill="#aeb6c5"/><path d="M391,222.8q4.8,-3.8 12.9,-4.0l8.0,0.2q7.2,0.4 11.3,3.8z" fill="#eef1f6"/><path d="M454,185.6q1.6,-1.8 4.3,-1.9l2.7,0.1q2.4,0.2 3.8,1.8z" fill="#eef1f6"/><path d="M398,214.2q4.1,-4.0 10.9,-4.2l6.8,0.2q6.1,0.4 9.5,4.0z" fill="#d3d9e3"/><path d="M386,229.7q5.1,-3.3 13.5,-3.5l8.4,0.2q7.6,0.3 11.8,3.3z" fill="#c2c9d6"/><path d="M265,170.2q1.4,-1.5 3.8,-1.6l2.4,0.1q2.1,0.2 3.3,1.5z" fill="#f6f8fb"/><path d="M29,196.5q4.3,-4.5 11.5,-4.8l7.2,0.2q6.5,0.5 10.1,4.5z" fill="#aeb6c5"/><path d="M122,168.8q3.1,-3.4 8.2,-3.6l5.1,0.2q4.6,0.3 7.1,3.4z" fill="#eef1f6"/><path d="M91,130.9q1.9,-1.6 5.2,-1.7l3.2,0.1q2.9,0.2 4.5,1.6z" fill="#eef1f6"/><path d="M125,150.8q2.5,-2.3 6.7,-2.4l4.2,0.1q3.7,0.2 5.8,2.3z" fill="#e2e6ee"/><path d="M193,130.7q1.7,-1.7 4.4,-1.8l2.8,0.1q2.5,0.2 3.9,1.7z" fill="#f6f8fb"/><path d="M218,252.3q5.2,-3.7 13.8,-3.9l8.7,0.2q7.8,0.4 12.1,3.7z" fill="#aeb6c5"/><path d="M40,209.4q3.7,-3.6 9.8,-3.8l6.2,0.2q5.5,0.4 8.6,3.6z" fill="#c2c9d6"/><path d="M350,229.0q3.0,-2.1 8.1,-2.3l5.1,0.1q4.6,0.2 7.1,2.1z" fill="#aeb6c5"/><path d="M213,191.6q2.8,-2.2 7.4,-2.3l4.6,0.1q4.1,0.2 6.4,2.2z" fill="#aeb6c5"/><path d="M450,197.7q3.1,-2.7 8.4,-2.9l5.2,0.1q4.7,0.3 7.3,2.7z" fill="#eef1f6"/><path d="M290,123.8q2.1,-1.7 5.6,-1.7l3.5,0.1q3.2,0.2 4.9,1.7z" fill="#e2e6ee"/><path d="M301,186.4q3.0,-1.9 8.0,-2.0l5.0,0.1q4.5,0.2 7.0,1.9z" fill="#dce1e9"/><path d="M408,226.7q1.4,-1.1 3.8,-1.2l2.4,0.1q2.1,0.1 3.3,1.1z" fill="#d3d9e3"/><path d="M474,184.8q3.7,-4.2 9.9,-4.4l6.2,0.2q5.6,0.4 8.7,4.2z" fill="#aeb6c5"/><path d="M258,167.2q3.5,-2.3 9.4,-2.4l5.9,0.1q5.3,0.2 8.2,2.3z" fill="#e2e6ee"/><path d="M142,182.7q3.4,-2.9 9.0,-3.1l5.6,0.1q5.1,0.3 7.9,2.9z" fill="#aeb6c5"/><path d="M446,239.6q4.0,-2.6 10.7,-2.7l6.7,0.1q6.0,0.3 9.3,2.6z" fill="#d3d9e3"/><path d="M147,129.1q1.0,-1.0 2.7,-1.1l1.7,0.1q1.5,0.1 2.3,1.0z" fill="#dce1e9"/><path d="M204,115.2q1.6,-1.3 4.2,-1.4l2.7,0.1q2.4,0.1 3.7,1.3z" fill="#f6f8fb"/><path d="M475,206.4q1.3,-1.4 3.5,-1.5l2.2,0.1q2.0,0.1 3.0,1.4z" fill="#dce1e9"/><path d="M173,117.9q1.7,-1.1 4.5,-1.1l2.8,0.1q2.5,0.1 3.9,1.1z" fill="#dce1e9"/><path d="M177,114.4q1.7,-1.5 4.4,-1.5l2.8,0.1q2.5,0.1 3.9,1.5z" fill="#f6f8fb"/><path d="M108,117.0q1.0,-0.7 2.6,-0.7l1.6,0.0q1.5,0.1 2.3,0.7z" fill="#eef1f6"/><path d="M467,200.3q2.6,-1.6 6.8,-1.7l4.3,0.1q3.8,0.2 6.0,1.6z" fill="#d3d9e3"/><path d="M26,248.3q3.2,-2.1 8.6,-2.2l5.4,0.1q4.8,0.2 7.5,2.1z" fill="#eef1f6"/><path d="M77,239.6q1.8,-2.1 4.8,-2.2l3.0,0.1q2.7,0.2 4.2,2.1z" fill="#e2e6ee"/><path d="M215,212.5q4.3,-2.7 11.6,-2.9l7.2,0.1q6.5,0.3 10.1,2.7z" fill="#dce1e9"/><path d="M381,168.6q1.1,-0.9 2.8,-1.0l1.8,0.0q1.6,0.1 2.5,0.9z" fill="#e2e6ee"/><path d="M287,188.4q4.1,-2.6 10.9,-2.7l6.8,0.1q6.2,0.3 9.6,2.6z" fill="#e2e6ee"/><path d="M355,124.2q0.6,-0.6 1.7,-0.7l1.0,0.0q0.9,0.1 1.5,0.6z" fill="#d3d9e3"/><path d="M356,244.6q5.5,-4.0 14.8,-4.2l9.2,0.2q8.3,0.4 12.9,4.0z" fill="#aeb6c5"/><path d="M246,136.6q1.4,-1.0 3.8,-1.0l2.4,0.0q2.2,0.1 3.4,1.0z" fill="#c2c9d6"/><path d="M233,157.1q2.1,-2.2 5.5,-2.4l3.4,0.1q3.1,0.2 4.8,2.2z" fill="#aeb6c5"/><path d="M262,131.2q1.0,-1.0 2.7,-1.1l1.7,0.1q1.5,0.1 2.3,1.0z" fill="#e2e6ee"/><path d="M261,181.9q1.1,-0.8 2.9,-0.8l1.8,0.0q1.6,0.1 2.6,0.8z" fill="#c2c9d6"/><path d="M69,135.1q2.3,-1.8 6.1,-1.9l3.8,0.1q3.4,0.2 5.4,1.8z" fill="#e2e6ee"/><path d="M464,111.1q1.5,-1.0 4.1,-1.0l2.6,0.0q2.3,0.1 3.6,1.0z" fill="#f6f8fb"/><path d="M169,181.5q2.5,-1.6 6.7,-1.7l4.2,0.1q3.7,0.2 5.8,1.6z" fill="#aeb6c5"/><path d="M408,160.6q2.7,-2.5 7.2,-2.6l4.5,0.1q4.1,0.2 6.3,2.5z" fill="#eef1f6"/><path d="M145,223.9q3.6,-2.5 9.7,-2.6l6.0,0.1q5.4,0.3 8.4,2.5z" fill="#aeb6c5"/><path d="M90,176.3q3.8,-3.6 10.2,-3.8l6.4,0.2q5.7,0.4 8.9,3.6z" fill="#e2e6ee"/><path d="M217,256.7q6.3,-5.0 16.8,-5.3l10.5,0.3q9.4,0.5 14.7,5.0z" fill="#f6f8fb"/><path d="M144,147.1q1.9,-1.4 5.2,-1.5l3.2,0.1q2.9,0.1 4.5,1.4z" fill="#aeb6c5"/><path d="M124,137.4q1.3,-1.4 3.6,-1.5l2.2,0.1q2.0,0.1 3.1,1.4z" fill="#dce1e9"/><path d="M438,186.3q3.5,-3.8 9.4,-4.0l5.9,0.2q5.3,0.4 8.3,3.8z" fill="#c2c9d6"/><path d="M240,153.8q1.1,-0.8 2.9,-0.8l1.8,0.0q1.6,0.1 2.5,0.8z" fill="#aeb6c5"/><path d="M307,139.2q1.8,-1.1 4.7,-1.2l2.9,0.1q2.6,0.1 4.1,1.1z" fill="#c2c9d6"/><path d="M392,237.3q1.9,-1.3 5.1,-1.4l3.2,0.1q2.9,0.1 4.5,1.3z" fill="#eef1f6"/><path d="M206,144.0q2.6,-2.3 7.0,-2.4l4.4,0.1q3.9,0.2 6.1,2.3z" fill="#f6f8fb"/><path d="M402,188.2q1.7,-1.2 4.6,-1.3l2.9,0.1q2.6,0.1 4.0,1.2z" fill="#dce1e9"/><path d="M394,137.0q2.3,-2.4 6.2,-2.5l3.9,0.1q3.5,0.2 5.4,2.4z" fill="#f6f8fb"/><path d="M412,146.4q1.3,-1.4 3.5,-1.4l2.2,0.1q2.0,0.1 3.0,1.4z" fill="#f6f8fb"/><path d="M16,199.9q3.5,-2.6 9.4,-2.7l5.9,0.1q5.3,0.3 8.3,2.6z" fill="#d3d9e3"/><path d="M183,112.2q0.4,-0.3 1.2,-0.3l0.7,0.0q0.7,0.0 1.0,0.3z" fill="#d3d9e3"/><path d="M353,138.6q1.0,-0.6 2.8,-0.7l1.7,0.0q1.6,0.1 2.4,0.6z" fill="#eef1f6"/><path d="M89,257.6q4.2,-3.4 11.3,-3.6l7.1,0.2q6.4,0.3 9.9,3.4z" fill="#d3d9e3"/><path d="M319,113.8q0.9,-0.6 2.3,-0.6l1.4,0.0q1.3,0.1 2.0,0.6z" fill="#f6f8fb"/><path d="M329,248.3q1.9,-1.6 5.0,-1.7l3.1,0.1q2.8,0.2 4.4,1.6z" fill="#e2e6ee"/><path d="M27,183.7q3.9,-4.3 10.3,-4.6l6.4,0.2q5.8,0.4 9.0,4.3z" fill="#c2c9d6"/><path d="M153,128.0q1.5,-1.7 4.1,-1.8l2.6,0.1q2.3,0.2 3.6,1.7z" fill="#c2c9d6"/><path d="M219,208.1q2.7,-2.7 7.1,-2.8l4.4,0.1q4.0,0.3 6.2,2.7z" fill="#e2e6ee"/><path d="M120,182.0q2.4,-2.5 6.4,-2.6l4.0,0.1q3.6,0.2 5.6,2.5z" fill="#f6f8fb"/><path d="M364,146.6q0.8,-0.9 2.1,-0.9l1.3,0.0q1.2,0.1 1.8,0.9z" fill="#f6f8fb"/><path d="M284,204.9q4.4,-4.6 11.6,-4.8l7.3,0.2q6.5,0.5 10.2,4.6z" fill="#dce1e9"/><path d="M59,143.4q1.5,-1.5 3.9,-1.6l2.4,0.1q2.2,0.2 3.4,1.5z" fill="#dce1e9"/><path d="M54,116.8q0.9,-0.9 2.4,-0.9l1.5,0.0q1.3,0.1 2.1,0.9z" fill="#eef1f6"/><path d="M423,117.8q1.7,-1.4 4.4,-1.5l2.8,0.1q2.5,0.1 3.9,1.4z" fill="#aeb6c5"/><path d="M280,237.4q2.4,-1.7 6.4,-1.8l4.0,0.1q3.6,0.2 5.6,1.7z" fill="#aeb6c5"/><path d="M378,244.5q3.9,-3.2 10.4,-3.4l6.5,0.2q5.8,0.3 9.1,3.2z" fill="#c2c9d6"/><path d="M385,256.8q4.1,-4.5 10.8,-4.7l6.8,0.2q6.1,0.4 9.5,4.5z" fill="#dce1e9"/><path d="M141,145.4q2.1,-2.1 5.6,-2.2l3.5,0.1q3.2,0.2 4.9,2.1z" fill="#aeb6c5"/><path d="M281,149.8q1.9,-1.8 4.9,-1.9l3.1,0.1q2.8,0.2 4.3,1.8z" fill="#dce1e9"/><path d="M365,247.9q5.9,-5.5 15.8,-5.8l9.8,0.3q8.9,0.5 13.8,5.5z" fill="#c2c9d6"/><path d="M365,151.8q3.0,-2.7 8.0,-2.8l5.0,0.1q4.5,0.3 7.0,2.7z" fill="#dce1e9"/><path d="M206,132.2q1.9,-1.7 5.0,-1.8l3.2,0.1q2.8,0.2 4.4,1.7z" fill="#aeb6c5"/><path d="M73,111.4q1.5,-1.4 4.1,-1.5l2.6,0.1q2.3,0.1 3.6,1.4z" fill="#f6f8fb"/><path d="M20,233.8q1.5,-1.0 4.0,-1.1l2.5,0.1q2.3,0.1 3.5,1.0z" fill="#f6f8fb"/><path d="M311,216.6q3.2,-1.9 8.5,-2.0l5.3,0.1q4.8,0.2 7.5,1.9z" fill="#eef1f6"/><path d="M145,117.0q1.6,-1.8 4.3,-1.9l2.7,0.1q2.4,0.2 3.7,1.8z" fill="#aeb6c5"/><path d="M271,220.1q4.8,-5.1 12.7,-5.4l7.9,0.3q7.1,0.5 11.1,5.1z" fill="#f6f8fb"/><path d="M268,220.8q3.5,-2.6 9.2,-2.7l5.8,0.1q5.2,0.3 8.1,2.6z" fill="#dce1e9"/><path d="M396,179.7q3.6,-3.1 9.7,-3.3l6.1,0.2q5.5,0.3 8.5,3.1z" fill="#f6f8fb"/><path d="M99,236.0q3.5,-2.6 9.2,-2.7l5.8,0.1q5.2,0.3 8.1,2.6z" fill="#f6f8fb"/><path d="M32,119.6q0.5,-0.5 1.3,-0.5l0.8,0.0q0.7,0.0 1.1,0.5z" fill="#d3d9e3"/><path d="M120,125.1q0.8,-0.6 2.2,-0.6l1.4,0.0q1.3,0.1 2.0,0.6z" fill="#eef1f6"/><path d="M374,144.9q0.8,-0.9 2.2,-1.0l1.4,0.0q1.2,0.1 1.9,0.9z" fill="#c2c9d6"/><path d="M56,197.0q4.3,-3.7 11.4,-3.9l7.1,0.2q6.4,0.4 9.9,3.7z" fill="#aeb6c5"/><path d="M339,164.9q1.3,-1.5 3.5,-1.6l2.2,0.1q2.0,0.2 3.1,1.5z" fill="#c2c9d6"/><path d="M297,144.0q2.2,-1.4 6.0,-1.5l3.7,0.1q3.4,0.1 5.2,1.4z" fill="#aeb6c5"/><path d="M417,160.5q1.0,-0.7 2.8,-0.7l1.7,0.0q1.6,0.1 2.4,0.7z" fill="#dce1e9"/><path d="M118,237.0q1.8,-1.6 4.9,-1.7l3.1,0.1q2.8,0.2 4.3,1.6z" fill="#f6f8fb"/><path d="M180,120.8q0.5,-0.5 1.3,-0.6l0.8,0.0q0.8,0.1 1.2,0.5z" fill="#aeb6c5"/><path d="M368,157.7q0.9,-1.0 2.3,-1.0l1.4,0.0q1.3,0.1 2.0,1.0z" fill="#dce1e9"/><path d="M58,208.3q1.2,-1.2 3.3,-1.2l2.0,0.1q1.8,0.1 2.9,1.2z" fill="#f6f8fb"/><path d="M279,253.3q6.3,-5.5 16.8,-5.7l10.5,0.3q9.4,0.5 14.7,5.5z" fill="#dce1e9"/><path d="M220,227.4q2.4,-2.7 6.5,-2.9l4.1,0.1q3.7,0.3 5.7,2.7z" fill="#eef1f6"/><path d="M465,112.6q0.5,-0.5 1.4,-0.5l0.9,0.0q0.8,0.0 1.2,0.5z" fill="#c2c9d6"/><path d="M475,145.9q2.6,-2.6 6.9,-2.8l4.3,0.1q3.9,0.3 6.0,2.6z" fill="#f6f8fb"/><path d="M376,174.5q3.5,-3.9 9.4,-4.1l5.9,0.2q5.3,0.4 8.3,3.9z" fill="#dce1e9"/><path d="M127,235.4q4.1,-4.1 10.9,-4.3l6.8,0.2q6.1,0.4 9.5,4.1z" fill="#dce1e9"/><path d="M89,227.1q4.8,-3.8 12.7,-3.9l7.9,0.2q7.1,0.4 11.1,3.8z" fill="#f6f8fb"/><path d="M199,243.2q4.7,-3.0 12.6,-3.2l7.9,0.2q7.1,0.3 11.0,3.0z" fill="#dce1e9"/><path d="M463,253.2q3.2,-3.4 8.5,-3.6l5.3,0.2q4.8,0.3 7.4,3.4z" fill="#d3d9e3"/><path d="M50,120.1q1.5,-1.7 4.0,-1.8l2.5,0.1q2.2,0.2 3.5,1.7z" fill="#eef1f6"/><path d="M45,180.9q2.0,-2.2 5.4,-2.3l3.4,0.1q3.1,0.2 4.8,2.2z" fill="#d3d9e3"/><path d="M249,175.5q1.5,-1.7 4.0,-1.7l2.5,0.1q2.3,0.2 3.5,1.7z" fill="#aeb6c5"/><path d="M390,176.8q3.0,-2.5 8.1,-2.6l5.0,0.1q4.5,0.2 7.1,2.5z" fill="#e2e6ee"/><path d="M432,254.7q1.8,-1.5 4.8,-1.6l3.0,0.1q2.7,0.2 4.2,1.5z" fill="#e2e6ee"/><path d="M150,206.6q4.2,-3.2 11.2,-3.3l7.0,0.2q6.3,0.3 9.8,3.2z" fill="#d3d9e3"/><path d="M450,197.0q4.1,-4.1 10.9,-4.4l6.8,0.2q6.1,0.4 9.5,4.1z" fill="#aeb6c5"/><path d="M314,236.0q5.6,-6.4 15.0,-6.7l9.4,0.3q8.4,0.6 13.1,6.4z" fill="#eef1f6"/><path d="M206,204.6q2.8,-3.0 7.4,-3.2l4.6,0.2q4.2,0.3 6.5,3.0z" fill="#f6f8fb"/><path d="M393,111.1q1.3,-1.3 3.5,-1.4l2.2,0.1q2.0,0.1 3.1,1.3z" fill="#c2c9d6"/><path d="M383,175.2q1.0,-0.9 2.7,-0.9l1.7,0.0q1.5,0.1 2.4,0.9z" fill="#f6f8fb"/><path d="M381,137.4q2.1,-1.8 5.7,-1.8l3.6,0.1q3.2,0.2 5.0,1.8z" fill="#c2c9d6"/><path d="M32,137.8q2.3,-2.4 6.2,-2.5l3.9,0.1q3.5,0.2 5.4,2.4z" fill="#aeb6c5"/><path d="M429,250.5q2.1,-1.4 5.6,-1.5l3.5,0.1q3.1,0.1 4.9,1.4z" fill="#dce1e9"/><path d="M224,185.4q1.6,-1.0 4.3,-1.1l2.7,0.1q2.4,0.1 3.7,1.0z" fill="#f6f8fb"/><path d="M421,125.6q1.0,-0.6 2.5,-0.6l1.6,0.0q1.4,0.1 2.2,0.6z" fill="#d3d9e3"/><path d="M277,120.5q1.6,-1.5 4.4,-1.6l2.7,0.1q2.4,0.2 3.8,1.5z" fill="#aeb6c5"/><path d="M193,130.1q1.6,-1.5 4.2,-1.5l2.6,0.1q2.4,0.1 3.7,1.5z" fill="#aeb6c5"/><path d="M210,121.3q1.9,-1.9 4.9,-2.0l3.1,0.1q2.8,0.2 4.3,1.9z" fill="#d3d9e3"/><path d="M401,116.2q0.5,-0.4 1.2,-0.5l0.8,0.0q0.7,0.0 1.1,0.4z" fill="#c2c9d6"/><path d="M342,120.8q1.0,-1.1 2.8,-1.2l1.7,0.1q1.6,0.1 2.4,1.1z" fill="#aeb6c5"/><path d="M397,179.7q1.5,-1.4 3.9,-1.5l2.4,0.1q2.2,0.1 3.4,1.4z" fill="#d3d9e3"/><path d="M150,187.5q3.2,-2.0 8.6,-2.1l5.4,0.1q4.8,0.2 7.5,2.0z" fill="#f6f8fb"/><path d="M476,112.9q0.9,-0.9 2.4,-1.0l1.5,0.0q1.4,0.1 2.1,0.9z" fill="#f6f8fb"/><path d="M115,115.4q1.8,-1.4 4.8,-1.4l3.0,0.1q2.7,0.1 4.2,1.4z" fill="#f6f8fb"/><path d="M368,250.9q5.7,-3.7 15.1,-3.9l9.4,0.2q8.5,0.4 13.2,3.7z" fill="#dce1e9"/><path d="M282,198.7q3.1,-2.6 8.2,-2.8l5.1,0.1q4.6,0.3 7.2,2.6z" fill="#c2c9d6"/><path d="M460,254.6q2.2,-2.0 5.9,-2.1l3.7,0.1q3.3,0.2 5.2,2.0z" fill="#aeb6c5"/><path d="M259,230.4q5.2,-3.1 13.8,-3.3l8.6,0.2q7.8,0.3 12.1,3.1z" fill="#f6f8fb"/><path d="M331,144.4q2.6,-3.0 6.8,-3.1l4.3,0.1q3.8,0.3 6.0,3.0z" fill="#d3d9e3"/><path d="M168,125.1q1.2,-0.9 3.1,-0.9l1.9,0.0q1.8,0.1 2.7,0.9z" fill="#aeb6c5"/><path d="M33,120.0q1.1,-0.8 3.0,-0.8l1.9,0.0q1.7,0.1 2.6,0.8z" fill="#e2e6ee"/><path d="M171,142.7q1.6,-1.1 4.2,-1.2l2.6,0.1q2.4,0.1 3.7,1.1z" fill="#c2c9d6"/><path d="M204,253.6q4.5,-4.1 12.1,-4.3l7.6,0.2q6.8,0.4 10.6,4.1z" fill="#eef1f6"/><path d="M439,227.7q5.0,-5.1 13.4,-5.4l8.4,0.3q7.5,0.5 11.7,5.1z" fill="#aeb6c5"/><path d="M301,149.4q1.5,-1.6 3.9,-1.7l2.4,0.1q2.2,0.2 3.4,1.6z" fill="#d3d9e3"/><path d="M62,236.7q4.2,-4.4 11.1,-4.6l6.9,0.2q6.2,0.4 9.7,4.4z" fill="#aeb6c5"/><path d="M116,185.7q1.4,-1.5 3.7,-1.6l2.3,0.1q2.1,0.2 3.3,1.5z" fill="#e2e6ee"/><path d="M433,157.0q2.5,-1.6 6.6,-1.7l4.2,0.1q3.7,0.2 5.8,1.6z" fill="#f6f8fb"/><path d="M455,126.9q1.5,-1.5 4.1,-1.6l2.6,0.1q2.3,0.2 3.6,1.5z" fill="#f6f8fb"/><path d="M282,181.4q2.5,-2.3 6.7,-2.5l4.2,0.1q3.8,0.2 5.9,2.3z" fill="#c2c9d6"/><path d="M415,216.8q3.3,-3.2 8.7,-3.3l5.5,0.2q4.9,0.3 7.6,3.2z" fill="#e2e6ee"/><path d="M472,198.3q2.0,-2.2 5.3,-2.3l3.3,0.1q3.0,0.2 4.6,2.2z" fill="#dce1e9"/><path d="M14,203.1q4.5,-3.6 11.9,-3.8l7.4,0.2q6.7,0.4 10.4,3.6z" fill="#e2e6ee"/><path d="M436,112.3q0.9,-0.9 2.5,-0.9l1.6,0.0q1.4,0.1 2.2,0.9z" fill="#f6f8fb"/><path d="M290,194.4q1.3,-1.2 3.4,-1.2l2.1,0.1q1.9,0.1 3.0,1.2z" fill="#eef1f6"/><path d="M460,133.3q0.9,-1.0 2.3,-1.0l1.5,0.0q1.3,0.1 2.0,1.0z" fill="#c2c9d6"/><path d="M368,112.3q0.9,-0.9 2.4,-1.0l1.5,0.0q1.3,0.1 2.1,0.9z" fill="#eef1f6"/><path d="M76,139.4q2.2,-2.4 5.9,-2.6l3.7,0.1q3.3,0.2 5.2,2.4z" fill="#eef1f6"/><path d="M316,202.0q1.7,-2.0 4.5,-2.1l2.8,0.1q2.5,0.2 3.9,2.0z" fill="#d3d9e3"/><path d="M417,212.9q4.8,-5.4 12.7,-5.7l7.9,0.3q7.1,0.5 11.1,5.4z" fill="#f6f8fb"/><path d="M352,111.9q0.4,-0.5 1.1,-0.5l0.7,0.0q0.6,0.0 1.0,0.5z" fill="#eef1f6"/><path d="M68,152.7q1.6,-1.6 4.3,-1.6l2.7,0.1q2.4,0.2 3.7,1.6z" fill="#aeb6c5"/><path d="M197,161.7q3.4,-3.4 9.0,-3.6l5.6,0.2q5.0,0.3 7.8,3.4z" fill="#e2e6ee"/><path d="M469,171.9q1.9,-1.7 5.1,-1.8l3.2,0.1q2.9,0.2 4.5,1.7z" fill="#eef1f6"/><path d="M135,132.1q1.7,-1.9 4.6,-1.9l2.9,0.1q2.6,0.2 4.1,1.9z" fill="#e2e6ee"/><path d="M448,120.3q1.4,-1.2 3.7,-1.3l2.3,0.1q2.1,0.1 3.2,1.2z" fill="#c2c9d6"/><path d="M21,126.7q0.6,-0.6 1.7,-0.6l1.0,0.0q0.9,0.1 1.5,0.6z" fill="#d3d9e3"/><path d="M19,111.5q0.5,-0.5 1.2,-0.5l0.8,0.0q0.7,0.0 1.1,0.5z" fill="#eef1f6"/><path d="M90,151.3q2.3,-1.9 6.1,-2.0l3.8,0.1q3.4,0.2 5.3,1.9z" fill="#aeb6c5"/><path d="M452,247.4q5.0,-4.6 13.5,-4.8l8.4,0.2q7.6,0.5 11.8,4.6z" fill="#dce1e9"/><path d="M123,206.8q1.7,-1.1 4.5,-1.2l2.8,0.1q2.5,0.1 3.9,1.1z" fill="#eef1f6"/><path d="M325,238.4q3.7,-3.3 9.8,-3.5l6.1,0.2q5.5,0.3 8.5,3.3z" fill="#aeb6c5"/><path d="M226,150.1q2.7,-3.0 7.2,-3.2l4.5,0.2q4.1,0.3 6.3,3.0z" fill="#dce1e9"/><path d="M39,120.4q0.9,-1.1 2.5,-1.1l1.6,0.1q1.4,0.1 2.2,1.1z" fill="#dce1e9"/><path d="M121,179.8q2.6,-1.9 6.9,-2.0l4.3,0.1q3.9,0.2 6.0,1.9z" fill="#dce1e9"/><path d="M243,150.8q1.3,-0.9 3.4,-1.0l2.1,0.0q1.9,0.1 3.0,0.9z" fill="#eef1f6"/><path d="M426,165.1q2.5,-1.9 6.7,-2.0l4.2,0.1q3.8,0.2 5.9,1.9z" fill="#c2c9d6"/><path d="M396,229.6q5.0,-5.6 13.2,-5.9l8.3,0.3q7.4,0.6 11.6,5.6z" fill="#c2c9d6"/><path d="M31,257.8q2.2,-1.7 6.0,-1.8l3.7,0.1q3.4,0.2 5.2,1.7z" fill="#d3d9e3"/><path d="M244,212.4q3.6,-3.2 9.5,-3.4l5.9,0.2q5.3,0.3 8.3,3.2z" fill="#c2c9d6"/><path d="M100,208.0q1.8,-1.2 4.8,-1.3l3.0,0.1q2.7,0.1 4.2,1.2z" fill="#c2c9d6"/><path d="M112,128.1q1.5,-1.5 4.1,-1.5l2.6,0.1q2.3,0.1 3.6,1.5z" fill="#eef1f6"/><path d="M236,240.7q2.0,-1.4 5.3,-1.4l3.3,0.1q3.0,0.1 4.6,1.4z" fill="#aeb6c5"/><path d="M377,241.8q5.0,-4.6 13.5,-4.9l8.4,0.2q7.6,0.5 11.8,4.6z" fill="#e2e6ee"/><path d="M129,124.8q1.2,-1.3 3.3,-1.4l2.1,0.1q1.9,0.1 2.9,1.3z" fill="#dce1e9"/><path d="M283,190.7q1.6,-1.3 4.3,-1.4l2.7,0.1q2.4,0.1 3.8,1.3z" fill="#e2e6ee"/><path d="M454,143.4q1.3,-1.0 3.4,-1.1l2.1,0.1q1.9,0.1 3.0,1.0z" fill="#aeb6c5"/><path d="M472,110.7q1.5,-0.9 4.0,-1.0l2.5,0.0q2.2,0.1 3.5,0.9z" fill="#aeb6c5"/><path d="M65,122.3q1.0,-0.8 2.7,-0.8l1.7,0.0q1.5,0.1 2.4,0.8z" fill="#aeb6c5"/><path d="M411,181.7q2.4,-1.5 6.5,-1.6l4.1,0.1q3.7,0.2 5.7,1.5z" fill="#d3d9e3"/><path d="M214,246.4q3.7,-3.3 9.8,-3.5l6.1,0.2q5.5,0.3 8.6,3.3z" fill="#eef1f6"/><path d="M345,161.1q0.9,-0.6 2.3,-0.6l1.5,0.0q1.3,0.1 2.0,0.6z" fill="#eef1f6"/><path d="M297,241.9q4.6,-5.1 12.3,-5.3l7.7,0.3q6.9,0.5 10.7,5.1z" fill="#aeb6c5"/><path d="M272,214.4q3.7,-3.7 9.9,-3.9l6.2,0.2q5.6,0.4 8.7,3.7z" fill="#eef1f6"/><path d="M78,258.0q6.0,-5.7 15.9,-6.0l9.9,0.3q8.9,0.6 13.9,5.7z" fill="#dce1e9"/><path d="M440,128.2q1.7,-1.7 4.6,-1.8l2.9,0.1q2.6,0.2 4.0,1.7z" fill="#e2e6ee"/><path d="M94,120.9q1.7,-1.6 4.7,-1.7l2.9,0.1q2.6,0.2 4.1,1.6z" fill="#dce1e9"/><path d="M217,155.2q2.2,-2.0 5.9,-2.1l3.7,0.1q3.3,0.2 5.2,2.0z" fill="#c2c9d6"/><path d="M256,120.8q1.8,-1.2 4.8,-1.3l3.0,0.1q2.7,0.1 4.2,1.2z" fill="#d3d9e3"/><path d="M392,217.0q2.4,-1.7 6.3,-1.7l4.0,0.1q3.6,0.2 5.5,1.7z" fill="#eef1f6"/><path d="M381,182.9q1.4,-1.5 3.7,-1.6l2.3,0.1q2.1,0.2 3.3,1.5z" fill="#c2c9d6"/><path d="M345,150.0q2.7,-2.8 7.1,-2.9l4.5,0.1q4.0,0.3 6.3,2.8z" fill="#eef1f6"/><path d="M26,206.2q3.2,-2.3 8.6,-2.5l5.4,0.1q4.8,0.2 7.5,2.3z" fill="#f6f8fb"/><path d="M445,121.4q1.4,-1.1 3.8,-1.2l2.4,0.1q2.1,0.1 3.3,1.1z" fill="#eef1f6"/><path d="M383,135.2q0.7,-0.7 1.9,-0.7l1.2,0.0q1.1,0.1 1.7,0.7z" fill="#aeb6c5"/><path d="M117,214.5q3.7,-2.3 10.0,-2.5l6.2,0.1q5.6,0.2 8.7,2.3z" fill="#dce1e9"/><path d="M300,220.9q5.3,-5.3 14.1,-5.5l8.8,0.3q7.9,0.5 12.3,5.3z" fill="#f6f8fb"/><path d="M17,224.1q1.7,-1.7 4.6,-1.8l2.9,0.1q2.6,0.2 4.0,1.7z" fill="#f6f8fb"/><path d="M283,112.0q1.1,-0.8 3.0,-0.8l1.9,0.0q1.7,0.1 2.6,0.8z" fill="#c2c9d6"/><path d="M46,239.1q4.2,-3.4 11.1,-3.6l6.9,0.2q6.2,0.3 9.7,3.4z" fill="#c2c9d6"/><path d="M56,203.8q3.2,-3.1 8.6,-3.3l5.4,0.2q4.8,0.3 7.5,3.1z" fill="#e2e6ee"/><path d="M263,119.3q1.4,-1.4 3.8,-1.5l2.4,0.1q2.2,0.1 3.3,1.4z" fill="#d3d9e3"/><path d="M207,142.9q2.3,-2.6 6.1,-2.8l3.8,0.1q3.4,0.3 5.3,2.6z" fill="#dce1e9"/><path d="M426,163.4q2.6,-1.9 6.9,-2.0l4.3,0.1q3.9,0.2 6.0,1.9z" fill="#eef1f6"/><path d="M110,119.2q1.1,-1.1 2.9,-1.1l1.8,0.1q1.6,0.1 2.5,1.1z" fill="#f6f8fb"/><path d="M457,118.9q1.1,-1.0 3.0,-1.0l1.8,0.0q1.7,0.1 2.6,1.0z" fill="#e2e6ee"/><path d="M151,239.6q5.4,-6.0 14.4,-6.3l9.0,0.3q8.1,0.6 12.6,6.0z" fill="#eef1f6"/><path d="M344,143.1q2.0,-2.1 5.2,-2.2l3.3,0.1q2.9,0.2 4.6,2.1z" fill="#eef1f6"/><path d="M82,166.7q2.0,-1.4 5.4,-1.5l3.4,0.1q3.0,0.1 4.7,1.4z" fill="#dce1e9"/><path d="M69,155.8q1.5,-1.7 4.0,-1.8l2.5,0.1q2.2,0.2 3.5,1.7z" fill="#e2e6ee"/><path d="M329,115.4q0.6,-0.7 1.7,-0.7l1.1,0.0q1.0,0.1 1.5,0.7z" fill="#eef1f6"/><path d="M309,190.7q1.2,-1.2 3.1,-1.3l1.9,0.1q1.7,0.1 2.7,1.2z" fill="#dce1e9"/><path d="M83,176.8q2.5,-1.5 6.7,-1.6l4.2,0.1q3.8,0.2 5.9,1.5z" fill="#f6f8fb"/><path d="M438,182.4q2.7,-2.5 7.1,-2.6l4.4,0.1q4.0,0.3 6.2,2.5z" fill="#aeb6c5"/><path d="M156,164.9q3.4,-3.9 9.0,-4.1l5.7,0.2q5.1,0.4 7.9,3.9z" fill="#e2e6ee"/><path d="M93,209.1q1.8,-1.1 4.8,-1.2l3.0,0.1q2.7,0.1 4.2,1.1z" fill="#f6f8fb"/><path d="M412,114.9q0.5,-0.6 1.5,-0.6l0.9,0.0q0.8,0.1 1.3,0.6z" fill="#dce1e9"/><path d="M22,194.0q4.2,-3.2 11.2,-3.3l7.0,0.2q6.3,0.3 9.8,3.2z" fill="#c2c9d6"/><path d="M415,120.6q0.7,-0.7 1.9,-0.7l1.2,0.0q1.0,0.1 1.6,0.7z" fill="#c2c9d6"/><path d="M207,171.8q3.4,-3.3 9.1,-3.4l5.7,0.2q5.1,0.3 8.0,3.3z" fill="#aeb6c5"/><path d="M254,236.2q2.2,-2.2 5.8,-2.3l3.6,0.1q3.3,0.2 5.1,2.2z" fill="#e2e6ee"/><path d="M64,247.4q4.3,-3.8 11.5,-4.0l7.2,0.2q6.5,0.4 10.0,3.8z" fill="#dce1e9"/><path d="M235,117.4q1.5,-1.5 4.0,-1.6l2.5,0.1q2.2,0.2 3.5,1.5z" fill="#dce1e9"/><path d="M346,141.6q1.1,-0.7 3.0,-0.8l1.9,0.0q1.7,0.1 2.6,0.7z" fill="#c2c9d6"/><path d="M70,212.1q1.3,-1.4 3.4,-1.5l2.1,0.1q1.9,0.1 2.9,1.4z" fill="#e2e6ee"/><path d="M255,229.2q1.7,-1.5 4.6,-1.6l2.8,0.1q2.6,0.1 4.0,1.5z" fill="#eef1f6"/><path d="M51,116.4q1.7,-1.6 4.4,-1.7l2.8,0.1q2.5,0.2 3.9,1.6z" fill="#d3d9e3"/><path d="M439,183.4q2.8,-1.8 7.6,-1.9l4.7,0.1q4.3,0.2 6.6,1.8z" fill="#eef1f6"/><path d="M400,122.3q1.9,-1.5 5.0,-1.5l3.1,0.1q2.8,0.1 4.4,1.5z" fill="#d3d9e3"/><path d="M261,154.4q1.8,-1.7 4.9,-1.8l3.1,0.1q2.8,0.2 4.3,1.7z" fill="#d3d9e3"/><path d="M251,243.0q1.5,-1.5 4.0,-1.6l2.5,0.1q2.2,0.2 3.5,1.5z" fill="#aeb6c5"/><path d="M226,168.6q1.8,-1.7 4.8,-1.8l3.0,0.1q2.7,0.2 4.2,1.7z" fill="#d3d9e3"/><path d="M223,125.2q2.1,-1.3 5.7,-1.3l3.6,0.1q3.2,0.1 5.0,1.3z" fill="#aeb6c5"/><path d="M314,129.5q2.3,-2.3 6.1,-2.4l3.8,0.1q3.5,0.2 5.4,2.3z" fill="#dce1e9"/><path d="M314,115.7q1.8,-1.6 4.9,-1.7l3.1,0.1q2.8,0.2 4.3,1.6z" fill="#e2e6ee"/><path d="M330,176.5q2.9,-3.0 7.6,-3.1l4.8,0.1q4.3,0.3 6.7,3.0z" fill="#aeb6c5"/><path d="M473,134.8q0.6,-0.6 1.6,-0.7l1.0,0.0q0.9,0.1 1.4,0.6z" fill="#c2c9d6"/><path d="M161,110.2q0.9,-0.6 2.5,-0.7l1.5,0.0q1.4,0.1 2.2,0.6z" fill="#d3d9e3"/><path d="M109,242.9q3.1,-2.9 8.3,-3.0l5.2,0.1q4.6,0.3 7.2,2.9z" fill="#f6f8fb"/><path d="M384,115.7q1.3,-1.3 3.5,-1.4l2.2,0.1q2.0,0.1 3.1,1.3z" fill="#eef1f6"/><path d="M68,171.6q1.1,-1.3 2.9,-1.3l1.8,0.1q1.6,0.1 2.6,1.3z" fill="#f6f8fb"/><path d="M124,252.6q2.2,-1.7 5.7,-1.8l3.6,0.1q3.2,0.2 5.0,1.7z" fill="#e2e6ee"/><path d="M450,245.7q3.3,-3.0 8.9,-3.1l5.6,0.1q5.0,0.3 7.8,3.0z" fill="#e2e6ee"/><path d="M273,145.0q1.4,-1.2 3.7,-1.2l2.3,0.1q2.1,0.1 3.2,1.2z" fill="#e2e6ee"/><path d="M418,213.0q2.9,-2.3 7.8,-2.4l4.8,0.1q4.4,0.2 6.8,2.3z" fill="#dce1e9"/><path d="M376,119.2q0.9,-1.1 2.5,-1.1l1.6,0.1q1.4,0.1 2.2,1.1z" fill="#d3d9e3"/><path d="M354,207.1q2.4,-2.2 6.4,-2.3l4.0,0.1q3.6,0.2 5.6,2.2z" fill="#aeb6c5"/><path d="M45,195.4q3.0,-2.4 8.1,-2.5l5.1,0.1q4.6,0.2 7.1,2.4z" fill="#aeb6c5"/><path d="M216,165.0q2.6,-2.6 6.8,-2.7l4.3,0.1q3.8,0.3 6.0,2.6z" fill="#d3d9e3"/><path d="M90,210.2q2.4,-2.4 6.5,-2.6l4.0,0.1q3.6,0.2 5.6,2.4z" fill="#aeb6c5"/><path d="M263,114.4q0.7,-0.7 1.8,-0.8l1.1,0.0q1.0,0.1 1.5,0.7z" fill="#f6f8fb"/><path d="M245,237.7q2.9,-2.0 7.7,-2.1l4.8,0.1q4.3,0.2 6.7,2.0z" fill="#f6f8fb"/><path d="M29,222.7q4.7,-2.8 12.7,-3.0l7.9,0.1q7.1,0.3 11.1,2.8z" fill="#eef1f6"/><path d="M222,160.2q3.0,-3.4 8.1,-3.6l5.0,0.2q4.5,0.3 7.0,3.4z" fill="#aeb6c5"/><path d="M116,228.9q4.9,-5.0 13.1,-5.2l8.2,0.2q7.4,0.5 11.4,5.0z" fill="#aeb6c5"/><path d="M398,220.9q1.9,-1.4 5.0,-1.4l3.2,0.1q2.8,0.1 4.4,1.4z" fill="#dce1e9"/><path d="M294,150.6q1.7,-1.7 4.5,-1.8l2.8,0.1q2.5,0.2 4.0,1.7z" fill="#eef1f6"/><path d="M276,210.7q2.4,-2.1 6.4,-2.2l4.0,0.1q3.6,0.2 5.6,2.1z" fill="#c2c9d6"/><path d="M106,205.3q4.0,-4.2 10.6,-4.4l6.6,0.2q6.0,0.4 9.3,4.2z" fill="#c2c9d6"/><path d="M30,126.6q1.1,-0.8 3.0,-0.8l1.9,0.0q1.7,0.1 2.6,0.8z" fill="#f6f8fb"/><path d="M435,216.4q4.0,-2.6 10.8,-2.7l6.7,0.1q6.1,0.3 9.4,2.6z" fill="#e2e6ee"/><path d="M55,180.8q2.5,-2.7 6.8,-2.8l4.2,0.1q3.8,0.3 5.9,2.7z" fill="#f6f8fb"/><path d="M431,124.0q1.7,-1.2 4.4,-1.3l2.8,0.1q2.5,0.1 3.9,1.2z" fill="#d3d9e3"/><path d="M95,125.2q1.4,-0.9 3.8,-1.0l2.4,0.0q2.1,0.1 3.3,0.9z" fill="#dce1e9"/><path d="M413,147.5q2.8,-3.1 7.5,-3.2l4.7,0.2q4.2,0.3 6.6,3.1z" fill="#f6f8fb"/><path d="M291,234.2q4.9,-4.9 13.1,-5.2l8.2,0.2q7.4,0.5 11.4,4.9z" fill="#eef1f6"/><path d="M261,207.4q1.2,-1.0 3.2,-1.1l2.0,0.1q1.8,0.1 2.8,1.0z" fill="#e2e6ee"/><path d="M385,180.8q2.1,-2.3 5.6,-2.4l3.5,0.1q3.1,0.2 4.9,2.3z" fill="#f6f8fb"/><path d="M462,134.1q1.2,-0.8 3.2,-0.8l2.0,0.0q1.8,0.1 2.8,0.8z" fill="#dce1e9"/><path d="M468,208.7q3.2,-3.5 8.6,-3.7l5.4,0.2q4.8,0.4 7.5,3.5z" fill="#f6f8fb"/><path d="M456,127.0q0.7,-0.5 1.7,-0.5l1.1,0.0q1.0,0.0 1.5,0.5z" fill="#eef1f6"/><path d="M464,116.2q1.9,-1.2 5.0,-1.2l3.1,0.1q2.8,0.1 4.3,1.2z" fill="#f6f8fb"/><path d="M241,189.7q3.1,-2.6 8.3,-2.7l5.2,0.1q4.7,0.3 7.3,2.6z" fill="#dce1e9"/><path d="M367,162.9q1.0,-1.0 2.6,-1.0l1.7,0.0q1.5,0.1 2.3,1.0z" fill="#e2e6ee"/><path d="M276,182.8q2.0,-2.2 5.2,-2.3l3.3,0.1q2.9,0.2 4.6,2.2z" fill="#d3d9e3"/><path d="M256,135.5q0.6,-0.5 1.6,-0.5l1.0,0.0q0.9,0.1 1.4,0.5z" fill="#e2e6ee"/><path d="M95,110.3q1.4,-0.9 3.7,-0.9l2.3,0.0q2.1,0.1 3.2,0.9z" fill="#dce1e9"/><path d="M147,163.4q2.4,-2.5 6.4,-2.6l4.0,0.1q3.6,0.2 5.6,2.5z" fill="#e2e6ee"/><path d="M101,123.2q1.0,-0.7 2.8,-0.7l1.7,0.0q1.6,0.1 2.4,0.7z" fill="#f6f8fb"/><path d="M57,183.0q2.0,-2.3 5.4,-2.4l3.4,0.1q3.1,0.2 4.8,2.3z" fill="#dce1e9"/><path d="M304,185.1q3.0,-2.9 8.1,-3.0l5.0,0.1q4.5,0.3 7.1,2.9z" fill="#e2e6ee"/><path d="M237,235.7q5.3,-4.1 14.3,-4.3l8.9,0.2q8.0,0.4 12.5,4.1z" fill="#f6f8fb"/><path d="M384,254.7q6.3,-6.2 16.7,-6.5l10.4,0.3q9.4,0.6 14.6,6.2z" fill="#aeb6c5"/><path d="M155,238.5q2.7,-2.2 7.3,-2.3l4.6,0.1q4.1,0.2 6.4,2.2z" fill="#eef1f6"/><path d="M417,224.2q4.4,-3.3 11.6,-3.5l7.3,0.2q6.5,0.3 10.2,3.3z" fill="#c2c9d6"/><path d="M390,174.2q3.1,-3.5 8.3,-3.6l5.2,0.2q4.6,0.3 7.2,3.5z" fill="#d3d9e3"/><path d="M374,209.4q3.6,-2.9 9.5,-3.0l6.0,0.1q5.4,0.3 8.3,2.9z" fill="#aeb6c5"/><path d="M436,198.3q2.3,-1.7 6.2,-1.7l3.9,0.1q3.5,0.2 5.4,1.7z" fill="#d3d9e3"/><path d="M62,176.3q3.2,-3.0 8.4,-3.1l5.3,0.1q4.7,0.3 7.4,3.0z" fill="#e2e6ee"/><path d="M70,174.5q2.8,-2.1 7.5,-2.2l4.7,0.1q4.2,0.2 6.5,2.1z" fill="#e2e6ee"/><path d="M431,170.4q3.4,-3.3 9.2,-3.4l5.7,0.2q5.1,0.3 8.0,3.3z" fill="#dce1e9"/><path d="M107,191.5q1.4,-1.2 3.7,-1.2l2.3,0.1q2.1,0.1 3.3,1.2z" fill="#aeb6c5"/><path d="M124,167.0q1.9,-1.3 5.0,-1.4l3.1,0.1q2.8,0.1 4.4,1.3z" fill="#aeb6c5"/><path d="M69,188.5q4.2,-4.6 11.1,-4.8l7.0,0.2q6.3,0.5 9.7,4.6z" fill="#d3d9e3"/><path d="M384,191.2q3.1,-2.2 8.3,-2.3l5.2,0.1q4.7,0.2 7.3,2.2z" fill="#d3d9e3"/><path d="M317,255.7q3.8,-3.3 10.0,-3.5l6.3,0.2q5.6,0.3 8.8,3.3z" fill="#aeb6c5"/><path d="M460,132.4q1.6,-1.8 4.4,-1.9l2.7,0.1q2.5,0.2 3.8,1.8z" fill="#f6f8fb"/><path d="M290,247.8q3.7,-2.2 9.9,-2.3l6.2,0.1q5.6,0.2 8.6,2.2z" fill="#eef1f6"/><path d="M297,116.6q1.0,-0.6 2.8,-0.7l1.7,0.0q1.6,0.1 2.4,0.6z" fill="#d3d9e3"/><path d="M304,138.2q0.9,-0.6 2.5,-0.7l1.6,0.0q1.4,0.1 2.2,0.6z" fill="#aeb6c5"/><path d="M429,175.3q2.6,-2.7 7.0,-2.8l4.4,0.1q3.9,0.3 6.1,2.7z" fill="#dce1e9"/><path d="M100,194.8q2.7,-2.9 7.3,-3.0l4.6,0.1q4.1,0.3 6.4,2.9z" fill="#e2e6ee"/><path d="M421,161.7q1.5,-1.3 3.9,-1.3l2.4,0.1q2.2,0.1 3.4,1.3z" fill="#dce1e9"/><path d="M196,208.5q4.0,-4.4 10.6,-4.7l6.6,0.2q5.9,0.4 9.2,4.4z" fill="#d3d9e3"/><path d="M193,192.3q4.0,-3.6 10.8,-3.8l6.7,0.2q6.1,0.4 9.4,3.6z" fill="#d3d9e3"/><path d="M129,148.5q0.7,-0.8 1.9,-0.8l1.2,0.0q1.1,0.1 1.7,0.8z" fill="#aeb6c5"/><path d="M167,176.7q1.9,-1.5 4.9,-1.6l3.1,0.1q2.8,0.2 4.3,1.5z" fill="#aeb6c5"/><path d="M253,207.7q4.2,-3.3 11.3,-3.5l7.1,0.2q6.4,0.3 9.9,3.3z" fill="#d3d9e3"/><path d="M88,111.8q1.5,-1.0 4.0,-1.0l2.5,0.0q2.3,0.1 3.5,1.0z" fill="#dce1e9"/><path d="M183,218.3q2.5,-1.9 6.8,-2.0l4.2,0.1q3.8,0.2 5.9,1.9z" fill="#d3d9e3"/><path d="M105,230.1q1.4,-1.2 3.7,-1.3l2.3,0.1q2.1,0.1 3.2,1.2z" fill="#c2c9d6"/><path d="M256,257.3q1.8,-1.5 4.7,-1.6l2.9,0.1q2.6,0.2 4.1,1.5z" fill="#f6f8fb"/><path d="M230,187.5q2.5,-1.7 6.6,-1.8l4.1,0.1q3.7,0.2 5.8,1.7z" fill="#c2c9d6"/><path d="M126,222.8q3.5,-2.2 9.4,-2.3l5.9,0.1q5.3,0.2 8.2,2.2z" fill="#c2c9d6"/><path d="M75,213.8q1.6,-1.0 4.2,-1.1l2.6,0.1q2.3,0.1 3.6,1.0z" fill="#f6f8fb"/><path d="M88,175.4q3.1,-2.6 8.3,-2.7l5.2,0.1q4.7,0.3 7.3,2.6z" fill="#c2c9d6"/><path d="M297,151.7q1.6,-1.7 4.2,-1.8l2.6,0.1q2.4,0.2 3.7,1.7z" fill="#aeb6c5"/><path d="M48,146.1q1.8,-1.5 4.7,-1.6l2.9,0.1q2.6,0.2 4.1,1.5z" fill="#e2e6ee"/><path d="M410,145.5q0.9,-1.0 2.4,-1.1l1.5,0.1q1.3,0.1 2.1,1.0z" fill="#c2c9d6"/><path d="M478,146.5q2.3,-2.0 6.1,-2.1l3.8,0.1q3.4,0.2 5.3,2.0z" fill="#d3d9e3"/><path d="M84,164.8q1.1,-0.9 3.0,-0.9l1.9,0.0q1.7,0.1 2.6,0.9z" fill="#eef1f6"/><path d="M106,235.8q4.9,-5.7 13.1,-5.9l8.2,0.3q7.4,0.6 11.4,5.7z" fill="#eef1f6"/><path d="M390,196.4q1.6,-1.5 4.4,-1.6l2.7,0.1q2.5,0.2 3.8,1.5z" fill="#dce1e9"/><path d="M451,111.5q1.7,-1.9 4.5,-2.0l2.8,0.1q2.6,0.2 4.0,1.9z" fill="#eef1f6"/><path d="M69,184.7q1.0,-0.9 2.8,-1.0l1.7,0.0q1.6,0.1 2.4,0.9z" fill="#dce1e9"/><path d="M201,208.2q1.8,-1.1 4.8,-1.2l3.0,0.1q2.7,0.1 4.2,1.1z" fill="#eef1f6"/><path d="M254,230.0q1.7,-1.9 4.5,-2.0l2.8,0.1q2.5,0.2 3.9,1.9z" fill="#c2c9d6"/><path d="M427,237.9q3.8,-3.4 10.2,-3.6l6.4,0.2q5.7,0.3 8.9,3.4z" fill="#aeb6c5"/><path d="M54,226.0q5.2,-5.6 13.8,-5.9l8.7,0.3q7.8,0.6 12.1,5.6z" fill="#eef1f6"/><path d="M242,173.6q2.4,-2.2 6.3,-2.3l3.9,0.1q3.5,0.2 5.5,2.2z" fill="#d3d9e3"/><path d="M438,151.3q2.7,-2.4 7.2,-2.6l4.5,0.1q4.0,0.2 6.3,2.4z" fill="#f6f8fb"/><path d="M380,228.0q2.7,-2.1 7.3,-2.2l4.5,0.1q4.1,0.2 6.4,2.1z" fill="#e2e6ee"/><path d="M386,192.5q1.3,-1.2 3.5,-1.2l2.2,0.1q2.0,0.1 3.1,1.2z" fill="#eef1f6"/><path d="M474,195.2q1.2,-1.1 3.3,-1.2l2.1,0.1q1.9,0.1 2.9,1.1z" fill="#aeb6c5"/><path d="M22,139.9q2.5,-2.4 6.7,-2.5l4.2,0.1q3.8,0.2 5.9,2.4z" fill="#e2e6ee"/><path d="M406,117.5q1.3,-1.4 3.5,-1.5l2.2,0.1q2.0,0.1 3.1,1.4z" fill="#d3d9e3"/><path d="M40,131.4q0.7,-0.7 1.9,-0.7l1.2,0.0q1.1,0.1 1.7,0.7z" fill="#f6f8fb"/><path d="M58,125.8q1.5,-1.6 4.1,-1.7l2.6,0.1q2.3,0.2 3.6,1.6z" fill="#eef1f6"/><path d="M70,197.5q4.4,-3.5 11.8,-3.6l7.4,0.2q6.6,0.3 10.3,3.5z" fill="#d3d9e3"/><path d="M399,129.8q1.6,-1.0 4.2,-1.1l2.6,0.1q2.4,0.1 3.7,1.0z" fill="#d3d9e3"/><path d="M32,136.9q2.4,-1.6 6.3,-1.6l3.9,0.1q3.5,0.2 5.5,1.6z" fill="#c2c9d6"/><path d="M45,111.5q0.6,-0.4 1.5,-0.5l0.9,0.0q0.8,0.0 1.3,0.4z" fill="#dce1e9"/><path d="M191,207.4q1.3,-0.8 3.4,-0.9l2.1,0.0q1.9,0.1 3.0,0.8z" fill="#f6f8fb"/><path d="M108,253.5q4.9,-5.5 13.2,-5.8l8.2,0.3q7.4,0.5 11.5,5.5z" fill="#aeb6c5"/><path d="M480,234.0q1.9,-2.2 5.1,-2.3l3.2,0.1q2.9,0.2 4.5,2.2z" fill="#f6f8fb"/><path d="M57,113.2q0.4,-0.4 1.2,-0.4l0.7,0.0q0.6,0.0 1.0,0.4z" fill="#c2c9d6"/><path d="M296,182.3q1.0,-1.1 2.6,-1.2l1.7,0.1q1.5,0.1 2.3,1.1z" fill="#c2c9d6"/><path d="M389,148.0q2.5,-2.2 6.7,-2.3l4.2,0.1q3.7,0.2 5.8,2.2z" fill="#c2c9d6"/><path d="M129,119.2q0.7,-0.7 1.8,-0.7l1.1,0.0q1.0,0.1 1.6,0.7z" fill="#aeb6c5"/><path d="M455,155.0q1.1,-1.1 3.0,-1.2l1.9,0.1q1.7,0.1 2.6,1.1z" fill="#f6f8fb"/><path d="M38,190.6q3.1,-3.4 8.4,-3.5l5.2,0.2q4.7,0.3 7.3,3.4z" fill="#e2e6ee"/><path d="M34,125.8q1.4,-1.2 3.7,-1.2l2.3,0.1q2.1,0.1 3.3,1.2z" fill="#e2e6ee"/><path d="M229,251.5q5.1,-5.1 13.5,-5.4l8.5,0.3q7.6,0.5 11.8,5.1z" fill="#d3d9e3"/><path d="M379,111.1q1.4,-1.6 3.7,-1.7l2.3,0.1q2.1,0.2 3.3,1.6z" fill="#c2c9d6"/><path d="M478,126.9q2.1,-1.5 5.6,-1.5l3.5,0.1q3.2,0.1 4.9,1.5z" fill="#d3d9e3"/><path d="M371,150.6q1.8,-1.6 4.8,-1.6l3.0,0.1q2.7,0.2 4.2,1.6z" fill="#f6f8fb"/><path d="M148,241.3q5.2,-3.9 13.8,-4.1l8.6,0.2q7.7,0.4 12.0,3.9z" fill="#eef1f6"/><path d="M139,195.3q3.9,-3.7 10.5,-3.8l6.5,0.2q5.9,0.4 9.2,3.7z" fill="#aeb6c5"/><path d="M273,210.8q2.9,-2.6 7.8,-2.7l4.9,0.1q4.4,0.3 6.8,2.6z" fill="#f6f8fb"/><path d="M363,213.5q4.1,-3.0 10.9,-3.1l6.8,0.1q6.1,0.3 9.5,3.0z" fill="#dce1e9"/><path d="M443,211.0q2.3,-1.8 6.1,-1.8l3.8,0.1q3.4,0.2 5.3,1.8z" fill="#f6f8fb"/><path d="M341,257.6q2.3,-1.8 6.1,-1.8l3.8,0.1q3.4,0.2 5.4,1.8z" fill="#c2c9d6"/><path d="M74,123.6q0.8,-0.6 2.3,-0.7l1.4,0.0q1.3,0.1 2.0,0.6z" fill="#d3d9e3"/><path d="M433,204.8q1.9,-2.1 5.1,-2.2l3.2,0.1q2.8,0.2 4.4,2.1z" fill="#e2e6ee"/><path d="M407,156.4q1.8,-1.5 4.7,-1.5l2.9,0.1q2.6,0.1 4.1,1.5z" fill="#c2c9d6"/><path d="M39,206.7q3.5,-2.3 9.4,-2.4l5.9,0.1q5.3,0.2 8.2,2.3z" fill="#c2c9d6"/><path d="M263,201.2q2.7,-1.9 7.2,-2.0l4.5,0.1q4.1,0.2 6.3,1.9z" fill="#d3d9e3"/><path d="M227,243.4q4.9,-3.6 13.0,-3.8l8.1,0.2q7.3,0.4 11.4,3.6z" fill="#eef1f6"/><path d="M366,173.6q2.8,-2.5 7.5,-2.6l4.7,0.1q4.2,0.2 6.6,2.5z" fill="#c2c9d6"/><path d="M157,124.1q0.9,-0.7 2.5,-0.8l1.6,0.0q1.4,0.1 2.2,0.7z" fill="#aeb6c5"/><path d="M327,163.6q3.2,-3.0 8.4,-3.1l5.3,0.1q4.7,0.3 7.4,3.0z" fill="#eef1f6"/><path d="M470,188.4q2.2,-2.0 5.9,-2.1l3.7,0.1q3.3,0.2 5.2,2.0z" fill="#e2e6ee"/><path d="M10,256.8q5.1,-4.6 13.6,-4.8l8.5,0.2q7.6,0.5 11.9,4.6z" fill="#d3d9e3"/><path d="M180,167.9q1.7,-1.6 4.7,-1.7l2.9,0.1q2.6,0.2 4.1,1.6z" fill="#f6f8fb"/><path d="M380,174.5q1.3,-1.1 3.4,-1.1l2.1,0.1q1.9,0.1 3.0,1.1z" fill="#aeb6c5"/><path d="M466,169.0q1.4,-1.4 3.6,-1.5l2.3,0.1q2.1,0.1 3.2,1.4z" fill="#d3d9e3"/><path d="M39,134.1q2.4,-2.1 6.4,-2.2l4.0,0.1q3.6,0.2 5.6,2.1z" fill="#dce1e9"/><path d="M315,140.0q0.9,-0.7 2.3,-0.7l1.5,0.0q1.3,0.1 2.1,0.7z" fill="#c2c9d6"/><path d="M374,158.0q1.1,-0.7 2.8,-0.7l1.8,0.0q1.6,0.1 2.5,0.7z" fill="#f6f8fb"/><path d="M479,218.1q1.9,-1.2 5.1,-1.3l3.2,0.1q2.9,0.1 4.5,1.2z" fill="#d3d9e3"/><path d="M188,257.6q6.4,-6.0 17.0,-6.3l10.6,0.3q9.5,0.6 14.8,6.0z" fill="#f6f8fb"/><path d="M25,113.4q1.6,-1.3 4.2,-1.4l2.6,0.1q2.3,0.1 3.6,1.3z" fill="#eef1f6"/><path d="M167,146.5q1.9,-1.3 5.2,-1.4l3.2,0.1q2.9,0.1 4.5,1.3z" fill="#e2e6ee"/><path d="M250,213.5q3.6,-3.3 9.5,-3.5l6.0,0.2q5.4,0.3 8.3,3.3z" fill="#d3d9e3"/><path d="M380,125.5q1.0,-1.0 2.7,-1.1l1.7,0.1q1.5,0.1 2.4,1.0z" fill="#f6f8fb"/><path d="M307,243.4q2.2,-1.7 5.9,-1.8l3.7,0.1q3.3,0.2 5.2,1.7z" fill="#c2c9d6"/><path d="M480,137.4q0.7,-0.6 1.9,-0.6l1.2,0.0q1.1,0.1 1.7,0.6z" fill="#f6f8fb"/><path d="M63,155.6q3.1,-3.3 8.4,-3.4l5.2,0.2q4.7,0.3 7.3,3.3z" fill="#c2c9d6"/><path d="M334,137.7q2.0,-1.5 5.4,-1.6l3.4,0.1q3.0,0.2 4.7,1.5z" fill="#c2c9d6"/><path d="M475,112.2q1.1,-0.9 3.0,-0.9l1.9,0.0q1.7,0.1 2.6,0.9z" fill="#aeb6c5"/><path d="M165,140.0q1.6,-1.4 4.4,-1.4l2.7,0.1q2.5,0.1 3.8,1.4z" fill="#e2e6ee"/><path d="M299,222.3q3.0,-2.8 7.9,-2.9l5.0,0.1q4.5,0.3 7.0,2.8z" fill="#dce1e9"/><path d="M89,239.5q2.3,-1.7 6.0,-1.7l3.8,0.1q3.4,0.2 5.3,1.7z" fill="#eef1f6"/><path d="M333,224.9q4.9,-4.6 13.1,-4.8l8.2,0.2q7.4,0.5 11.4,4.6z" fill="#f6f8fb"/><path d="M312,178.6q3.1,-3.1 8.3,-3.2l5.2,0.2q4.7,0.3 7.2,3.1z" fill="#dce1e9"/><path d="M186,111.0q0.9,-0.8 2.4,-0.8l1.5,0.0q1.3,0.1 2.1,0.8z" fill="#eef1f6"/><path d="M348,207.8q4.0,-4.1 10.8,-4.3l6.7,0.2q6.1,0.4 9.4,4.1z" fill="#f6f8fb"/><path d="M215,163.7q1.7,-1.7 4.4,-1.8l2.8,0.1q2.5,0.2 3.9,1.7z" fill="#e2e6ee"/><path d="M175,151.0q2.1,-2.4 5.6,-2.5l3.5,0.1q3.1,0.2 4.9,2.4z" fill="#e2e6ee"/><path d="M343,199.1q2.1,-1.4 5.7,-1.4l3.6,0.1q3.2,0.1 5.0,1.4z" fill="#e2e6ee"/><path d="M182,171.0q1.9,-1.8 5.1,-1.9l3.2,0.1q2.9,0.2 4.4,1.8z" fill="#e2e6ee"/><path d="M302,135.2q1.8,-1.4 4.8,-1.4l3.0,0.1q2.7,0.1 4.2,1.4z" fill="#aeb6c5"/><path d="M159,160.9q2.8,-2.1 7.6,-2.2l4.7,0.1q4.3,0.2 6.6,2.1z" fill="#c2c9d6"/><path d="M426,223.2q3.4,-3.6 9.0,-3.8l5.6,0.2q5.0,0.4 7.9,3.6z" fill="#d3d9e3"/><path d="M376,174.0q3.5,-2.5 9.2,-2.7l5.8,0.1q5.2,0.3 8.1,2.5z" fill="#c2c9d6"/><path d="M115,214.2q3.0,-2.8 8.0,-2.9l5.0,0.1q4.5,0.3 7.0,2.8z" fill="#eef1f6"/><path d="M130,142.2q1.6,-1.2 4.1,-1.3l2.6,0.1q2.3,0.1 3.6,1.2z" fill="#d3d9e3"/><path d="M249,114.0q1.7,-1.2 4.4,-1.2l2.8,0.1q2.5,0.1 3.9,1.2z" fill="#c2c9d6"/><path d="M293,195.7q3.0,-1.9 8.1,-2.0l5.0,0.1q4.5,0.2 7.1,1.9z" fill="#c2c9d6"/><path d="M65,119.9q0.8,-0.8 2.1,-0.8l1.3,0.0q1.2,0.1 1.8,0.8z" fill="#e2e6ee"/><path d="M134,156.3q2.6,-2.7 7.0,-2.8l4.4,0.1q3.9,0.3 6.1,2.7z" fill="#c2c9d6"/><path d="M312,172.6q2.7,-2.4 7.2,-2.5l4.5,0.1q4.1,0.2 6.3,2.4z" fill="#c2c9d6"/><path d="M16,212.9q4.7,-5.4 12.6,-5.7l7.9,0.3q7.1,0.5 11.0,5.4z" fill="#eef1f6"/><path d="M100,210.1q4.9,-4.2 13.2,-4.4l8.2,0.2q7.4,0.4 11.5,4.2z" fill="#dce1e9"/><path d="M378,175.3q1.5,-1.3 4.1,-1.3l2.6,0.1q2.3,0.1 3.6,1.3z" fill="#dce1e9"/><path d="M169,110.6q1.3,-1.4 3.5,-1.5l2.2,0.1q1.9,0.1 3.0,1.4z" fill="#e2e6ee"/><path d="M386,146.3q2.2,-1.3 5.8,-1.4l3.6,0.1q3.3,0.1 5.1,1.3z" fill="#c2c9d6"/><path d="M121,173.0q1.7,-1.5 4.5,-1.6l2.8,0.1q2.5,0.2 3.9,1.5z" fill="#d3d9e3"/><path d="M314,245.7q2.1,-2.2 5.6,-2.3l3.5,0.1q3.1,0.2 4.9,2.2z" fill="#aeb6c5"/><path d="M347,242.1q3.0,-3.2 8.0,-3.4l5.0,0.2q4.5,0.3 7.0,3.2z" fill="#dce1e9"/><path d="M201,123.9q1.0,-0.8 2.6,-0.8l1.6,0.0q1.5,0.1 2.3,0.8z" fill="#eef1f6"/><path d="M311,217.9q4.2,-4.5 11.2,-4.7l7.0,0.2q6.3,0.4 9.8,4.5z" fill="#c2c9d6"/><path d="M321,244.5q4.9,-5.3 13.1,-5.5l8.2,0.3q7.4,0.5 11.4,5.3z" fill="#d3d9e3"/><path d="M276,161.8q1.3,-1.4 3.6,-1.5l2.2,0.1q2.0,0.1 3.1,1.4z" fill="#c2c9d6"/><path d="M30,207.5q3.8,-4.4 10.2,-4.6l6.4,0.2q5.7,0.4 8.9,4.4z" fill="#eef1f6"/><path d="M178,196.7q3.2,-2.0 8.5,-2.1l5.3,0.1q4.8,0.2 7.4,2.0z" fill="#f6f8fb"/><path d="M430,243.9q1.6,-1.2 4.4,-1.2l2.7,0.1q2.5,0.1 3.8,1.2z" fill="#d3d9e3"/><path d="M472,200.4q3.0,-2.3 8.0,-2.4l5.0,0.1q4.5,0.2 7.0,2.3z" fill="#d3d9e3"/><path d="M255,123.2q1.5,-1.0 3.9,-1.1l2.4,0.1q2.2,0.1 3.4,1.0z" fill="#dce1e9"/><path d="M183,193.7q1.5,-1.4 4.0,-1.5l2.5,0.1q2.3,0.1 3.5,1.4z" fill="#d3d9e3"/><path d="M330,137.8q2.3,-2.4 6.2,-2.5l3.9,0.1q3.5,0.2 5.5,2.4z" fill="#e2e6ee"/><path d="M112,135.6q2.5,-1.8 6.7,-1.9l4.2,0.1q3.8,0.2 5.8,1.8z" fill="#d3d9e3"/><path d="M69,127.9q1.9,-1.7 5.0,-1.8l3.1,0.1q2.8,0.2 4.4,1.7z" fill="#eef1f6"/><path d="M186,128.2q1.0,-1.1 2.7,-1.2l1.7,0.1q1.5,0.1 2.4,1.1z" fill="#dce1e9"/><path d="M206,221.0q2.2,-2.4 5.8,-2.5l3.6,0.1q3.3,0.2 5.1,2.4z" fill="#aeb6c5"/><path d="M350,120.9q1.4,-1.3 3.8,-1.3l2.4,0.1q2.1,0.1 3.3,1.3z" fill="#dce1e9"/><path d="M192,210.0q4.9,-3.7 13.1,-3.9l8.2,0.2q7.4,0.4 11.4,3.7z" fill="#aeb6c5"/><path d="M76,183.4q2.1,-1.3 5.5,-1.3l3.4,0.1q3.1,0.1 4.8,1.3z" fill="#c2c9d6"/><path d="M151,156.0q2.4,-1.9 6.4,-2.0l4.0,0.1q3.6,0.2 5.6,1.9z" fill="#f6f8fb"/><path d="M223,134.1q0.9,-0.8 2.4,-0.9l1.5,0.0q1.4,0.1 2.1,0.8z" fill="#e2e6ee"/><path d="M223,160.9q1.2,-0.8 3.3,-0.9l2.1,0.0q1.9,0.1 2.9,0.8z" fill="#aeb6c5"/><path d="M111,154.9q1.9,-1.6 5.0,-1.6l3.2,0.1q2.8,0.2 4.4,1.6z" fill="#e2e6ee"/><path d="M301,206.2q1.2,-1.1 3.3,-1.1l2.1,0.1q1.9,0.1 2.9,1.1z" fill="#f6f8fb"/><path d="M65,121.1q1.8,-1.8 4.9,-1.8l3.0,0.1q2.7,0.2 4.3,1.8z" fill="#d3d9e3"/><path d="M122,173.4q3.4,-2.1 9.0,-2.2l5.6,0.1q5.1,0.2 7.9,2.1z" fill="#d3d9e3"/><path d="M361,114.5q0.6,-0.5 1.7,-0.6l1.1,0.0q1.0,0.1 1.5,0.5z" fill="#d3d9e3"/><path d="M31,242.3q2.3,-2.3 6.2,-2.4l3.9,0.1q3.5,0.2 5.5,2.3z" fill="#aeb6c5"/><path d="M326,135.8q1.2,-1.2 3.3,-1.2l2.0,0.1q1.8,0.1 2.9,1.2z" fill="#f6f8fb"/><path d="M340,154.0q3.1,-3.0 8.1,-3.1l5.1,0.1q4.6,0.3 7.1,3.0z" fill="#f6f8fb"/><path d="M367,233.6q2.9,-1.8 7.8,-1.9l4.9,0.1q4.4,0.2 6.9,1.8z" fill="#eef1f6"/><path d="M48,231.2q1.4,-1.5 3.8,-1.6l2.4,0.1q2.2,0.1 3.3,1.5z" fill="#c2c9d6"/><path d="M179,209.2q3.4,-2.9 9.2,-3.1l5.7,0.1q5.2,0.3 8.0,2.9z" fill="#f6f8fb"/><path d="M149,148.3q2.8,-2.3 7.5,-2.4l4.7,0.1q4.2,0.2 6.6,2.3z" fill="#e2e6ee"/><path d="M453,191.7q2.3,-1.6 6.2,-1.6l3.9,0.1q3.5,0.2 5.4,1.6z" fill="#eef1f6"/><path d="M200,227.0q2.6,-2.7 6.8,-2.9l4.3,0.1q3.8,0.3 6.0,2.7z" fill="#e2e6ee"/><path d="M298,164.5q2.4,-2.2 6.4,-2.3l4.0,0.1q3.6,0.2 5.6,2.2z" fill="#c2c9d6"/><path d="M362,151.3q1.5,-1.1 3.9,-1.2l2.5,0.1q2.2,0.1 3.4,1.1z" fill="#e2e6ee"/><path d="M41,120.0q1.2,-1.3 3.1,-1.4l1.9,0.1q1.7,0.1 2.7,1.3z" fill="#aeb6c5"/><path d="M306,134.2q0.7,-0.8 1.9,-0.8l1.2,0.0q1.1,0.1 1.7,0.8z" fill="#eef1f6"/><path d="M26,227.7q2.1,-1.9 5.6,-2.0l3.5,0.1q3.2,0.2 4.9,1.9z" fill="#eef1f6"/><path d="M234,123.3q1.5,-1.0 4.1,-1.0l2.6,0.0q2.3,0.1 3.6,1.0z" fill="#d3d9e3"/><path d="M364,229.0q3.6,-2.4 9.7,-2.6l6.1,0.1q5.5,0.2 8.5,2.4z" fill="#f6f8fb"/><path d="M218,145.6q1.1,-1.2 2.9,-1.3l1.8,0.1q1.6,0.1 2.5,1.2z" fill="#d3d9e3"/><path d="M233,179.6q2.3,-1.5 6.1,-1.5l3.8,0.1q3.4,0.1 5.3,1.5z" fill="#aeb6c5"/><path d="M422,133.6q1.4,-1.6 3.8,-1.6l2.4,0.1q2.1,0.2 3.3,1.6z" fill="#d3d9e3"/><path d="M422,153.9q2.1,-2.4 5.5,-2.5l3.4,0.1q3.1,0.2 4.8,2.4z" fill="#c2c9d6"/><path d="M169,134.2q2.2,-2.5 5.7,-2.6l3.6,0.1q3.2,0.2 5.0,2.5z" fill="#d3d9e3"/><path d="M54,123.3q0.8,-0.8 2.3,-0.9l1.4,0.0q1.3,0.1 2.0,0.8z" fill="#d3d9e3"/><path d="M161,122.9q1.3,-1.3 3.5,-1.3l2.2,0.1q2.0,0.1 3.1,1.3z" fill="#c2c9d6"/><path d="M129,181.5q1.3,-1.4 3.5,-1.5l2.2,0.1q1.9,0.1 3.0,1.4z" fill="#eef1f6"/><path d="M59,191.1q2.1,-1.6 5.6,-1.7l3.5,0.1q3.1,0.2 4.9,1.6z" fill="#dce1e9"/><path d="M329,240.4q2.5,-2.2 6.6,-2.3l4.1,0.1q3.7,0.2 5.8,2.2z" fill="#d3d9e3"/><path d="M54,111.1q1.0,-0.8 2.6,-0.8l1.6,0.0q1.5,0.1 2.3,0.8z" fill="#eef1f6"/><path d="M309,118.9q0.9,-0.7 2.5,-0.7l1.5,0.0q1.4,0.1 2.2,0.7z" fill="#dce1e9"/><path d="M246,230.3q2.4,-2.0 6.3,-2.1l3.9,0.1q3.5,0.2 5.5,2.0z" fill="#e2e6ee"/><path d="M358,190.5q4.0,-4.2 10.5,-4.4l6.6,0.2q5.9,0.4 9.2,4.2z" fill="#dce1e9"/><path d="M72,239.4q3.1,-2.1 8.2,-2.2l5.1,0.1q4.6,0.2 7.2,2.1z" fill="#c2c9d6"/><path d="M345,181.5q2.9,-2.8 7.8,-2.9l4.9,0.1q4.4,0.3 6.8,2.8z" fill="#aeb6c5"/><path d="M105,247.8q4.2,-3.9 11.3,-4.1l7.1,0.2q6.3,0.4 9.9,3.9z" fill="#d3d9e3"/><path d="M199,209.4q3.3,-3.5 8.7,-3.7l5.4,0.2q4.9,0.4 7.6,3.5z" fill="#c2c9d6"/><path d="M446,232.1q2.6,-2.1 6.8,-2.2l4.3,0.1q3.8,0.2 6.0,2.1z" fill="#d3d9e3"/><path d="M246,253.4q3.8,-3.7 10.1,-3.9l6.3,0.2q5.7,0.4 8.8,3.7z" fill="#e2e6ee"/><path d="M62,149.7q2.7,-1.6 7.1,-1.7l4.4,0.1q4.0,0.2 6.2,1.6z" fill="#dce1e9"/><path d="M367,222.7q2.8,-3.2 7.4,-3.4l4.6,0.2q4.2,0.3 6.5,3.2z" fill="#c2c9d6"/><path d="M207,162.8q1.0,-0.6 2.6,-0.7l1.6,0.0q1.5,0.1 2.3,0.6z" fill="#d3d9e3"/><path d="M142,192.3q1.5,-1.3 3.9,-1.3l2.5,0.1q2.2,0.1 3.4,1.3z" fill="#e2e6ee"/><path d="M172,143.7q1.4,-1.0 3.8,-1.1l2.4,0.1q2.1,0.1 3.3,1.0z" fill="#aeb6c5"/><path d="M233,123.5q1.6,-1.1 4.2,-1.1l2.6,0.1q2.3,0.1 3.6,1.1z" fill="#c2c9d6"/><path d="M360,199.3q2.9,-1.9 7.7,-1.9l4.8,0.1q4.4,0.2 6.8,1.9z" fill="#e2e6ee"/><path d="M127,111.1q1.6,-1.5 4.2,-1.6l2.7,0.1q2.4,0.2 3.7,1.5z" fill="#e2e6ee"/><path d="M285,243.0q5.5,-4.9 14.7,-5.1l9.2,0.2q8.3,0.5 12.9,4.9z" fill="#dce1e9"/><path d="M311,231.0q5.0,-4.2 13.4,-4.4l8.4,0.2q7.6,0.4 11.8,4.2z" fill="#eef1f6"/><path d="M205,244.2q1.7,-1.7 4.5,-1.8l2.8,0.1q2.5,0.2 3.9,1.7z" fill="#aeb6c5"/><path d="M421,247.8q1.6,-1.6 4.2,-1.6l2.6,0.1q2.4,0.2 3.7,1.6z" fill="#f6f8fb"/><path d="M304,145.1q1.9,-1.6 5.2,-1.7l3.2,0.1q2.9,0.2 4.5,1.6z" fill="#eef1f6"/><path d="M439,205.3q3.4,-2.0 9.0,-2.1l5.6,0.1q5.1,0.2 7.9,2.0z" fill="#c2c9d6"/><path d="M103,235.1q2.5,-1.5 6.6,-1.6l4.1,0.1q3.7,0.2 5.8,1.5z" fill="#dce1e9"/><path d="M25,132.3q1.8,-1.6 4.8,-1.7l3.0,0.1q2.7,0.2 4.2,1.6z" fill="#e2e6ee"/><path d="M70,141.0q2.3,-1.9 6.1,-2.0l3.8,0.1q3.4,0.2 5.3,1.9z" fill="#d3d9e3"/><path d="M376,153.1q1.9,-2.0 5.0,-2.1l3.1,0.1q2.8,0.2 4.4,2.0z" fill="#d3d9e3"/><path d="M142,148.5q0.8,-0.8 2.1,-0.8l1.3,0.0q1.2,0.1 1.9,0.8z" fill="#aeb6c5"/><path d="M88,154.5q2.4,-2.3 6.5,-2.4l4.1,0.1q3.7,0.2 5.7,2.3z" fill="#e2e6ee"/><path d="M397,180.0q1.9,-1.6 5.0,-1.7l3.1,0.1q2.8,0.2 4.4,1.6z" fill="#d3d9e3"/><path d="M431,153.6q2.0,-2.3 5.4,-2.4l3.4,0.1q3.0,0.2 4.7,2.3z" fill="#dce1e9"/><path d="M444,110.7q0.6,-0.6 1.5,-0.7l0.9,0.0q0.9,0.1 1.3,0.6z" fill="#d3d9e3"/><path d="M153,217.5q4.6,-4.6 12.3,-4.9l7.7,0.2q6.9,0.5 10.8,4.6z" fill="#e2e6ee"/><path d="M467,179.3q1.3,-1.4 3.4,-1.5l2.1,0.1q1.9,0.1 3.0,1.4z" fill="#e2e6ee"/><path d="M355,191.7q1.5,-1.3 3.9,-1.4l2.4,0.1q2.2,0.1 3.4,1.3z" fill="#dce1e9"/><path d="M56,251.4q3.9,-3.5 10.3,-3.7l6.4,0.2q5.8,0.3 9.0,3.5z" fill="#f6f8fb"/><path d="M234,175.9q2.7,-2.9 7.2,-3.0l4.5,0.1q4.0,0.3 6.3,2.9z" fill="#e2e6ee"/><path d="M69,213.8q1.3,-0.9 3.4,-0.9l2.1,0.0q1.9,0.1 3.0,0.9z" fill="#e2e6ee"/><path d="M474,222.9q1.8,-1.1 4.8,-1.2l3.0,0.1q2.7,0.1 4.2,1.1z" fill="#c2c9d6"/><path d="M82,185.4q1.2,-1.1 3.3,-1.2l2.0,0.1q1.8,0.1 2.8,1.1z" fill="#aeb6c5"/><path d="M185,119.7q1.2,-1.4 3.2,-1.5l2.0,0.1q1.8,0.1 2.8,1.4z" fill="#f6f8fb"/><path d="M60,169.8q3.4,-3.5 9.1,-3.7l5.7,0.2q5.1,0.4 8.0,3.5z" fill="#dce1e9"/><path d="M123,120.5q0.8,-0.7 2.1,-0.7l1.3,0.0q1.2,0.1 1.8,0.7z" fill="#d3d9e3"/><path d="M201,198.1q2.8,-2.0 7.5,-2.1l4.7,0.1q4.2,0.2 6.6,2.0z" fill="#c2c9d6"/><path d="M41,115.3q0.8,-0.7 2.1,-0.7l1.3,0.0q1.2,0.1 1.9,0.7z" fill="#c2c9d6"/><path d="M52,223.9q1.3,-1.2 3.6,-1.2l2.2,0.1q2.0,0.1 3.1,1.2z" fill="#d3d9e3"/><path d="M196,167.1q1.4,-1.2 3.6,-1.3l2.3,0.1q2.0,0.1 3.2,1.2z" fill="#dce1e9"/><path d="M284,143.8q0.9,-0.9 2.4,-0.9l1.5,0.0q1.3,0.1 2.1,0.9z" fill="#d3d9e3"/><path d="M313,258.0q2.1,-2.5 5.7,-2.6l3.6,0.1q3.2,0.2 5.0,2.5z" fill="#e2e6ee"/><path d="M286,217.0q4.6,-3.7 12.3,-3.9l7.7,0.2q6.9,0.4 10.8,3.7z" fill="#dce1e9"/><path d="M464,151.4q2.1,-2.2 5.6,-2.3l3.5,0.1q3.1,0.2 4.9,2.2z" fill="#d3d9e3"/><path d="M236,126.2q1.3,-1.3 3.5,-1.4l2.2,0.1q2.0,0.1 3.1,1.3z" fill="#dce1e9"/><path d="M46,190.1q3.4,-2.3 9.1,-2.4l5.7,0.1q5.1,0.2 7.9,2.3z" fill="#c2c9d6"/><path d="M56,234.6q4.0,-3.9 10.7,-4.1l6.7,0.2q6.0,0.4 9.4,3.9z" fill="#dce1e9"/><path d="M63,150.8q2.6,-2.2 6.9,-2.3l4.3,0.1q3.9,0.2 6.0,2.2z" fill="#d3d9e3"/><path d="M232,255.1q4.5,-4.9 11.9,-5.1l7.5,0.2q6.7,0.5 10.4,4.9z" fill="#e2e6ee"/><path d="M425,183.1q1.7,-1.4 4.6,-1.5l2.9,0.1q2.6,0.1 4.0,1.4z" fill="#f6f8fb"/><path d="M287,160.1q2.2,-1.8 5.8,-1.9l3.6,0.1q3.3,0.2 5.1,1.8z" fill="#c2c9d6"/><path d="M141,227.3q3.7,-3.4 9.7,-3.6l6.1,0.2q5.5,0.3 8.5,3.4z" fill="#e2e6ee"/><path d="M286,129.4q2.0,-2.2 5.4,-2.3l3.4,0.1q3.0,0.2 4.7,2.2z" fill="#dce1e9"/><path d="M246,182.2q2.4,-1.5 6.4,-1.6l4.0,0.1q3.6,0.1 5.6,1.5z" fill="#d3d9e3"/><path d="M157,187.6q3.7,-3.3 10.0,-3.5l6.2,0.2q5.6,0.3 8.7,3.3z" fill="#c2c9d6"/><path d="M405,236.6q4.8,-3.7 12.7,-3.9l7.9,0.2q7.1,0.4 11.1,3.7z" fill="#d3d9e3"/><path d="M428,171.1q3.6,-3.4 9.5,-3.5l5.9,0.2q5.3,0.3 8.3,3.4z" fill="#aeb6c5"/><path d="M413,204.4q1.4,-1.0 3.7,-1.0l2.3,0.0q2.1,0.1 3.2,1.0z" fill="#e2e6ee"/><path d="M133,133.1q1.4,-1.5 3.6,-1.6l2.3,0.1q2.0,0.2 3.2,1.5z" fill="#aeb6c5"/><path d="M117,165.1q1.1,-0.7 3.0,-0.7l1.9,0.0q1.7,0.1 2.6,0.7z" fill="#c2c9d6"/><path d="M206,196.5q4.1,-4.6 10.8,-4.8l6.8,0.2q6.1,0.5 9.5,4.6z" fill="#c2c9d6"/><path d="M336,117.0q1.0,-1.0 2.6,-1.1l1.6,0.1q1.5,0.1 2.3,1.0z" fill="#aeb6c5"/><path d="M288,150.0q2.5,-2.3 6.6,-2.4l4.1,0.1q3.7,0.2 5.8,2.3z" fill="#c2c9d6"/><path d="M237,130.0q0.7,-0.7 1.8,-0.7l1.1,0.0q1.0,0.1 1.6,0.7z" fill="#dce1e9"/><path d="M372,169.5q0.9,-0.9 2.4,-0.9l1.5,0.0q1.4,0.1 2.1,0.9z" fill="#aeb6c5"/><path d="M166,194.7q3.8,-4.1 10.2,-4.3l6.4,0.2q5.7,0.4 8.9,4.1z" fill="#c2c9d6"/><path d="M461,208.3q1.6,-1.1 4.2,-1.2l2.7,0.1q2.4,0.1 3.7,1.1z" fill="#aeb6c5"/><path d="M329,144.1q1.1,-1.2 2.9,-1.2l1.8,0.1q1.7,0.1 2.6,1.2z" fill="#f6f8fb"/><path d="M65,195.3q1.6,-1.2 4.2,-1.3l2.6,0.1q2.3,0.1 3.7,1.2z" fill="#d3d9e3"/><path d="M374,239.8q5.5,-4.4 14.6,-4.6l9.1,0.2q8.2,0.4 12.8,4.4z" fill="#c2c9d6"/><path d="M420,115.1q0.7,-0.8 1.9,-0.8l1.2,0.0q1.1,0.1 1.6,0.8z" fill="#f6f8fb"/><path d="M319,160.7q3.3,-3.5 8.8,-3.6l5.5,0.2q4.9,0.3 7.7,3.5z" fill="#c2c9d6"/><path d="M376,159.9q2.6,-1.9 6.9,-1.9l4.3,0.1q3.9,0.2 6.0,1.9z" fill="#f6f8fb"/><path d="M95,130.5q1.1,-1.1 2.8,-1.2l1.8,0.1q1.6,0.1 2.5,1.1z" fill="#aeb6c5"/><path d="M116,224.5q3.0,-2.7 7.9,-2.8l4.9,0.1q4.4,0.3 6.9,2.7z" fill="#c2c9d6"/><path d="M259,164.5q3.4,-3.8 9.0,-4.0l5.6,0.2q5.1,0.4 7.9,3.8z" fill="#dce1e9"/><path d="M388,256.6q5.3,-5.4 14.1,-5.7l8.8,0.3q7.9,0.5 12.3,5.4z" fill="#eef1f6"/><path d="M282,215.0q3.3,-3.2 8.9,-3.3l5.6,0.2q5.0,0.3 7.8,3.2z" fill="#eef1f6"/><path d="M441,156.5q2.8,-1.9 7.5,-1.9l4.7,0.1q4.2,0.2 6.6,1.9z" fill="#eef1f6"/><path d="M368,142.1q1.0,-0.7 2.6,-0.7l1.6,0.0q1.5,0.1 2.3,0.7z" fill="#f6f8fb"/><path d="M185,233.1q1.7,-1.1 4.4,-1.2l2.8,0.1q2.5,0.1 3.9,1.1z" fill="#e2e6ee"/><path d="M389,128.0q1.7,-1.8 4.4,-1.9l2.8,0.1q2.5,0.2 3.9,1.8z" fill="#c2c9d6"/><path d="M61,236.6q1.5,-1.0 4.1,-1.1l2.6,0.1q2.3,0.1 3.6,1.0z" fill="#aeb6c5"/><path d="M66,186.8q1.1,-1.0 2.9,-1.0l1.8,0.0q1.6,0.1 2.5,1.0z" fill="#d3d9e3"/><path d="M388,140.8q1.9,-1.6 5.0,-1.7l3.1,0.1q2.8,0.2 4.4,1.6z" fill="#e2e6ee"/><path d="M334,147.0q1.5,-1.1 4.1,-1.2l2.6,0.1q2.3,0.1 3.6,1.1z" fill="#eef1f6"/><path d="M170,225.6q5.3,-4.7 14.0,-5.0l8.8,0.2q7.9,0.5 12.3,4.7z" fill="#d3d9e3"/><path d="M97,119.4q1.8,-1.5 4.7,-1.5l3.0,0.1q2.7,0.1 4.2,1.5z" fill="#c2c9d6"/><path d="M412,115.2q1.7,-1.2 4.4,-1.3l2.8,0.1q2.5,0.1 3.9,1.2z" fill="#d3d9e3"/><path d="M219,140.0q1.0,-0.8 2.6,-0.9l1.6,0.0q1.4,0.1 2.2,0.8z" fill="#c2c9d6"/><path d="M16,156.6q1.8,-1.7 4.7,-1.8l2.9,0.1q2.6,0.2 4.1,1.7z" fill="#d3d9e3"/><path d="M386,195.2q1.5,-1.1 4.0,-1.1l2.5,0.1q2.3,0.1 3.5,1.1z" fill="#c2c9d6"/><path d="M367,191.9q3.5,-2.3 9.4,-2.4l5.8,0.1q5.3,0.2 8.2,2.3z" fill="#c2c9d6"/><path d="M343,202.3q2.2,-2.2 5.8,-2.3l3.6,0.1q3.2,0.2 5.0,2.2z" fill="#d3d9e3"/><path d="M400,223.9q2.2,-2.6 6.0,-2.7l3.7,0.1q3.4,0.3 5.2,2.6z" fill="#dce1e9"/><path d="M159,118.6q0.6,-0.5 1.6,-0.6l1.0,0.0q0.9,0.1 1.4,0.5z" fill="#e2e6ee"/><path d="M344,124.5q1.3,-1.1 3.4,-1.1l2.1,0.1q1.9,0.1 2.9,1.1z" fill="#eef1f6"/><path d="M14,120.6q1.9,-1.5 5.0,-1.6l3.1,0.1q2.8,0.2 4.4,1.5z" fill="#aeb6c5"/><path d="M421,168.6q1.7,-1.9 4.5,-2.0l2.8,0.1q2.5,0.2 3.9,1.9z" fill="#c2c9d6"/><path d="M126,245.2q5.6,-6.4 14.8,-6.7l9.3,0.3q8.3,0.6 13.0,6.4z" fill="#d3d9e3"/><path d="M479,246.7q3.1,-2.3 8.4,-2.5l5.2,0.1q4.7,0.2 7.3,2.3z" fill="#e2e6ee"/><path d="M296,228.5q2.7,-1.9 7.3,-2.0l4.6,0.1q4.1,0.2 6.4,1.9z" fill="#f6f8fb"/><path d="M337,224.5q2.8,-2.2 7.4,-2.3l4.6,0.1q4.2,0.2 6.5,2.2z" fill="#aeb6c5"/><path d="M447,190.5q1.4,-1.3 3.8,-1.3l2.4,0.1q2.1,0.1 3.3,1.3z" fill="#e2e6ee"/><path d="M263,175.0q2.7,-3.0 7.2,-3.2l4.5,0.2q4.1,0.3 6.3,3.0z" fill="#dce1e9"/><path d="M303,212.4q3.2,-3.5 8.4,-3.6l5.3,0.2q4.8,0.3 7.4,3.5z" fill="#eef1f6"/><path d="M65,242.9q5.0,-5.4 13.3,-5.7l8.3,0.3q7.5,0.5 11.6,5.4z" fill="#eef1f6"/><path d="M49,158.8q3.2,-2.1 8.5,-2.2l5.3,0.1q4.8,0.2 7.4,2.1z" fill="#c2c9d6"/><path d="M262,118.7q1.7,-1.8 4.7,-1.9l2.9,0.1q2.6,0.2 4.1,1.8z" fill="#eef1f6"/><path d="M80,136.6q1.6,-1.2 4.3,-1.3l2.7,0.1q2.4,0.1 3.8,1.2z" fill="#f6f8fb"/><path d="M56,233.7q1.9,-2.2 5.2,-2.3l3.2,0.1q2.9,0.2 4.5,2.2z" fill="#f6f8fb"/><path d="M249,218.7q3.3,-2.1 8.7,-2.2l5.5,0.1q4.9,0.2 7.7,2.1z" fill="#e2e6ee"/><path d="M302,197.9q2.1,-2.5 5.7,-2.6l3.6,0.1q3.2,0.2 5.0,2.5z" fill="#e2e6ee"/><path d="M253,181.2q2.2,-2.0 6.0,-2.1l3.7,0.1q3.4,0.2 5.2,2.0z" fill="#eef1f6"/><path d="M353,201.2q2.9,-2.2 7.7,-2.4l4.8,0.1q4.4,0.2 6.8,2.2z" fill="#dce1e9"/><path d="M459,243.2q5.9,-4.6 15.8,-4.8l9.9,0.2q8.9,0.5 13.8,4.6z" fill="#d3d9e3"/><path d="M367,170.6q2.4,-2.2 6.5,-2.3l4.1,0.1q3.7,0.2 5.7,2.2z" fill="#e2e6ee"/><path d="M356,113.3q1.6,-1.5 4.2,-1.6l2.6,0.1q2.3,0.2 3.7,1.5z" fill="#f6f8fb"/><path d="M397,246.5q1.7,-1.7 4.4,-1.8l2.8,0.1q2.5,0.2 3.9,1.7z" fill="#eef1f6"/><path d="M82,231.8q5.1,-3.1 13.5,-3.3l8.5,0.2q7.6,0.3 11.9,3.1z" fill="#e2e6ee"/><path d="M174,202.7q1.6,-1.7 4.2,-1.8l2.6,0.1q2.4,0.2 3.7,1.7z" fill="#dce1e9"/><path d="M182,229.1q3.0,-2.4 7.9,-2.5l4.9,0.1q4.5,0.2 6.9,2.4z" fill="#d3d9e3"/><path d="M486,201.5q1.1,-1.0 3.0,-1.0l1.9,0.0q1.7,0.1 2.7,1.0z" fill="#c2c9d6"/><path d="M314,176.3q2.4,-2.7 6.5,-2.8l4.1,0.1q3.6,0.3 5.7,2.7z" fill="#e2e6ee"/><path d="M380,193.5q2.6,-3.0 7.0,-3.2l4.4,0.2q4.0,0.3 6.1,3.0z" fill="#e2e6ee"/><path d="M104,156.1q3.1,-3.1 8.3,-3.3l5.2,0.2q4.7,0.3 7.3,3.1z" fill="#f6f8fb"/><path d="M417,229.6q3.1,-2.2 8.3,-2.3l5.2,0.1q4.7,0.2 7.3,2.2z" fill="#f6f8fb"/><path d="M346,255.2q4.0,-3.9 10.8,-4.1l6.7,0.2q6.1,0.4 9.4,3.9z" fill="#eef1f6"/><path d="M81,113.6q0.8,-0.6 2.0,-0.6l1.3,0.0q1.1,0.1 1.8,0.6z" fill="#d3d9e3"/><path d="M447,157.4q2.3,-2.5 6.1,-2.6l3.8,0.1q3.4,0.2 5.3,2.5z" fill="#e2e6ee"/><path d="M415,144.9q0.7,-0.7 1.8,-0.7l1.1,0.0q1.0,0.1 1.6,0.7z" fill="#d3d9e3"/><path d="M137,181.9q2.2,-1.4 6.0,-1.4l3.7,0.1q3.4,0.1 5.2,1.4z" fill="#d3d9e3"/><path d="M436,125.5q1.6,-1.7 4.4,-1.8l2.7,0.1q2.5,0.2 3.8,1.7z" fill="#f6f8fb"/><path d="M255,254.1q2.8,-2.8 7.5,-3.0l4.7,0.1q4.2,0.3 6.6,2.8z" fill="#d3d9e3"/><path d="M408,125.5q0.8,-0.8 2.1,-0.8l1.3,0.0q1.2,0.1 1.8,0.8z" fill="#d3d9e3"/><path d="M296,185.7q4.1,-2.5 11.0,-2.7l6.9,0.1q6.2,0.3 9.6,2.5z" fill="#f6f8fb"/><path d="M180,235.9q2.2,-2.3 5.8,-2.4l3.7,0.1q3.3,0.2 5.1,2.3z" fill="#d3d9e3"/><path d="M72,246.3q1.9,-1.6 5.0,-1.6l3.1,0.1q2.8,0.2 4.4,1.6z" fill="#d3d9e3"/><path d="M278,204.6q3.7,-3.8 9.9,-4.0l6.2,0.2q5.6,0.4 8.7,3.8z" fill="#c2c9d6"/><path d="M76,195.9q4.5,-4.5 12.0,-4.7l7.5,0.2q6.8,0.4 10.5,4.5z" fill="#f6f8fb"/><path d="M411,128.0q1.8,-1.3 4.9,-1.4l3.1,0.1q2.8,0.1 4.3,1.3z" fill="#e2e6ee"/><path d="M460,125.9q1.7,-1.7 4.5,-1.7l2.8,0.1q2.5,0.2 4.0,1.7z" fill="#e2e6ee"/><path d="M159,184.2q2.0,-2.1 5.4,-2.2l3.4,0.1q3.1,0.2 4.8,2.1z" fill="#f6f8fb"/><path d="M322,117.8q0.5,-0.5 1.4,-0.5l0.9,0.0q0.8,0.0 1.2,0.5z" fill="#f6f8fb"/><path d="M332,231.3q5.0,-3.3 13.3,-3.5l8.3,0.2q7.5,0.3 11.6,3.3z" fill="#e2e6ee"/><path d="M125,198.1q3.1,-2.0 8.3,-2.1l5.2,0.1q4.7,0.2 7.3,2.0z" fill="#aeb6c5"/><path d="M29,184.9q1.7,-1.8 4.6,-1.9l2.9,0.1q2.6,0.2 4.0,1.8z" fill="#d3d9e3"/><path d="M326,114.5q1.4,-1.4 3.7,-1.5l2.3,0.1q2.1,0.1 3.2,1.4z" fill="#d3d9e3"/><path d="M283,170.9q3.2,-3.1 8.6,-3.3l5.4,0.2q4.8,0.3 7.5,3.1z" fill="#eef1f6"/><path d="M161,239.1q3.6,-3.9 9.5,-4.1l5.9,0.2q5.4,0.4 8.3,3.9z" fill="#d3d9e3"/><path d="M118,165.7q0.9,-0.8 2.4,-0.9l1.5,0.0q1.4,0.1 2.1,0.8z" fill="#aeb6c5"/><path d="M203,228.9q1.6,-1.3 4.2,-1.4l2.6,0.1q2.3,0.1 3.6,1.3z" fill="#f6f8fb"/><path d="M222,189.2q3.3,-2.4 8.8,-2.5l5.5,0.1q4.9,0.2 7.7,2.4z" fill="#aeb6c5"/><path d="M170,205.4q3.8,-4.1 10.0,-4.3l6.3,0.2q5.6,0.4 8.8,4.1z" fill="#dce1e9"/><path d="M10,253.4q5.0,-4.5 13.3,-4.7l8.3,0.2q7.5,0.5 11.6,4.5z" fill="#aeb6c5"/><path d="M41,169.3q3.0,-2.7 8.1,-2.9l5.1,0.1q4.6,0.3 7.1,2.7z" fill="#f6f8fb"/><path d="M228,145.2q0.8,-0.6 2.1,-0.6l1.3,0.0q1.2,0.1 1.8,0.6z" fill="#e2e6ee"/><path d="M193,115.5q1.8,-1.7 4.7,-1.8l2.9,0.1q2.6,0.2 4.1,1.7z" fill="#f6f8fb"/><path d="M231,168.7q2.6,-2.5 7.0,-2.6l4.4,0.1q3.9,0.3 6.1,2.5z" fill="#f6f8fb"/><path d="M266,187.7q3.5,-2.2 9.3,-2.3l5.8,0.1q5.2,0.2 8.1,2.2z" fill="#aeb6c5"/><path d="M411,224.5q1.9,-1.4 5.0,-1.4l3.2,0.1q2.8,0.1 4.4,1.4z" fill="#c2c9d6"/><path d="M287,160.9q1.4,-1.0 3.7,-1.0l2.3,0.0q2.1,0.1 3.3,1.0z" fill="#eef1f6"/><path d="M21,119.5q0.6,-0.5 1.7,-0.6l1.1,0.0q0.9,0.1 1.5,0.5z" fill="#dce1e9"/><path d="M317,132.0q1.7,-1.4 4.6,-1.5l2.9,0.1q2.6,0.1 4.1,1.4z" fill="#dce1e9"/><path d="M84,130.7q2.2,-1.4 6.0,-1.5l3.7,0.1q3.4,0.1 5.2,1.4z" fill="#d3d9e3"/><path d="M336,111.6q0.7,-0.6 1.9,-0.7l1.2,0.0q1.1,0.1 1.6,0.6z" fill="#c2c9d6"/><path d="M214,140.0q2.6,-2.3 6.9,-2.4l4.3,0.1q3.9,0.2 6.1,2.3z" fill="#f6f8fb"/><path d="M179,248.9q2.3,-1.8 6.1,-1.9l3.8,0.1q3.4,0.2 5.3,1.8z" fill="#d3d9e3"/><path d="M167,205.2q1.5,-1.5 4.1,-1.6l2.6,0.1q2.3,0.2 3.6,1.5z" fill="#aeb6c5"/><path d="M296,206.4q1.9,-1.4 5.0,-1.5l3.2,0.1q2.8,0.1 4.4,1.4z" fill="#f6f8fb"/><path d="M299,251.5q2.3,-2.1 6.2,-2.2l3.9,0.1q3.5,0.2 5.5,2.1z" fill="#aeb6c5"/><path d="M418,134.1q1.3,-0.8 3.5,-0.9l2.2,0.0q2.0,0.1 3.0,0.8z" fill="#aeb6c5"/><path d="M71,208.5q3.0,-3.4 7.9,-3.5l4.9,0.2q4.4,0.3 6.9,3.4z" fill="#f6f8fb"/><path d="M127,147.7q2.6,-2.5 7.0,-2.6l4.4,0.1q3.9,0.2 6.1,2.5z" fill="#c2c9d6"/><path d="M148,181.2q3.8,-3.2 10.2,-3.4l6.4,0.2q5.8,0.3 9.0,3.2z" fill="#aeb6c5"/><path d="M193,119.5q1.8,-2.1 4.9,-2.2l3.1,0.1q2.8,0.2 4.3,2.1z" fill="#d3d9e3"/><path d="M172,206.9q3.0,-2.7 7.9,-2.9l5.0,0.1q4.5,0.3 7.0,2.7z" fill="#c2c9d6"/><path d="M190,150.4q1.4,-0.9 3.8,-0.9l2.4,0.0q2.1,0.1 3.3,0.9z" fill="#aeb6c5"/><path d="M376,127.6q0.8,-0.7 2.2,-0.7l1.4,0.0q1.2,0.1 1.9,0.7z" fill="#dce1e9"/><path d="M167,192.4q1.6,-1.7 4.3,-1.8l2.7,0.1q2.4,0.2 3.7,1.7z" fill="#eef1f6"/><path d="M259,185.5q4.0,-3.2 10.5,-3.3l6.6,0.2q5.9,0.3 9.2,3.2z" fill="#f6f8fb"/><path d="M242,213.2q3.0,-3.2 8.1,-3.4l5.1,0.2q4.6,0.3 7.1,3.2z" fill="#eef1f6"/><path d="M354,199.4q2.4,-2.0 6.3,-2.1l4.0,0.1q3.6,0.2 5.5,2.0z" fill="#c2c9d6"/><path d="M78,201.6q4.2,-4.8 11.2,-5.1l7.0,0.2q6.3,0.5 9.8,4.8z" fill="#dce1e9"/><path d="M400,115.5q1.6,-1.5 4.4,-1.6l2.7,0.1q2.4,0.1 3.8,1.5z" fill="#aeb6c5"/><path d="M265,208.8q2.4,-2.2 6.4,-2.3l4.0,0.1q3.6,0.2 5.6,2.2z" fill="#c2c9d6"/><path d="M170,113.5q1.4,-1.2 3.7,-1.2l2.3,0.1q2.1,0.1 3.3,1.2z" fill="#eef1f6"/><path d="M74,247.1q2.3,-2.1 6.3,-2.2l3.9,0.1q3.5,0.2 5.5,2.1z" fill="#dce1e9"/><path d="M169,211.8q2.5,-2.8 6.6,-2.9l4.1,0.1q3.7,0.3 5.8,2.8z" fill="#eef1f6"/><path d="M381,127.7q0.9,-0.7 2.5,-0.7l1.6,0.0q1.4,0.1 2.2,0.7z" fill="#aeb6c5"/><path d="M170,127.5q2.0,-1.5 5.3,-1.6l3.3,0.1q3.0,0.1 4.7,1.5z" fill="#e2e6ee"/><path d="M265,156.2q2.3,-2.5 6.1,-2.6l3.8,0.1q3.4,0.2 5.3,2.5z" fill="#e2e6ee"/><path d="M372,192.8q3.3,-2.2 8.7,-2.3l5.4,0.1q4.9,0.2 7.6,2.2z" fill="#aeb6c5"/><path d="M259,138.8q1.9,-1.4 5.0,-1.4l3.1,0.1q2.8,0.1 4.4,1.4z" fill="#d3d9e3"/><path d="M400,174.7q1.9,-1.6 5.2,-1.7l3.2,0.1q2.9,0.2 4.5,1.6z" fill="#e2e6ee"/><path d="M228,143.8q2.0,-1.4 5.3,-1.5l3.3,0.1q3.0,0.1 4.7,1.4z" fill="#eef1f6"/><path d="M94,138.2q0.8,-0.6 2.2,-0.6l1.4,0.0q1.3,0.1 2.0,0.6z" fill="#dce1e9"/><path d="M126,202.0q1.6,-1.7 4.3,-1.8l2.7,0.1q2.4,0.2 3.7,1.7z" fill="#f6f8fb"/><path d="M343,185.2q1.7,-1.2 4.4,-1.3l2.8,0.1q2.5,0.1 3.9,1.2z" fill="#aeb6c5"/><path d="M107,186.4q3.6,-4.0 9.5,-4.2l5.9,0.2q5.3,0.4 8.3,4.0z" fill="#e2e6ee"/><path d="M95,140.8q1.6,-1.8 4.2,-1.9l2.6,0.1q2.4,0.2 3.7,1.8z" fill="#e2e6ee"/><path d="M150,251.2q2.7,-2.6 7.3,-2.8l4.6,0.1q4.1,0.3 6.4,2.6z" fill="#c2c9d6"/><path d="M332,160.2q2.6,-2.4 6.9,-2.5l4.3,0.1q3.9,0.2 6.1,2.4z" fill="#c2c9d6"/><path d="M369,111.8q1.3,-1.2 3.3,-1.2l2.1,0.1q1.9,0.1 2.9,1.2z" fill="#d3d9e3"/><path d="M304,231.6q1.8,-1.6 4.8,-1.7l3.0,0.1q2.7,0.2 4.2,1.6z" fill="#f6f8fb"/><path d="M265,168.0q3.3,-3.0 8.8,-3.1l5.5,0.1q4.9,0.3 7.7,3.0z" fill="#d3d9e3"/><path d="M72,161.3q2.0,-1.8 5.3,-1.9l3.3,0.1q3.0,0.2 4.6,1.8z" fill="#eef1f6"/><path d="M432,133.5q1.5,-1.5 4.0,-1.6l2.5,0.1q2.2,0.1 3.5,1.5z" fill="#eef1f6"/><path d="M208,199.3q2.5,-2.2 6.7,-2.3l4.2,0.1q3.8,0.2 5.9,2.2z" fill="#f6f8fb"/><path d="M127,164.0q3.1,-3.4 8.2,-3.6l5.2,0.2q4.6,0.3 7.2,3.4z" fill="#e2e6ee"/><path d="M446,178.3q1.0,-1.1 2.6,-1.1l1.6,0.1q1.5,0.1 2.3,1.1z" fill="#e2e6ee"/><path d="M426,114.1q0.7,-0.7 1.8,-0.8l1.1,0.0q1.0,0.1 1.5,0.7z" fill="#c2c9d6"/><path d="M410,131.0q1.6,-1.4 4.3,-1.4l2.7,0.1q2.4,0.1 3.7,1.4z" fill="#dce1e9"/><path d="M192,199.5q4.5,-3.1 12.0,-3.2l7.5,0.2q6.8,0.3 10.5,3.1z" fill="#eef1f6"/><path d="M71,257.4q2.2,-2.2 5.9,-2.4l3.7,0.1q3.3,0.2 5.1,2.2z" fill="#d3d9e3"/><path d="M443,190.8q2.0,-1.6 5.3,-1.7l3.3,0.1q3.0,0.2 4.7,1.6z" fill="#e2e6ee"/><path d="M82,202.5q2.5,-1.7 6.6,-1.8l4.1,0.1q3.7,0.2 5.8,1.7z" fill="#aeb6c5"/><path d="M278,224.7q3.4,-4.0 9.1,-4.2l5.7,0.2q5.1,0.4 8.0,4.0z" fill="#eef1f6"/><path d="M258,137.8q1.1,-0.7 2.8,-0.7l1.8,0.0q1.6,0.1 2.5,0.7z" fill="#e2e6ee"/><path d="M396,193.8q3.2,-2.0 8.5,-2.1l5.3,0.1q4.8,0.2 7.4,2.0z" fill="#d3d9e3"/><path d="M30,137.6q1.2,-0.8 3.2,-0.8l2.0,0.0q1.8,0.1 2.8,0.8z" fill="#f6f8fb"/><path d="M430,205.3q4.2,-4.8 11.3,-5.0l7.0,0.2q6.3,0.5 9.8,4.8z" fill="#aeb6c5"/><path d="M458,170.3q2.8,-2.3 7.4,-2.4l4.7,0.1q4.2,0.2 6.5,2.3z" fill="#dce1e9"/><path d="M365,123.8q1.4,-1.5 3.7,-1.6l2.3,0.1q2.1,0.2 3.3,1.5z" fill="#eef1f6"/><path d="M320,168.5q3.4,-3.1 9.0,-3.3l5.7,0.2q5.1,0.3 7.9,3.1z" fill="#f6f8fb"/><path d="M305,207.2q3.5,-2.6 9.2,-2.7l5.8,0.1q5.2,0.3 8.1,2.6z" fill="#aeb6c5"/><path d="M443,134.7q2.0,-1.6 5.3,-1.6l3.3,0.1q3.0,0.2 4.6,1.6z" fill="#e2e6ee"/><path d="M349,200.4q4.3,-3.7 11.5,-3.8l7.2,0.2q6.5,0.4 10.1,3.7z" fill="#e2e6ee"/><path d="M233,184.5q3.5,-2.1 9.2,-2.2l5.8,0.1q5.2,0.2 8.1,2.1z" fill="#dce1e9"/><path d="M244,119.9q1.1,-1.2 3.1,-1.3l1.9,0.1q1.7,0.1 2.7,1.2z" fill="#e2e6ee"/><path d="M145,177.0q1.5,-0.9 4.0,-1.0l2.5,0.0q2.3,0.1 3.5,0.9z" fill="#eef1f6"/><path d="M259,131.3q1.3,-0.9 3.4,-0.9l2.2,0.0q1.9,0.1 3.0,0.9z" fill="#dce1e9"/><path d="M322,142.8q1.3,-1.3 3.5,-1.4l2.2,0.1q2.0,0.1 3.0,1.3z" fill="#aeb6c5"/><path d="M191,141.4q2.7,-3.1 7.1,-3.2l4.4,0.2q4.0,0.3 6.2,3.1z" fill="#d3d9e3"/><path d="M51,144.8q2.7,-2.8 7.2,-2.9l4.5,0.1q4.1,0.3 6.3,2.8z" fill="#dce1e9"/><path d="M384,132.5q1.7,-1.5 4.5,-1.5l2.8,0.1q2.5,0.1 4.0,1.5z" fill="#dce1e9"/><path d="M339,162.2q1.6,-1.8 4.3,-1.9l2.7,0.1q2.4,0.2 3.8,1.8z" fill="#d3d9e3"/><path d="M320,193.6q3.7,-3.2 10.0,-3.4l6.2,0.2q5.6,0.3 8.7,3.2z" fill="#aeb6c5"/><path d="M160,196.9q3.0,-2.3 8.0,-2.4l5.0,0.1q4.5,0.2 7.0,2.3z" fill="#e2e6ee"/><path d="M432,170.2q2.8,-2.0 7.5,-2.1l4.7,0.1q4.2,0.2 6.6,2.0z" fill="#dce1e9"/><path d="M188,178.2q2.3,-2.0 6.1,-2.1l3.8,0.1q3.4,0.2 5.3,2.0z" fill="#d3d9e3"/><path d="M21,134.8q2.2,-2.5 5.9,-2.6l3.7,0.1q3.3,0.2 5.1,2.5z" fill="#eef1f6"/><path d="M469,137.7q0.8,-0.8 2.0,-0.8l1.3,0.0q1.1,0.1 1.8,0.8z" fill="#d3d9e3"/><path d="M420,135.8q1.7,-1.4 4.5,-1.5l2.8,0.1q2.5,0.1 4.0,1.4z" fill="#e2e6ee"/><path d="M200,213.6q3.3,-2.1 8.7,-2.2l5.5,0.1q4.9,0.2 7.7,2.1z" fill="#aeb6c5"/><path d="M20,114.1q0.8,-0.8 2.0,-0.8l1.3,0.0q1.2,0.1 1.8,0.8z" fill="#aeb6c5"/><path d="M198,167.9q1.5,-1.7 4.1,-1.7l2.6,0.1q2.3,0.2 3.6,1.7z" fill="#e2e6ee"/><path d="M164,122.5q0.8,-0.9 2.1,-0.9l1.3,0.0q1.2,0.1 1.8,0.9z" fill="#f6f8fb"/><path d="M18,244.2q4.6,-3.7 12.1,-3.8l7.6,0.2q6.8,0.4 10.6,3.7z" fill="#eef1f6"/><path d="M439,144.7q2.3,-1.9 6.2,-2.0l3.9,0.1q3.5,0.2 5.4,1.9z" fill="#dce1e9"/><path d="M80,224.6q5.4,-5.0 14.5,-5.3l9.1,0.3q8.2,0.5 12.7,5.0z" fill="#dce1e9"/><path d="M376,233.7q1.6,-1.3 4.3,-1.4l2.7,0.1q2.4,0.1 3.7,1.3z" fill="#dce1e9"/><path d="M48,235.4q3.0,-3.4 7.9,-3.5l4.9,0.2q4.5,0.3 6.9,3.4z" fill="#dce1e9"/><path d="M367,126.5q1.8,-1.3 4.9,-1.3l3.1,0.1q2.8,0.1 4.3,1.3z" fill="#aeb6c5"/><path d="M160,182.1q3.8,-2.4 10.0,-2.6l6.3,0.1q5.6,0.2 8.8,2.4z" fill="#c2c9d6"/><path d="M347,122.9q1.1,-1.0 2.9,-1.1l1.8,0.1q1.6,0.1 2.5,1.0z" fill="#d3d9e3"/><path d="M278,227.2q3.2,-2.0 8.5,-2.1l5.3,0.1q4.8,0.2 7.4,2.0z" fill="#eef1f6"/><path d="M200,197.7q2.9,-1.8 7.7,-1.9l4.8,0.1q4.3,0.2 6.8,1.8z" fill="#e2e6ee"/><path d="M453,238.3q1.5,-1.3 4.0,-1.4l2.5,0.1q2.3,0.1 3.5,1.3z" fill="#f6f8fb"/><path d="M325,175.9q2.9,-3.1 7.9,-3.3l4.9,0.2q4.4,0.3 6.9,3.1z" fill="#d3d9e3"/><path d="M185,164.3q2.6,-2.1 7.0,-2.2l4.4,0.1q4.0,0.2 6.2,2.1z" fill="#eef1f6"/><path d="M68,115.9q0.9,-0.7 2.3,-0.7l1.4,0.0q1.3,0.1 2.0,0.7z" fill="#d3d9e3"/><path d="M211,208.0q4.6,-3.3 12.2,-3.5l7.6,0.2q6.9,0.3 10.7,3.3z" fill="#e2e6ee"/><path d="M291,230.2q3.5,-2.5 9.2,-2.6l5.8,0.1q5.2,0.2 8.1,2.5z" fill="#c2c9d6"/><path d="M317,168.4q3.0,-3.2 7.9,-3.4l4.9,0.2q4.4,0.3 6.9,3.2z" fill="#e2e6ee"/><path d="M84,229.1q4.1,-3.2 10.9,-3.3l6.8,0.2q6.1,0.3 9.6,3.2z" fill="#aeb6c5"/><path d="M100,208.8q4.4,-4.0 11.7,-4.2l7.3,0.2q6.6,0.4 10.2,4.0z" fill="#d3d9e3"/><path d="M235,225.4q1.4,-1.2 3.6,-1.2l2.3,0.1q2.0,0.1 3.2,1.2z" fill="#eef1f6"/><path d="M16,236.2q4.7,-5.2 12.6,-5.5l7.9,0.3q7.1,0.5 11.0,5.2z" fill="#dce1e9"/><path d="M177,177.5q1.8,-1.7 4.9,-1.8l3.1,0.1q2.8,0.2 4.3,1.7z" fill="#eef1f6"/><path d="M410,160.2q2.0,-2.2 5.2,-2.3l3.3,0.1q2.9,0.2 4.6,2.2z" fill="#eef1f6"/><path d="M136,215.1q5.1,-4.4 13.6,-4.6l8.5,0.2q7.6,0.4 11.9,4.4z" fill="#f6f8fb"/><path d="M248,123.1q0.8,-0.8 2.2,-0.8l1.4,0.0q1.2,0.1 1.9,0.8z" fill="#aeb6c5"/><path d="M63,211.3q1.5,-1.4 4.0,-1.4l2.5,0.1q2.3,0.1 3.5,1.4z" fill="#f6f8fb"/><path d="M122,201.2q4.2,-3.6 11.2,-3.8l7.0,0.2q6.3,0.4 9.8,3.6z" fill="#aeb6c5"/><path d="M435,203.0q2.4,-2.7 6.5,-2.8l4.1,0.1q3.6,0.3 5.7,2.7z" fill="#e2e6ee"/><path d="M170,186.2q1.5,-1.4 4.0,-1.5l2.5,0.1q2.3,0.1 3.5,1.4z" fill="#d3d9e3"/><path d="M282,147.6q2.4,-2.4 6.5,-2.5l4.1,0.1q3.7,0.2 5.7,2.4z" fill="#e2e6ee"/><path d="M276,235.4q1.9,-1.2 5.1,-1.2l3.2,0.1q2.9,0.1 4.5,1.2z" fill="#e2e6ee"/><path d="M394,168.8q1.4,-0.9 3.6,-1.0l2.3,0.0q2.0,0.1 3.2,0.9z" fill="#d3d9e3"/><path d="M234,145.1q2.7,-3.1 7.3,-3.2l4.6,0.2q4.1,0.3 6.4,3.1z" fill="#dce1e9"/><path d="M353,185.0q1.2,-0.8 3.3,-0.8l2.1,0.0q1.9,0.1 2.9,0.8z" fill="#dce1e9"/><path d="M137,115.2q1.6,-1.4 4.4,-1.5l2.7,0.1q2.5,0.1 3.8,1.4z" fill="#c2c9d6"/><path d="M447,227.6q5.3,-4.2 14.3,-4.5l8.9,0.2q8.0,0.4 12.5,4.2z" fill="#aeb6c5"/><path d="M373,203.9q1.2,-1.0 3.2,-1.0l2.0,0.0q1.8,0.1 2.8,1.0z" fill="#aeb6c5"/><path d="M256,242.0q3.7,-4.0 9.9,-4.2l6.2,0.2q5.6,0.4 8.7,4.0z" fill="#e2e6ee"/><path d="M386,257.2q2.8,-2.7 7.5,-2.8l4.7,0.1q4.2,0.3 6.6,2.7z" fill="#c2c9d6"/><path d="M448,196.1q2.6,-2.4 7.0,-2.5l4.4,0.1q3.9,0.2 6.1,2.4z" fill="#d3d9e3"/><path d="M318,210.4q4.4,-5.0 11.8,-5.3l7.4,0.3q6.7,0.5 10.3,5.0z" fill="#eef1f6"/><path d="M461,251.3q5.2,-4.3 13.8,-4.5l8.6,0.2q7.8,0.4 12.1,4.3z" fill="#e2e6ee"/><path d="M166,163.5q1.9,-2.1 5.1,-2.2l3.2,0.1q2.9,0.2 4.5,2.1z" fill="#dce1e9"/><path d="M108,241.5q5.6,-6.3 15.0,-6.6l9.4,0.3q8.4,0.6 13.1,6.3z" fill="#dce1e9"/><path d="M37,169.5q1.0,-1.1 2.6,-1.2l1.6,0.1q1.5,0.1 2.3,1.1z" fill="#f6f8fb"/><path d="M80,155.7q2.5,-2.4 6.7,-2.5l4.2,0.1q3.8,0.2 5.9,2.4z" fill="#c2c9d6"/><path d="M32,193.4q1.6,-1.0 4.2,-1.1l2.6,0.1q2.4,0.1 3.7,1.0z" fill="#e2e6ee"/><path d="M211,211.8q2.2,-1.5 5.8,-1.6l3.7,0.1q3.3,0.2 5.1,1.5z" fill="#aeb6c5"/><path d="M100,130.1q2.3,-1.6 6.1,-1.7l3.8,0.1q3.4,0.2 5.4,1.6z" fill="#f6f8fb"/><path d="M277,161.7q2.9,-1.9 7.9,-2.0l4.9,0.1q4.4,0.2 6.9,1.9z" fill="#eef1f6"/><path d="M57,167.6q1.7,-1.7 4.4,-1.8l2.8,0.1q2.5,0.2 3.9,1.7z" fill="#d3d9e3"/><path d="M140,227.1q5.4,-4.5 14.4,-4.8l9.0,0.2q8.1,0.5 12.6,4.5z" fill="#aeb6c5"/><path d="M369,213.7q4.6,-5.3 12.3,-5.5l7.7,0.3q6.9,0.5 10.8,5.3z" fill="#eef1f6"/><path d="M403,215.4q1.6,-1.6 4.3,-1.7l2.7,0.1q2.4,0.2 3.7,1.6z" fill="#eef1f6"/><path d="M390,232.7q1.8,-2.0 4.9,-2.1l3.1,0.1q2.8,0.2 4.3,2.0z" fill="#d3d9e3"/><path d="M360,145.4q2.7,-2.1 7.1,-2.2l4.4,0.1q4.0,0.2 6.2,2.1z" fill="#dce1e9"/><path d="M224,119.3q1.0,-0.7 2.7,-0.7l1.7,0.0q1.5,0.1 2.3,0.7z" fill="#dce1e9"/><path d="M318,251.0q5.4,-5.2 14.4,-5.4l9.0,0.3q8.1,0.5 12.6,5.2z" fill="#d3d9e3"/><path d="M55,154.1q1.5,-1.7 4.0,-1.8l2.5,0.1q2.3,0.2 3.5,1.7z" fill="#e2e6ee"/><path d="M282,184.9q2.4,-2.5 6.4,-2.6l4.0,0.1q3.6,0.2 5.6,2.5z" fill="#dce1e9"/><path d="M73,157.2q0.9,-0.6 2.4,-0.6l1.5,0.0q1.4,0.1 2.1,0.6z" fill="#c2c9d6"/><path d="M250,241.1q2.7,-2.8 7.2,-2.9l4.5,0.1q4.1,0.3 6.3,2.8z" fill="#f6f8fb"/><path d="M263,187.2q2.9,-3.0 7.7,-3.2l4.8,0.2q4.3,0.3 6.7,3.0z" fill="#c2c9d6"/><path d="M222,245.6q5.9,-4.8 15.7,-5.0l9.8,0.2q8.8,0.5 13.7,4.8z" fill="#f6f8fb"/><path d="M237,177.7q3.1,-2.5 8.2,-2.6l5.1,0.1q4.6,0.3 7.2,2.5z" fill="#aeb6c5"/><path d="M64,171.5q3.0,-1.9 8.1,-2.0l5.1,0.1q4.6,0.2 7.1,1.9z" fill="#aeb6c5"/><path d="M305,185.0q3.9,-2.6 10.4,-2.7l6.5,0.1q5.8,0.3 9.1,2.6z" fill="#f6f8fb"/><path d="M423,156.4q1.3,-1.1 3.5,-1.1l2.2,0.1q2.0,0.1 3.1,1.1z" fill="#d3d9e3"/><path d="M282,118.0q0.6,-0.5 1.6,-0.5l1.0,0.0q0.9,0.0 1.4,0.5z" fill="#dce1e9"/><path d="M447,227.6q2.6,-1.9 6.8,-2.0l4.3,0.1q3.8,0.2 6.0,1.9z" fill="#e2e6ee"/><path d="M267,191.2q4.1,-3.7 11.0,-3.9l6.9,0.2q6.2,0.4 9.6,3.7z" fill="#d3d9e3"/><path d="M446,165.3q2.3,-2.1 6.0,-2.2l3.8,0.1q3.4,0.2 5.3,2.1z" fill="#eef1f6"/><path d="M448,113.2q1.5,-1.6 3.9,-1.7l2.4,0.1q2.2,0.2 3.4,1.6z" fill="#aeb6c5"/><path d="M77,245.0q3.1,-3.1 8.4,-3.2l5.2,0.2q4.7,0.3 7.3,3.1z" fill="#e2e6ee"/><path d="M121,251.1q2.2,-1.9 5.9,-2.0l3.7,0.1q3.3,0.2 5.1,1.9z" fill="#aeb6c5"/><path d="M240,127.5q2.2,-2.5 5.8,-2.6l3.6,0.1q3.3,0.2 5.1,2.5z" fill="#d3d9e3"/><path d="M156,112.9q0.7,-0.7 1.9,-0.7l1.2,0.0q1.1,0.1 1.7,0.7z" fill="#e2e6ee"/><path d="M285,227.7q1.6,-1.5 4.4,-1.6l2.7,0.1q2.5,0.2 3.8,1.5z" fill="#aeb6c5"/><path d="M136,214.3q2.5,-2.8 6.7,-3.0l4.2,0.1q3.8,0.3 5.8,2.8z" fill="#e2e6ee"/><path d="M450,188.5q4.0,-4.1 10.7,-4.3l6.7,0.2q6.0,0.4 9.3,4.1z" fill="#f6f8fb"/><path d="M370,153.5q1.3,-1.3 3.6,-1.4l2.2,0.1q2.0,0.1 3.1,1.3z" fill="#e2e6ee"/><path d="M123,186.2q1.4,-1.2 3.8,-1.3l2.4,0.1q2.2,0.1 3.4,1.2z" fill="#aeb6c5"/><path d="M136,132.5q1.0,-0.8 2.8,-0.9l1.7,0.0q1.6,0.1 2.4,0.8z" fill="#aeb6c5"/><path d="M203,148.2q1.4,-1.0 3.6,-1.0l2.3,0.0q2.0,0.1 3.2,1.0z" fill="#aeb6c5"/><path d="M92,124.4q1.4,-1.3 3.9,-1.4l2.4,0.1q2.2,0.1 3.4,1.3z" fill="#dce1e9"/><path d="M310,156.8q1.6,-1.0 4.2,-1.0l2.6,0.0q2.4,0.1 3.7,1.0z" fill="#eef1f6"/><path d="M350,138.2q2.1,-1.8 5.5,-1.9l3.5,0.1q3.1,0.2 4.8,1.8z" fill="#d3d9e3"/><path d="M267,150.5q2.1,-1.5 5.5,-1.6l3.4,0.1q3.1,0.2 4.8,1.5z" fill="#eef1f6"/><path d="M451,141.0q1.6,-1.2 4.4,-1.3l2.7,0.1q2.5,0.1 3.8,1.2z" fill="#f6f8fb"/><path d="M224,124.4q0.6,-0.6 1.7,-0.6l1.1,0.0q1.0,0.1 1.5,0.6z" fill="#d3d9e3"/><path d="M278,164.3q2.3,-1.7 6.2,-1.8l3.9,0.1q3.5,0.2 5.4,1.7z" fill="#f6f8fb"/><path d="M450,170.5q3.5,-3.7 9.2,-3.9l5.8,0.2q5.2,0.4 8.1,3.7z" fill="#e2e6ee"/><path d="M335,151.6q2.8,-2.5 7.5,-2.7l4.7,0.1q4.2,0.3 6.6,2.5z" fill="#dce1e9"/><path d="M251,126.6q0.9,-1.0 2.3,-1.0l1.4,0.0q1.3,0.1 2.0,1.0z" fill="#d3d9e3"/><path d="M62,161.9q1.1,-1.3 2.9,-1.3l1.8,0.1q1.6,0.1 2.5,1.3z" fill="#e2e6ee"/><path d="M250,241.4q3.9,-2.6 10.4,-2.7l6.5,0.1q5.9,0.3 9.1,2.6z" fill="#dce1e9"/><path d="M252,186.0q3.4,-3.8 9.2,-3.9l5.7,0.2q5.2,0.4 8.0,3.8z" fill="#f6f8fb"/><path d="M450,243.1q3.8,-3.1 10.0,-3.2l6.3,0.2q5.6,0.3 8.8,3.1z" fill="#dce1e9"/><path d="M278,242.6q3.0,-3.3 7.9,-3.4l4.9,0.2q4.4,0.3 6.9,3.3z" fill="#c2c9d6"/><path d="M181,143.0q1.3,-1.0 3.6,-1.0l2.2,0.0q2.0,0.1 3.1,1.0z" fill="#aeb6c5"/><path d="M387,232.7q1.4,-1.0 3.8,-1.0l2.3,0.0q2.1,0.1 3.3,1.0z" fill="#d3d9e3"/><path d="M89,253.5q5.8,-4.9 15.4,-5.2l9.6,0.2q8.7,0.5 13.5,4.9z" fill="#dce1e9"/><path d="M93,126.5q0.9,-0.7 2.5,-0.7l1.6,0.0q1.4,0.1 2.2,0.7z" fill="#eef1f6"/><path d="M47,144.1q1.6,-1.8 4.4,-1.9l2.7,0.1q2.5,0.2 3.8,1.8z" fill="#aeb6c5"/><path d="M451,237.8q4.7,-4.1 12.7,-4.3l7.9,0.2q7.1,0.4 11.1,4.1z" fill="#f6f8fb"/><path d="M91,216.0q1.5,-1.1 3.9,-1.2l2.4,0.1q2.2,0.1 3.4,1.1z" fill="#e2e6ee"/><path d="M100,251.9q5.2,-4.2 13.8,-4.4l8.7,0.2q7.8,0.4 12.1,4.2z" fill="#e2e6ee"/><path d="M283,156.9q1.2,-1.1 3.2,-1.1l2.0,0.1q1.8,0.1 2.8,1.1z" fill="#e2e6ee"/><path d="M242,140.1q2.6,-2.9 7.1,-3.1l4.4,0.1q4.0,0.3 6.2,2.9z" fill="#e2e6ee"/><path d="M291,239.9q2.0,-1.3 5.3,-1.3l3.3,0.1q3.0,0.1 4.7,1.3z" fill="#d3d9e3"/><path d="M313,176.1q2.2,-2.4 5.8,-2.5l3.7,0.1q3.3,0.2 5.1,2.4z" fill="#dce1e9"/><path d="M261,114.3q0.7,-0.4 1.9,-0.4l1.2,0.0q1.0,0.0 1.6,0.4z" fill="#dce1e9"/><path d="M20,243.3q4.5,-3.3 12.1,-3.4l7.6,0.2q6.8,0.3 10.6,3.3z" fill="#e2e6ee"/><path d="M386,219.9q2.7,-2.2 7.3,-2.3l4.6,0.1q4.1,0.2 6.4,2.2z" fill="#f6f8fb"/><path d="M256,218.7q2.1,-2.3 5.7,-2.5l3.6,0.1q3.2,0.2 5.0,2.3z" fill="#d3d9e3"/><path d="M39,217.5q5.2,-4.6 13.9,-4.8l8.7,0.2q7.8,0.5 12.1,4.6z" fill="#c2c9d6"/><path d="M104,251.4q2.5,-2.3 6.6,-2.5l4.1,0.1q3.7,0.2 5.7,2.3z" fill="#e2e6ee"/><path d="M269,129.9q1.4,-1.2 3.6,-1.2l2.3,0.1q2.0,0.1 3.2,1.2z" fill="#c2c9d6"/><path d="M157,217.8q5.2,-4.5 13.8,-4.7l8.6,0.2q7.7,0.4 12.0,4.5z" fill="#d3d9e3"/><path d="M226,215.7q1.9,-1.6 5.1,-1.7l3.2,0.1q2.8,0.2 4.4,1.6z" fill="#aeb6c5"/><path d="M337,110.4q0.5,-0.4 1.5,-0.4l0.9,0.0q0.8,0.0 1.3,0.4z" fill="#eef1f6"/><path d="M255,142.0q1.6,-1.8 4.3,-1.8l2.7,0.1q2.4,0.2 3.7,1.8z" fill="#eef1f6"/><path d="M317,256.6q5.4,-5.4 14.4,-5.6l9.0,0.3q8.1,0.5 12.6,5.4z" fill="#e2e6ee"/><path d="M290,242.9q4.6,-4.0 12.3,-4.2l7.7,0.2q6.9,0.4 10.8,4.0z" fill="#f6f8fb"/><path d="M466,170.1q1.8,-2.1 4.9,-2.2l3.1,0.1q2.8,0.2 4.3,2.1z" fill="#aeb6c5"/><path d="M210,147.5q1.3,-1.1 3.4,-1.1l2.1,0.1q1.9,0.1 3.0,1.1z" fill="#dce1e9"/><path d="M84,175.7q2.2,-2.1 5.9,-2.2l3.7,0.1q3.3,0.2 5.1,2.1z" fill="#e2e6ee"/><path d="M283,185.2q2.9,-3.0 7.6,-3.1l4.8,0.1q4.3,0.3 6.7,3.0z" fill="#f6f8fb"/><path d="M198,141.0q2.2,-2.2 6.0,-2.3l3.7,0.1q3.4,0.2 5.2,2.2z" fill="#d3d9e3"/><path d="M446,191.3q4.2,-3.2 11.2,-3.4l7.0,0.2q6.3,0.3 9.8,3.2z" fill="#dce1e9"/><path d="M345,253.8q5.4,-4.6 14.3,-4.8l9.0,0.2q8.1,0.5 12.6,4.6z" fill="#dce1e9"/><path d="M295,242.8q6.0,-3.8 16.0,-4.0l10.0,0.2q9.0,0.4 14.0,3.8z" fill="#eef1f6"/><path d="M198,174.1q2.8,-1.8 7.6,-1.9l4.7,0.1q4.3,0.2 6.6,1.8z" fill="#e2e6ee"/><path d="M18,255.5q4.7,-4.2 12.6,-4.4l7.9,0.2q7.1,0.4 11.0,4.2z" fill="#c2c9d6"/><path d="M320,251.5q4.6,-2.8 12.2,-2.9l7.6,0.1q6.8,0.3 10.6,2.8z" fill="#aeb6c5"/><path d="M259,160.0q1.1,-1.2 2.9,-1.3l1.8,0.1q1.7,0.1 2.6,1.2z" fill="#c2c9d6"/><path d="M258,236.3q3.0,-3.2 7.9,-3.4l4.9,0.2q4.4,0.3 6.9,3.2z" fill="#d3d9e3"/><path d="M185,154.5q2.2,-2.4 5.8,-2.5l3.7,0.1q3.3,0.2 5.1,2.4z" fill="#c2c9d6"/><path d="M108,119.7q1.4,-1.6 3.7,-1.6l2.3,0.1q2.1,0.2 3.2,1.6z" fill="#eef1f6"/><path d="M250,165.7q2.2,-1.9 5.8,-2.0l3.6,0.1q3.3,0.2 5.1,1.9z" fill="#d3d9e3"/><path d="M448,190.1q3.1,-2.3 8.3,-2.5l5.2,0.1q4.7,0.2 7.3,2.3z" fill="#aeb6c5"/><path d="M192,164.4q3.3,-2.1 8.9,-2.2l5.6,0.1q5.0,0.2 7.8,2.1z" fill="#e2e6ee"/><path d="M412,194.4q2.1,-1.5 5.5,-1.5l3.5,0.1q3.1,0.1 4.8,1.5z" fill="#aeb6c5"/><path d="M47,227.5q2.3,-1.8 6.1,-1.9l3.8,0.1q3.4,0.2 5.4,1.8z" fill="#aeb6c5"/><path d="M461,165.5q1.7,-1.9 4.6,-2.0l2.9,0.1q2.6,0.2 4.0,1.9z" fill="#e2e6ee"/><path d="M358,115.5q1.7,-1.5 4.5,-1.6l2.8,0.1q2.5,0.2 3.9,1.5z" fill="#eef1f6"/><path d="M387,215.0q3.6,-4.0 9.7,-4.2l6.0,0.2q5.4,0.4 8.5,4.0z" fill="#dce1e9"/><path d="M483,167.6q1.9,-1.7 5.1,-1.8l3.2,0.1q2.9,0.2 4.5,1.7z" fill="#e2e6ee"/><path d="M270,126.2q0.9,-0.9 2.5,-0.9l1.6,0.0q1.4,0.1 2.2,0.9z" fill="#eef1f6"/><path d="M219,136.9q1.0,-1.0 2.7,-1.0l1.7,0.0q1.5,0.1 2.3,1.0z" fill="#eef1f6"/><path d="M338,246.8q5.9,-5.2 15.8,-5.4l9.9,0.3q8.9,0.5 13.9,5.2z" fill="#e2e6ee"/><path d="M174,139.5q1.4,-1.4 3.7,-1.5l2.3,0.1q2.1,0.1 3.2,1.4z" fill="#e2e6ee"/><path d="M389,220.2q1.4,-1.0 3.8,-1.0l2.4,0.0q2.1,0.1 3.3,1.0z" fill="#eef1f6"/><path d="M470,255.1q3.5,-3.4 9.3,-3.6l5.8,0.2q5.3,0.3 8.2,3.4z" fill="#f6f8fb"/><path d="M336,215.7q2.5,-2.7 6.6,-2.9l4.1,0.1q3.7,0.3 5.7,2.7z" fill="#f6f8fb"/><path d="M445,200.9q3.4,-3.0 9.1,-3.1l5.7,0.1q5.1,0.3 8.0,3.0z" fill="#f6f8fb"/><path d="M14,211.9q4.6,-5.1 12.3,-5.3l7.7,0.3q6.9,0.5 10.7,5.1z" fill="#f6f8fb"/><path d="M378,129.0q1.0,-1.1 2.8,-1.1l1.7,0.1q1.6,0.1 2.4,1.1z" fill="#eef1f6"/><path d="M351,233.5q2.8,-3.3 7.5,-3.4l4.7,0.2q4.2,0.3 6.6,3.3z" fill="#aeb6c5"/><path d="M422,140.1q2.1,-2.1 5.5,-2.2l3.5,0.1q3.1,0.2 4.8,2.1z" fill="#d3d9e3"/><path d="M121,150.6q1.7,-1.3 4.5,-1.4l2.8,0.1q2.5,0.1 4.0,1.3z" fill="#c2c9d6"/><path d="M89,117.9q0.8,-0.5 2.2,-0.5l1.4,0.0q1.2,0.1 1.9,0.5z" fill="#aeb6c5"/><path d="M74,175.8q2.0,-1.5 5.5,-1.6l3.4,0.1q3.1,0.1 4.8,1.5z" fill="#d3d9e3"/><path d="M91,226.9q5.1,-5.9 13.6,-6.2l8.5,0.3q7.6,0.6 11.9,5.9z" fill="#aeb6c5"/><path d="M377,165.6q3.2,-3.4 8.6,-3.6l5.4,0.2q4.9,0.3 7.5,3.4z" fill="#f6f8fb"/><path d="M350,203.4q1.2,-1.2 3.3,-1.3l2.0,0.1q1.8,0.1 2.9,1.2z" fill="#f6f8fb"/><path d="M205,147.1q1.9,-1.5 5.2,-1.6l3.2,0.1q2.9,0.1 4.5,1.5z" fill="#f6f8fb"/><path d="M432,237.2q2.6,-2.2 6.8,-2.3l4.3,0.1q3.8,0.2 6.0,2.2z" fill="#e2e6ee"/><path d="M49,147.9q0.9,-1.0 2.3,-1.0l1.4,0.0q1.3,0.1 2.0,1.0z" fill="#e2e6ee"/><path d="M390,155.4q1.5,-1.1 4.1,-1.1l2.6,0.1q2.3,0.1 3.6,1.1z" fill="#dce1e9"/><path d="M469,212.8q4.4,-4.6 11.8,-4.8l7.4,0.2q6.6,0.5 10.3,4.6z" fill="#f6f8fb"/><path d="M480,143.5q1.8,-1.1 4.8,-1.2l3.0,0.1q2.7,0.1 4.2,1.1z" fill="#aeb6c5"/><path d="M223,133.9q0.9,-0.9 2.4,-0.9l1.5,0.0q1.4,0.1 2.1,0.9z" fill="#eef1f6"/><path d="M479,242.8q1.8,-1.9 4.9,-2.0l3.1,0.1q2.8,0.2 4.3,1.9z" fill="#e2e6ee"/><path d="M288,247.6q1.8,-1.9 4.9,-2.0l3.1,0.1q2.7,0.2 4.3,1.9z" fill="#f6f8fb"/><path d="M118,212.6q2.4,-1.6 6.3,-1.7l4.0,0.1q3.6,0.2 5.6,1.6z" fill="#dce1e9"/><path d="M169,246.9q6.0,-6.3 16.0,-6.6l10.0,0.3q9.0,0.6 14.0,6.3z" fill="#d3d9e3"/><path d="M468,136.7q1.7,-1.7 4.4,-1.8l2.8,0.1q2.5,0.2 3.9,1.7z" fill="#c2c9d6"/><path d="M416,111.8q1.1,-1.2 2.9,-1.2l1.8,0.1q1.7,0.1 2.6,1.2z" fill="#dce1e9"/><path d="M221,169.8q3.5,-3.9 9.4,-4.1l5.9,0.2q5.3,0.4 8.3,3.9z" fill="#c2c9d6"/><path d="M194,220.1q3.0,-2.4 8.0,-2.5l5.0,0.1q4.5,0.2 7.0,2.4z" fill="#c2c9d6"/><path d="M64,189.8q2.7,-1.6 7.3,-1.7l4.5,0.1q4.1,0.2 6.4,1.6z" fill="#eef1f6"/><path d="M274,178.9q1.3,-0.8 3.4,-0.9l2.1,0.0q1.9,0.1 3.0,0.8z" fill="#eef1f6"/><path d="M408,207.5q1.4,-1.5 3.7,-1.5l2.3,0.1q2.1,0.1 3.2,1.5z" fill="#eef1f6"/><path d="M163,120.6q1.2,-1.2 3.3,-1.3l2.1,0.1q1.9,0.1 2.9,1.2z" fill="#f6f8fb"/><path d="M17,216.4q2.9,-1.9 7.7,-2.0l4.8,0.1q4.3,0.2 6.7,1.9z" fill="#c2c9d6"/><path d="M354,228.8q3.6,-3.7 9.6,-3.9l6.0,0.2q5.4,0.4 8.4,3.7z" fill="#e2e6ee"/><path d="M338,219.1q3.0,-2.3 8.0,-2.4l5.0,0.1q4.5,0.2 7.0,2.3z" fill="#dce1e9"/><path d="M345,159.5q2.7,-2.5 7.3,-2.7l4.5,0.1q4.1,0.3 6.3,2.5z" fill="#c2c9d6"/><path d="M148,222.9q1.7,-1.2 4.4,-1.3l2.8,0.1q2.5,0.1 3.9,1.2z" fill="#c2c9d6"/><path d="M105,143.2q1.2,-0.8 3.2,-0.8l2.0,0.0q1.8,0.1 2.8,0.8z" fill="#eef1f6"/><path d="M190,171.4q3.7,-4.1 9.8,-4.3l6.1,0.2q5.5,0.4 8.6,4.1z" fill="#eef1f6"/><path d="M255,112.1q1.7,-1.9 4.5,-1.9l2.8,0.1q2.5,0.2 3.9,1.9z" fill="#eef1f6"/><path d="M244,169.4q2.0,-1.5 5.3,-1.6l3.3,0.1q3.0,0.2 4.6,1.5z" fill="#eef1f6"/><path d="M72,136.3q1.3,-1.4 3.4,-1.5l2.1,0.1q1.9,0.1 2.9,1.4z" fill="#d3d9e3"/><path d="M425,219.2q2.3,-2.1 6.0,-2.2l3.8,0.1q3.4,0.2 5.3,2.1z" fill="#d3d9e3"/><path d="M42,241.7q5.3,-3.6 14.2,-3.8l8.9,0.2q8.0,0.4 12.4,3.6z" fill="#c2c9d6"/><path d="M259,132.0q1.2,-0.9 3.3,-0.9l2.1,0.0q1.9,0.1 2.9,0.9z" fill="#aeb6c5"/><path d="M93,196.0q1.6,-1.7 4.2,-1.8l2.6,0.1q2.4,0.2 3.7,1.7z" fill="#f6f8fb"/><path d="M273,127.5q1.1,-0.8 2.9,-0.8l1.8,0.0q1.7,0.1 2.6,0.8z" fill="#aeb6c5"/><path d="M407,144.9q1.0,-0.7 2.7,-0.8l1.7,0.0q1.5,0.1 2.3,0.7z" fill="#dce1e9"/><path d="M44,162.3q3.3,-2.0 8.8,-2.2l5.5,0.1q4.9,0.2 7.7,2.0z" fill="#e2e6ee"/><path d="M213,207.0q2.6,-2.6 7.0,-2.8l4.4,0.1q3.9,0.3 6.1,2.6z" fill="#aeb6c5"/><path d="M126,117.7q1.4,-1.6 3.7,-1.7l2.3,0.1q2.1,0.2 3.2,1.6z" fill="#f6f8fb"/><path d="M461,243.8q2.7,-1.7 7.3,-1.8l4.6,0.1q4.1,0.2 6.4,1.7z" fill="#aeb6c5"/><path d="M250,189.3q2.0,-1.3 5.4,-1.4l3.4,0.1q3.0,0.1 4.7,1.3z" fill="#e2e6ee"/><path d="M234,213.8q2.6,-2.7 7.1,-2.8l4.4,0.1q4.0,0.3 6.2,2.7z" fill="#aeb6c5"/><path d="M244,224.3q3.1,-1.9 8.4,-2.0l5.2,0.1q4.7,0.2 7.3,1.9z" fill="#f6f8fb"/><path d="M326,124.3q1.7,-1.8 4.7,-1.9l2.9,0.1q2.6,0.2 4.1,1.8z" fill="#dce1e9"/><path d="M107,137.5q2.1,-1.9 5.7,-2.0l3.5,0.1q3.2,0.2 4.9,1.9z" fill="#aeb6c5"/><path d="M317,246.0q3.0,-2.7 8.1,-2.9l5.1,0.1q4.6,0.3 7.1,2.7z" fill="#c2c9d6"/><path d="M389,179.7q1.3,-0.9 3.4,-0.9l2.1,0.0q1.9,0.1 3.0,0.9z" fill="#d3d9e3"/><path d="M150,219.7q2.8,-1.7 7.5,-1.8l4.7,0.1q4.2,0.2 6.6,1.7z" fill="#dce1e9"/><path d="M37,160.3q1.6,-1.3 4.2,-1.3l2.6,0.1q2.4,0.1 3.7,1.3z" fill="#f6f8fb"/><path d="M187,149.7q2.8,-3.1 7.4,-3.3l4.6,0.2q4.1,0.3 6.5,3.1z" fill="#e2e6ee"/><path d="M303,117.0q1.8,-2.0 4.9,-2.1l3.0,0.1q2.7,0.2 4.2,2.0z" fill="#c2c9d6"/><path d="M242,141.1q2.3,-2.7 6.2,-2.8l3.9,0.1q3.5,0.3 5.4,2.7z" fill="#c2c9d6"/><path d="M239,176.9q2.6,-2.5 7.0,-2.6l4.4,0.1q3.9,0.3 6.1,2.5z" fill="#d3d9e3"/><path d="M90,135.8q0.6,-0.6 1.7,-0.6l1.0,0.0q0.9,0.1 1.5,0.6z" fill="#c2c9d6"/><path d="M304,148.4q2.1,-2.0 5.7,-2.1l3.5,0.1q3.2,0.2 5.0,2.0z" fill="#e2e6ee"/><path d="M385,196.5q1.9,-2.0 5.0,-2.1l3.1,0.1q2.8,0.2 4.4,2.0z" fill="#e2e6ee"/><path d="M91,190.3q2.5,-2.1 6.7,-2.2l4.2,0.1q3.8,0.2 5.9,2.1z" fill="#eef1f6"/><path d="M406,170.5q1.3,-1.3 3.4,-1.3l2.1,0.1q1.9,0.1 3.0,1.3z" fill="#eef1f6"/><path d="M110,243.9q2.4,-2.1 6.3,-2.2l4.0,0.1q3.6,0.2 5.6,2.1z" fill="#e2e6ee"/><path d="M300,252.2q5.6,-6.4 14.9,-6.7l9.3,0.3q8.4,0.6 13.0,6.4z" fill="#aeb6c5"/><path d="M190,251.0q1.7,-1.7 4.4,-1.8l2.8,0.1q2.5,0.2 3.9,1.7z" fill="#d3d9e3"/><path d="M340,209.4q4.3,-2.8 11.5,-3.0l7.2,0.1q6.5,0.3 10.1,2.8z" fill="#d3d9e3"/><path d="M59,213.9q1.8,-1.2 4.8,-1.3l3.0,0.1q2.7,0.1 4.2,1.2z" fill="#c2c9d6"/><path d="M186,233.6q2.1,-1.4 5.5,-1.5l3.5,0.1q3.1,0.1 4.9,1.4z" fill="#c2c9d6"/><path d="M465,147.9q2.2,-1.4 5.9,-1.5l3.7,0.1q3.3,0.1 5.2,1.4z" fill="#e2e6ee"/><path d="M17,206.5q3.6,-3.1 9.7,-3.2l6.1,0.2q5.5,0.3 8.5,3.1z" fill="#aeb6c5"/><path d="M217,239.1q1.6,-1.4 4.2,-1.4l2.6,0.1q2.4,0.1 3.7,1.4z" fill="#e2e6ee"/><path d="M89,235.7q3.7,-4.2 9.8,-4.4l6.1,0.2q5.5,0.4 8.6,4.2z" fill="#c2c9d6"/><path d="M61,118.9q0.7,-0.5 1.8,-0.5l1.1,0.0q1.0,0.0 1.5,0.5z" fill="#eef1f6"/><path d="M266,160.8q1.3,-0.8 3.4,-0.8l2.1,0.0q1.9,0.1 2.9,0.8z" fill="#c2c9d6"/><path d="M287,130.3q2.2,-1.7 5.9,-1.8l3.7,0.1q3.3,0.2 5.2,1.7z" fill="#eef1f6"/><path d="M426,141.0q0.9,-0.6 2.3,-0.6l1.4,0.0q1.3,0.1 2.0,0.6z" fill="#eef1f6"/><path d="M403,122.3q1.6,-1.8 4.3,-1.8l2.7,0.1q2.4,0.2 3.8,1.8z" fill="#aeb6c5"/><path d="M128,229.7q3.3,-3.4 8.7,-3.6l5.4,0.2q4.9,0.3 7.6,3.4z" fill="#f6f8fb"/><path d="M145,169.3q3.5,-3.4 9.4,-3.5l5.9,0.2q5.3,0.3 8.2,3.4z" fill="#eef1f6"/><path d="M226,128.6q1.0,-0.9 2.6,-0.9l1.6,0.0q1.5,0.1 2.3,0.9z" fill="#e2e6ee"/><path d="M284,253.7q2.9,-1.8 7.8,-1.9l4.9,0.1q4.4,0.2 6.9,1.8z" fill="#aeb6c5"/><path d="M233,152.8q2.8,-2.3 7.3,-2.5l4.6,0.1q4.1,0.2 6.4,2.3z" fill="#d3d9e3"/><path d="M391,135.5q2.0,-1.3 5.4,-1.3l3.4,0.1q3.1,0.1 4.8,1.3z" fill="#e2e6ee"/><path d="M340,173.3q1.7,-2.0 4.5,-2.1l2.8,0.1q2.5,0.2 4.0,2.0z" fill="#e2e6ee"/><path d="M249,198.3q4.2,-4.4 11.2,-4.6l7.0,0.2q6.3,0.4 9.8,4.4z" fill="#dce1e9"/><path d="M184,119.2q1.2,-1.2 3.2,-1.2l2.0,0.1q1.8,0.1 2.8,1.2z" fill="#c2c9d6"/><path d="M411,183.6q1.4,-1.5 3.8,-1.6l2.4,0.1q2.1,0.2 3.3,1.5z" fill="#d3d9e3"/><path d="M455,169.5q3.5,-3.3 9.4,-3.5l5.9,0.2q5.3,0.3 8.2,3.3z" fill="#f6f8fb"/><path d="M310,243.6q5.9,-5.4 15.7,-5.7l9.8,0.3q8.8,0.5 13.8,5.4z" fill="#f6f8fb"/><path d="M156,210.6q3.0,-3.1 8.0,-3.3l5.0,0.2q4.5,0.3 7.0,3.1z" fill="#f6f8fb"/><path d="M410,214.5q1.8,-1.7 4.8,-1.8l3.0,0.1q2.7,0.2 4.2,1.7z" fill="#aeb6c5"/><path d="M82,127.8q1.4,-1.5 3.6,-1.6l2.3,0.1q2.0,0.1 3.2,1.5z" fill="#e2e6ee"/><path d="M40,151.5q1.8,-1.9 4.9,-2.0l3.1,0.1q2.7,0.2 4.3,1.9z" fill="#d3d9e3"/><path d="M476,110.1q1.5,-1.3 4.0,-1.3l2.5,0.1q2.3,0.1 3.5,1.3z" fill="#dce1e9"/><path d="M442,236.2q3.6,-3.4 9.7,-3.6l6.1,0.2q5.5,0.3 8.5,3.4z" fill="#eef1f6"/><path d="M468,144.5q2.1,-1.5 5.5,-1.6l3.4,0.1q3.1,0.2 4.8,1.5z" fill="#f6f8fb"/><path d="M147,119.1q1.4,-1.3 3.8,-1.4l2.4,0.1q2.1,0.1 3.3,1.3z" fill="#d3d9e3"/><path d="M58,161.3q2.9,-1.8 7.7,-1.9l4.8,0.1q4.3,0.2 6.7,1.8z" fill="#aeb6c5"/><path d="M279,110.3q1.6,-1.7 4.3,-1.7l2.7,0.1q2.4,0.2 3.8,1.7z" fill="#eef1f6"/><path d="M76,186.6q3.0,-3.1 8.0,-3.2l5.0,0.2q4.5,0.3 7.0,3.1z" fill="#f6f8fb"/><path d="M300,129.6q1.5,-1.0 4.0,-1.0l2.5,0.0q2.3,0.1 3.5,1.0z" fill="#dce1e9"/><path d="M291,196.0q4.1,-3.9 11.0,-4.1l6.8,0.2q6.2,0.4 9.6,3.9z" fill="#aeb6c5"/><path d="M247,119.2q0.5,-0.6 1.4,-0.6l0.9,0.0q0.8,0.1 1.2,0.6z" fill="#e2e6ee"/><path d="M61,129.6q1.0,-1.1 2.5,-1.1l1.6,0.1q1.4,0.1 2.2,1.1z" fill="#e2e6ee"/><path d="M245,161.3q1.0,-1.1 2.7,-1.2l1.7,0.1q1.5,0.1 2.4,1.1z" fill="#dce1e9"/><path d="M450,250.9q5.3,-4.6 14.2,-4.9l8.9,0.2q8.0,0.5 12.4,4.6z" fill="#eef1f6"/><path d="M41,128.8q1.9,-1.2 5.0,-1.2l3.1,0.1q2.8,0.1 4.4,1.2z" fill="#e2e6ee"/><path d="M360,212.0q2.9,-2.8 7.6,-2.9l4.8,0.1q4.3,0.3 6.7,2.8z" fill="#dce1e9"/><path d="M247,197.6q3.0,-2.4 8.1,-2.5l5.1,0.1q4.6,0.2 7.1,2.4z" fill="#e2e6ee"/><path d="M408,183.1q3.6,-2.9 9.7,-3.0l6.0,0.1q5.4,0.3 8.4,2.9z" fill="#eef1f6"/><path d="M335,168.3q2.1,-2.4 5.7,-2.6l3.5,0.1q3.2,0.2 5.0,2.4z" fill="#eef1f6"/><path d="M149,126.6q0.6,-0.4 1.7,-0.5l1.0,0.0q0.9,0.0 1.5,0.4z" fill="#eef1f6"/><path d="M150,110.1q0.5,-0.4 1.2,-0.5l0.8,0.0q0.7,0.0 1.1,0.4z" fill="#aeb6c5"/><path d="M396,193.6q3.0,-2.6 8.0,-2.7l5.0,0.1q4.5,0.3 7.0,2.6z" fill="#f6f8fb"/><path d="M370,110.3q1.3,-0.8 3.5,-0.8l2.2,0.0q2.0,0.1 3.1,0.8z" fill="#d3d9e3"/><path d="M291,150.1q0.8,-0.8 2.0,-0.8l1.3,0.0q1.1,0.1 1.8,0.8z" fill="#aeb6c5"/><path d="M250,153.7q1.1,-0.9 2.8,-1.0l1.8,0.0q1.6,0.1 2.5,0.9z" fill="#eef1f6"/><path d="M438,257.7q1.9,-1.9 5.0,-2.0l3.1,0.1q2.8,0.2 4.3,1.9z" fill="#c2c9d6"/><path d="M124,256.5q6.1,-6.9 16.3,-7.3l10.2,0.3q9.2,0.7 14.3,6.9z" fill="#c2c9d6"/><path d="M51,122.5q0.9,-0.9 2.4,-0.9l1.5,0.0q1.3,0.1 2.1,0.9z" fill="#dce1e9"/><path d="M456,129.3q0.7,-0.7 1.9,-0.7l1.2,0.0q1.1,0.1 1.7,0.7z" fill="#aeb6c5"/><path d="M93,130.3q2.1,-1.4 5.5,-1.5l3.5,0.1q3.1,0.1 4.8,1.4z" fill="#e2e6ee"/><path d="M330,175.2q2.6,-2.3 7.0,-2.4l4.4,0.1q3.9,0.2 6.1,2.3z" fill="#d3d9e3"/><path d="M242,179.4q1.6,-1.8 4.2,-1.9l2.7,0.1q2.4,0.2 3.7,1.8z" fill="#dce1e9"/><path d="M331,206.8q3.1,-2.6 8.4,-2.7l5.2,0.1q4.7,0.3 7.3,2.6z" fill="#e2e6ee"/><path d="M256,150.4q2.6,-2.7 6.9,-2.8l4.3,0.1q3.9,0.3 6.0,2.7z" fill="#e2e6ee"/><path d="M144,130.7q1.6,-1.6 4.3,-1.7l2.7,0.1q2.4,0.2 3.7,1.6z" fill="#c2c9d6"/><path d="M228,204.7q1.9,-1.6 5.0,-1.6l3.1,0.1q2.8,0.2 4.4,1.6z" fill="#aeb6c5"/><path d="M147,139.1q1.5,-1.7 4.1,-1.7l2.6,0.1q2.3,0.2 3.6,1.7z" fill="#eef1f6"/><path d="M391,245.6q5.7,-5.1 15.2,-5.4l9.5,0.3q8.5,0.5 13.3,5.1z" fill="#e2e6ee"/><path d="M281,122.8q1.4,-0.9 3.8,-1.0l2.4,0.0q2.1,0.1 3.3,0.9z" fill="#aeb6c5"/><path d="M368,166.3q2.5,-1.6 6.7,-1.7l4.2,0.1q3.8,0.2 5.9,1.6z" fill="#dce1e9"/><path d="M210,177.3q2.2,-1.4 5.9,-1.5l3.7,0.1q3.3,0.1 5.2,1.4z" fill="#eef1f6"/><path d="M17,221.9q4.6,-4.8 12.2,-5.0l7.6,0.2q6.8,0.5 10.6,4.8z" fill="#dce1e9"/><path d="M39,137.2q2.2,-1.6 5.7,-1.7l3.6,0.1q3.2,0.2 5.0,1.6z" fill="#e2e6ee"/><path d="M459,243.8q5.3,-4.7 14.3,-5.0l8.9,0.2q8.0,0.5 12.5,4.7z" fill="#eef1f6"/><path d="M39,234.6q2.9,-2.2 7.7,-2.3l4.8,0.1q4.4,0.2 6.8,2.2z" fill="#aeb6c5"/><path d="M79,195.2q3.9,-3.5 10.4,-3.7l6.5,0.2q5.9,0.4 9.1,3.5z" fill="#e2e6ee"/><path d="M262,128.5q1.6,-1.4 4.3,-1.5l2.7,0.1q2.4,0.1 3.7,1.4z" fill="#e2e6ee"/><path d="M479,123.9q1.9,-2.3 5.2,-2.4l3.2,0.1q2.9,0.2 4.5,2.3z" fill="#aeb6c5"/><path d="M281,211.0q2.3,-2.3 6.3,-2.4l3.9,0.1q3.5,0.2 5.5,2.3z" fill="#aeb6c5"/><path d="M218,232.6q3.6,-4.1 9.6,-4.3l6.0,0.2q5.4,0.4 8.4,4.1z" fill="#c2c9d6"/><path d="M443,230.4q1.5,-1.7 4.0,-1.8l2.5,0.1q2.3,0.2 3.5,1.7z" fill="#f6f8fb"/><path d="M24,230.4q5.0,-3.1 13.3,-3.2l8.3,0.2q7.5,0.3 11.7,3.1z" fill="#eef1f6"/><path d="M296,182.9q2.5,-2.6 6.6,-2.7l4.1,0.1q3.7,0.3 5.8,2.6z" fill="#aeb6c5"/><path d="M395,194.3q3.6,-3.0 9.6,-3.1l6.0,0.1q5.4,0.3 8.4,3.0z" fill="#dce1e9"/><path d="M125,129.6q2.2,-1.9 5.8,-2.0l3.6,0.1q3.2,0.2 5.0,1.9z" fill="#c2c9d6"/><path d="M170,139.5q2.2,-2.0 5.9,-2.1l3.7,0.1q3.3,0.2 5.2,2.0z" fill="#eef1f6"/><path d="M279,130.7q1.5,-1.4 4.0,-1.5l2.5,0.1q2.3,0.1 3.5,1.4z" fill="#d3d9e3"/><path d="M249,215.8q1.5,-1.2 4.0,-1.2l2.5,0.1q2.3,0.1 3.5,1.2z" fill="#aeb6c5"/><path d="M135,154.3q1.9,-1.8 5.0,-1.9l3.1,0.1q2.8,0.2 4.4,1.8z" fill="#aeb6c5"/><path d="M77,139.1q1.8,-2.1 4.9,-2.2l3.1,0.1q2.8,0.2 4.3,2.1z" fill="#eef1f6"/><path d="M109,110.2q1.1,-1.2 2.9,-1.2l1.8,0.1q1.6,0.1 2.6,1.2z" fill="#c2c9d6"/><path d="M435,173.3q3.4,-3.1 9.0,-3.2l5.6,0.2q5.0,0.3 7.8,3.1z" fill="#eef1f6"/><path d="M198,208.0q1.6,-1.4 4.3,-1.5l2.7,0.1q2.4,0.1 3.8,1.4z" fill="#e2e6ee"/><path d="M114,183.5q3.7,-4.0 9.7,-4.2l6.1,0.2q5.5,0.4 8.5,4.0z" fill="#dce1e9"/><path d="M397,244.8q5.8,-4.5 15.5,-4.7l9.7,0.2q8.7,0.4 13.6,4.5z" fill="#d3d9e3"/><path d="M171,158.9q1.4,-1.6 3.8,-1.6l2.4,0.1q2.1,0.2 3.3,1.6z" fill="#e2e6ee"/><path d="M380,116.4q1.6,-1.3 4.2,-1.4l2.6,0.1q2.3,0.1 3.6,1.3z" fill="#f6f8fb"/><path d="M268,195.3q2.5,-1.8 6.6,-1.9l4.1,0.1q3.7,0.2 5.8,1.8z" fill="#eef1f6"/><path d="M264,135.6q1.2,-0.8 3.1,-0.8l1.9,0.0q1.7,0.1 2.7,0.8z" fill="#c2c9d6"/><path d="M80,184.7q1.0,-0.8 2.6,-0.9l1.6,0.0q1.5,0.1 2.3,0.8z" fill="#eef1f6"/><path d="M299,127.0q1.2,-0.8 3.1,-0.8l1.9,0.0q1.7,0.1 2.7,0.8z" fill="#dce1e9"/><path d="M142,249.0q3.5,-2.4 9.3,-2.5l5.8,0.1q5.3,0.2 8.2,2.4z" fill="#eef1f6"/><path d="M149,246.7q4.9,-4.0 13.1,-4.3l8.2,0.2q7.4,0.4 11.4,4.0z" fill="#d3d9e3"/><path d="M111,125.3q0.7,-0.7 1.9,-0.7l1.2,0.0q1.1,0.1 1.6,0.7z" fill="#f6f8fb"/><path d="M328,240.0q5.4,-5.0 14.3,-5.3l9.0,0.3q8.1,0.5 12.5,5.0z" fill="#aeb6c5"/><path d="M407,151.1q2.7,-1.8 7.1,-1.9l4.5,0.1q4.0,0.2 6.2,1.8z" fill="#aeb6c5"/><path d="M382,199.0q4.4,-3.9 11.7,-4.1l7.3,0.2q6.6,0.4 10.2,3.9z" fill="#d3d9e3"/><path d="M380,115.8q1.5,-1.7 4.0,-1.7l2.5,0.1q2.3,0.2 3.5,1.7z" fill="#aeb6c5"/><path d="M338,149.5q1.9,-1.2 5.1,-1.3l3.2,0.1q2.9,0.1 4.5,1.2z" fill="#c2c9d6"/><path d="M459,154.2q0.9,-0.6 2.5,-0.6l1.6,0.0q1.4,0.1 2.2,0.6z" fill="#dce1e9"/><path d="M109,182.6q2.1,-1.5 5.7,-1.6l3.6,0.1q3.2,0.1 5.0,1.5z" fill="#eef1f6"/><path d="M452,255.9q5.7,-5.4 15.2,-5.7l9.5,0.3q8.6,0.5 13.3,5.4z" fill="#eef1f6"/><path d="M126,257.2q1.8,-1.8 4.9,-1.9l3.1,0.1q2.8,0.2 4.3,1.8z" fill="#f6f8fb"/><path d="M447,110.2q0.5,-0.5 1.3,-0.6l0.8,0.0q0.7,0.1 1.2,0.5z" fill="#aeb6c5"/><path d="M423,111.8q0.6,-0.4 1.5,-0.4l1.0,0.0q0.9,0.0 1.3,0.4z" fill="#dce1e9"/><path d="M221,139.3q1.1,-1.0 2.9,-1.0l1.8,0.0q1.6,0.1 2.6,1.0z" fill="#f6f8fb"/><path d="M62,168.7q2.9,-3.2 7.7,-3.4l4.8,0.2q4.3,0.3 6.7,3.2z" fill="#aeb6c5"/><path d="M53,233.4q4.5,-2.8 12.0,-2.9l7.5,0.1q6.8,0.3 10.5,2.8z" fill="#c2c9d6"/><path d="M461,228.4q4.7,-3.4 12.6,-3.6l7.9,0.2q7.1,0.3 11.0,3.4z" fill="#aeb6c5"/><path d="M359,148.2q2.2,-2.4 5.8,-2.5l3.6,0.1q3.3,0.2 5.1,2.4z" fill="#e2e6ee"/><path d="M215,225.3q2.4,-2.1 6.3,-2.2l3.9,0.1q3.5,0.2 5.5,2.1z" fill="#e2e6ee"/><path d="M460,245.6q5.0,-4.6 13.3,-4.8l8.3,0.2q7.5,0.5 11.7,4.6z" fill="#e2e6ee"/><path d="M374,144.1q1.7,-1.6 4.4,-1.7l2.8,0.1q2.5,0.2 3.9,1.6z" fill="#d3d9e3"/><path d="M475,227.8q1.5,-1.0 4.1,-1.1l2.5,0.1q2.3,0.1 3.6,1.0z" fill="#aeb6c5"/><path d="M78,166.8q2.0,-1.6 5.2,-1.7l3.3,0.1q3.0,0.2 4.6,1.6z" fill="#d3d9e3"/><path d="M415,159.9q2.6,-2.9 6.8,-3.1l4.3,0.1q3.8,0.3 6.0,2.9z" fill="#f6f8fb"/><path d="M411,139.7q0.8,-0.8 2.2,-0.8l1.4,0.0q1.2,0.1 1.9,0.8z" fill="#aeb6c5"/><path d="M347,116.8q1.3,-1.3 3.4,-1.4l2.2,0.1q1.9,0.1 3.0,1.3z" fill="#dce1e9"/><path d="M146,181.0q1.4,-1.6 3.8,-1.7l2.4,0.1q2.2,0.2 3.4,1.6z" fill="#e2e6ee"/><path d="M24,134.3q2.2,-2.5 5.9,-2.6l3.7,0.1q3.3,0.2 5.2,2.5z" fill="#eef1f6"/><path d="M99,190.7q2.3,-1.8 6.2,-1.9l3.9,0.1q3.5,0.2 5.4,1.8z" fill="#f6f8fb"/><path d="M152,172.4q2.5,-2.8 6.6,-2.9l4.1,0.1q3.7,0.3 5.7,2.8z" fill="#e2e6ee"/><path d="M93,235.9q3.7,-2.3 9.8,-2.4l6.2,0.1q5.5,0.2 8.6,2.3z" fill="#eef1f6"/><path d="M117,118.5q0.9,-0.9 2.5,-1.0l1.6,0.0q1.4,0.1 2.2,0.9z" fill="#e2e6ee"/><path d="M22,145.5q1.8,-1.6 4.7,-1.7l2.9,0.1q2.6,0.2 4.1,1.6z" fill="#d3d9e3"/><path d="M167,123.2q0.8,-0.5 2.0,-0.6l1.3,0.0q1.1,0.1 1.8,0.5z" fill="#dce1e9"/><path d="M164,200.3q1.3,-1.2 3.4,-1.2l2.2,0.1q1.9,0.1 3.0,1.2z" fill="#e2e6ee"/><path d="M132,247.3q3.2,-2.9 8.6,-3.1l5.4,0.1q4.8,0.3 7.5,2.9z" fill="#aeb6c5"/><path d="M187,244.6q5.4,-3.8 14.3,-4.0l9.0,0.2q8.1,0.4 12.6,3.8z" fill="#dce1e9"/><path d="M49,123.3q1.2,-1.1 3.2,-1.2l2.0,0.1q1.8,0.1 2.8,1.1z" fill="#aeb6c5"/><path d="M173,248.2q5.9,-5.4 15.8,-5.6l9.9,0.3q8.9,0.5 13.8,5.4z" fill="#f6f8fb"/><path d="M483,129.9q1.4,-0.9 3.7,-1.0l2.3,0.0q2.1,0.1 3.3,0.9z" fill="#f6f8fb"/><path d="M195,187.8q3.5,-3.7 9.3,-3.9l5.8,0.2q5.2,0.4 8.1,3.7z" fill="#eef1f6"/><path d="M32,196.2q2.1,-2.2 5.7,-2.3l3.5,0.1q3.2,0.2 4.9,2.2z" fill="#d3d9e3"/><path d="M300,116.2q1.3,-1.0 3.5,-1.0l2.2,0.0q2.0,0.1 3.0,1.0z" fill="#eef1f6"/><path d="M90,189.6q2.6,-1.9 6.9,-2.0l4.3,0.1q3.9,0.2 6.0,1.9z" fill="#eef1f6"/><path d="M146,113.8q0.8,-0.9 2.1,-0.9l1.3,0.0q1.2,0.1 1.8,0.9z" fill="#aeb6c5"/><path d="M100,178.0q2.3,-2.4 6.2,-2.5l3.9,0.1q3.5,0.2 5.4,2.4z" fill="#eef1f6"/><path d="M311,188.2q1.5,-1.1 3.9,-1.1l2.4,0.1q2.2,0.1 3.4,1.1z" fill="#eef1f6"/><path d="M352,248.8q2.2,-1.6 6.0,-1.7l3.7,0.1q3.4,0.2 5.2,1.6z" fill="#e2e6ee"/><path d="M288,182.2q2.0,-1.8 5.4,-1.9l3.4,0.1q3.0,0.2 4.7,1.8z" fill="#d3d9e3"/><path d="M339,138.2q2.2,-2.3 6.0,-2.4l3.7,0.1q3.4,0.2 5.2,2.3z" fill="#c2c9d6"/><path d="M49,173.5q3.2,-2.0 8.5,-2.1l5.3,0.1q4.8,0.2 7.5,2.0z" fill="#dce1e9"/><path d="M256,201.5q2.1,-1.7 5.5,-1.8l3.4,0.1q3.1,0.2 4.8,1.7z" fill="#e2e6ee"/><path d="M279,175.9q1.9,-1.9 5.0,-1.9l3.1,0.1q2.8,0.2 4.3,1.9z" fill="#eef1f6"/><path d="M265,153.7q2.1,-1.7 5.5,-1.8l3.4,0.1q3.1,0.2 4.8,1.7z" fill="#aeb6c5"/><path d="M180,165.1q1.6,-1.3 4.2,-1.3l2.6,0.1q2.3,0.1 3.6,1.3z" fill="#dce1e9"/><path d="M197,194.7q2.7,-1.7 7.2,-1.7l4.5,0.1q4.1,0.2 6.3,1.7z" fill="#dce1e9"/><path d="M369,185.8q1.4,-1.3 3.7,-1.3l2.3,0.1q2.1,0.1 3.3,1.3z" fill="#dce1e9"/><path d="M247,127.8q2.2,-1.5 5.9,-1.5l3.7,0.1q3.3,0.1 5.2,1.5z" fill="#eef1f6"/><path d="M279,233.8q2.3,-2.6 6.1,-2.7l3.8,0.1q3.4,0.3 5.3,2.6z" fill="#dce1e9"/><path d="M240,220.1q5.3,-3.5 14.1,-3.7l8.8,0.2q7.9,0.3 12.3,3.5z" fill="#dce1e9"/><path d="M139,254.1q4.8,-5.5 12.7,-5.8l7.9,0.3q7.2,0.6 11.1,5.5z" fill="#dce1e9"/><path d="M151,246.7q4.1,-4.6 11.0,-4.9l6.9,0.2q6.2,0.5 9.6,4.6z" fill="#e2e6ee"/><path d="M220,182.9q3.4,-3.2 9.0,-3.4l5.6,0.2q5.0,0.3 7.8,3.2z" fill="#dce1e9"/><path d="M432,139.1q2.5,-2.7 6.8,-2.9l4.2,0.1q3.8,0.3 5.9,2.7z" fill="#f6f8fb"/><path d="M194,116.7q0.7,-0.6 1.7,-0.7l1.1,0.0q1.0,0.1 1.5,0.6z" fill="#dce1e9"/><path d="M109,215.3q2.9,-2.3 7.7,-2.4l4.8,0.1q4.3,0.2 6.8,2.3z" fill="#f6f8fb"/><path d="M129,203.9q4.3,-4.3 11.6,-4.6l7.2,0.2q6.5,0.4 10.1,4.3z" fill="#dce1e9"/><path d="M205,222.2q1.6,-1.5 4.4,-1.6l2.7,0.1q2.4,0.2 3.8,1.5z" fill="#aeb6c5"/><path d="M253,131.9q2.0,-1.8 5.4,-1.9l3.4,0.1q3.0,0.2 4.7,1.8z" fill="#eef1f6"/><path d="M119,111.6q1.1,-1.2 2.9,-1.3l1.8,0.1q1.7,0.1 2.6,1.2z" fill="#aeb6c5"/><path d="M452,207.5q3.0,-2.4 8.0,-2.5l5.0,0.1q4.5,0.2 7.0,2.4z" fill="#e2e6ee"/><path d="M177,204.1q2.1,-1.5 5.5,-1.5l3.4,0.1q3.1,0.1 4.8,1.5z" fill="#f6f8fb"/><path d="M122,140.6q1.6,-1.7 4.2,-1.7l2.6,0.1q2.4,0.2 3.7,1.7z" fill="#f6f8fb"/><path d="M151,172.9q1.2,-0.8 3.1,-0.8l1.9,0.0q1.7,0.1 2.7,0.8z" fill="#c2c9d6"/><path d="M159,218.6q4.7,-3.3 12.6,-3.5l7.9,0.2q7.1,0.3 11.0,3.3z" fill="#c2c9d6"/><path d="M387,137.9q0.6,-0.5 1.7,-0.5l1.1,0.0q1.0,0.0 1.5,0.5z" fill="#aeb6c5"/><path d="M404,165.5q2.5,-2.4 6.7,-2.5l4.2,0.1q3.8,0.2 5.9,2.4z" fill="#f6f8fb"/><path d="M361,171.5q1.9,-2.1 5.1,-2.2l3.2,0.1q2.9,0.2 4.5,2.1z" fill="#aeb6c5"/></g><g filter="url(#pb)"><path d="M62.0,170.0 C64.3,167.6 71.2,159.4 75.8,155.8 C80.3,152.1 84.9,150.6 89.5,148.1 C94.1,145.7 98.7,142.5 103.2,141.2 C107.8,139.8 112.4,139.4 117.0,140.0 C121.6,140.6 126.2,143.0 130.8,144.7 C135.3,146.5 139.9,149.0 144.5,150.5 C149.1,152.0 153.7,150.6 158.2,153.9 C162.8,157.1 169.7,167.3 172.0,170.0 L172.0,170.0 L62.0,170.0 Z" fill="url(#fl)"/><path d="M25.0,196.0 C27.3,193.6 34.3,184.5 38.9,181.3 C43.5,178.1 48.1,178.3 52.8,176.8 C57.4,175.2 62.0,172.8 66.7,172.0 C71.3,171.2 75.9,172.1 80.6,172.3 C85.2,172.4 89.8,171.8 94.4,172.8 C99.1,173.9 103.7,177.2 108.3,178.5 C113.0,179.7 117.6,179.3 122.2,180.4 C126.9,181.5 131.5,182.6 136.1,185.2 C140.7,187.8 147.7,194.2 150.0,196.0 L150.0,196.0 L25.0,196.0 Z" fill="url(#fl)"/><path d="M170.0,162.0 C171.5,160.2 175.9,153.2 178.8,150.9 C181.7,148.6 184.7,149.0 187.6,148.2 C190.5,147.3 193.5,145.5 196.4,146.0 C199.3,146.5 202.3,148.6 205.2,151.2 C208.1,153.9 212.5,160.2 214.0,162.0 L214.0,162.0 L170.0,162.0 Z" fill="url(#fl)"/><path d="M226.0,189.0 C227.0,186.1 230.0,174.9 232.0,171.4 C234.0,167.9 236.0,168.5 238.0,168.1 C240.0,167.8 242.0,168.1 244.0,169.3 C246.0,170.4 248.0,171.9 250.0,175.2 C252.0,178.5 255.0,186.7 256.0,189.0 L256.0,189.0 L226.0,189.0 Z" fill="url(#fl)"/><path d="M255.0,191.0 C257.3,189.7 264.2,185.5 268.9,182.9 C273.5,180.4 278.1,177.3 282.7,175.8 C287.3,174.3 292.0,174.4 296.6,173.8 C301.2,173.1 305.8,172.3 310.4,172.0 C315.0,171.7 319.7,170.5 324.3,172.0 C328.9,173.5 333.5,178.0 338.1,181.2 C342.8,184.4 349.7,189.4 352.0,191.0 L352.0,191.0 L255.0,191.0 Z" fill="url(#fl)"/><path d="M105,212 C110,200 125,194 140,190 C150,182 160,176 168,170 C175,163 182,160 188,162 C198,168 210,180 222,186 C236,192 248,202 250,211 L105,213 Z" fill="url(#fl)"/><path d="M212,182 C225,188 238,196 246,204 C244,210 238,212 222,212 C218,200 215,190 212,182 Z" fill="#bdc5d2" opacity="0.7"/><path d="M282,188 C290,170 310,152 337,146 C350,148 365,146 377,151 C388,158 393,172 393,186 L393,190 L282,190 Z" fill="url(#fl)"/><path d="M350,176 C370,172 385,176 393,182 L393,190 L355,189 Z" fill="#8ea5b1"/><path d="M322,228 C326,210 345,196 370,194 C395,196 412,212 418,228 L322,231 Z" fill="url(#fl)"/><path d="M25.0,248.0 C26.3,243.9 30.3,228.9 33.0,223.6 C35.7,218.4 38.3,218.4 41.0,216.4 C43.7,214.5 46.3,212.4 49.0,212.0 C51.7,211.6 54.3,213.8 57.0,214.3 C59.7,214.8 62.3,214.0 65.0,214.8 C67.7,215.7 70.3,217.7 73.0,219.3 C75.7,221.0 78.3,222.9 81.0,224.5 C83.7,226.1 86.3,226.9 89.0,228.9 C91.7,230.9 94.3,233.3 97.0,236.5 C99.7,239.7 103.7,246.1 105.0,248.0 L105.0,248.0 L25.0,248.0 Z" fill="url(#fl)"/><path d="M112.0,256.0 C113.7,254.1 118.8,247.3 122.1,244.4 C125.5,241.6 128.9,240.1 132.2,239.1 C135.6,238.0 139.0,238.2 142.4,238.0 C145.8,237.8 149.1,237.4 152.5,238.0 C155.9,238.6 159.2,241.1 162.6,241.8 C166.0,242.6 169.4,241.6 172.8,242.5 C176.1,243.3 179.5,244.6 182.9,246.9 C186.2,249.2 191.3,254.5 193.0,256.0 L193.0,256.0 L112.0,256.0 Z" fill="url(#fl)"/><path d="M368.0,248.0 C369.6,246.8 374.5,242.3 377.8,240.7 C381.0,239.0 384.2,239.7 387.5,238.3 C390.8,236.9 394.0,233.5 397.2,232.2 C400.5,231.0 403.8,231.1 407.0,230.8 C410.2,230.5 413.5,230.4 416.8,230.4 C420.0,230.4 423.2,231.1 426.5,230.8 C429.8,230.6 433.0,229.3 436.2,229.0 C439.5,228.7 442.8,228.0 446.0,229.0 C449.2,230.1 452.5,234.2 455.8,235.3 C459.0,236.5 462.2,234.7 465.5,235.8 C468.8,236.9 472.0,239.9 475.2,241.9 C478.5,244.0 483.4,247.0 485.0,248.0 L485.0,248.0 L368.0,248.0 Z" fill="url(#fl)"/><path d="M255.0,229.0 C256.5,227.0 260.9,220.0 263.8,217.0 C266.8,213.9 269.7,211.4 272.7,210.5 C275.6,209.7 278.6,211.7 281.5,211.9 C284.4,212.1 287.4,210.2 290.3,211.6 C293.3,212.9 296.2,217.1 299.2,220.0 C302.1,222.9 306.5,227.5 308.0,229.0 L308.0,229.0 L255.0,229.0 Z" fill="url(#fl)"/><path d="M440.0,231.0 C441.5,229.6 445.9,224.7 448.8,222.9 C451.7,221.1 454.7,220.4 457.6,220.0 C460.5,219.6 463.5,220.0 466.4,220.4 C469.3,220.9 472.3,220.8 475.2,222.6 C478.1,224.4 482.5,229.6 484.0,231.0 L484.0,231.0 L440.0,231.0 Z" fill="url(#fl)"/><path d="M398.0,206.0 C398.9,204.8 401.6,199.7 403.3,198.7 C405.1,197.6 406.9,198.5 408.7,199.7 C410.4,200.9 413.1,204.9 414.0,206.0 L414.0,206.0 L398.0,206.0 Z" fill="url(#fl)"/><path d="M25,187 C30,186 36,192 37,200 L34,206 L25,206 Z" fill="#35406a"/><path d="M255,202 C259,202 263,206 263,212 L255,212 Z" fill="#35406a"/></g></g></svg>
<svg font-family="Liberation Sans, sans-serif" width="1429" height="644"><rect x="532.6" y="128.3" width="896.4" height="125.7" fill="#88c3e8"/><path d="M532.6,150 C535,185 543,226 560,226 L673,226 C688,226 694,200 698,164.6 L1038.3,178.3 C1060,225 1110,250 1185,254 L532.6,254 Z" fill="#b18c74"/><line x1="692.7" y1="107.5" x2="713.5" y2="107.5" stroke="#5d6b82" stroke-width="1.4" stroke-dasharray="5 3"/><line x1="692.7" y1="149.2" x2="713.5" y2="149.2" stroke="#5d6b82" stroke-width="1.4" stroke-dasharray="5 3"/><line x1="1022.7" y1="107.5" x2="1043.5" y2="107.5" stroke="#5d6b82" stroke-width="1.4" stroke-dasharray="5 3"/><line x1="1022.7" y1="149.2" x2="1043.5" y2="149.2" stroke="#5d6b82" stroke-width="1.4" stroke-dasharray="5 3"/><rect x="538" y="107.5" width="154.7" height="41.7" rx="7" fill="#d9dde4" stroke="#6d7b93" stroke-width="1.1"/><rect x="713.5" y="107.5" width="309.2" height="41.7" rx="7" fill="#d9dde4" stroke="#6d7b93" stroke-width="1.1"/><rect x="1043.5" y="107.5" width="224.5" height="41.7" rx="7" fill="#d9dde4" stroke="#6d7b93" stroke-width="1.1"/><rect x="1288.2" y="107.5" width="56.3" height="41.7" rx="8" fill="#d9dde4" stroke="#6d7b93" stroke-width="1.1"/><path d="M1365.4,107.5 L1429.5,107.5 L1429.5,241.7 L1395.4,241.7 A30,30 0 0 1 1365.4,211.7 Z" fill="#d9dde4" stroke="#6d7b93" stroke-width="1.1"/><line x1="1428.3" y1="107.5" x2="1428.3" y2="241.7" stroke="#6d7b93" stroke-width="1.1"/><line x1="1054.9" y1="115" x2="1054.9" y2="139" stroke="#7d8ba4" stroke-width="2"/><line x1="1065.6" y1="120.6" x2="1065.6" y2="144.6" stroke="#7d8ba4" stroke-width="2"/><line x1="1076.2" y1="115" x2="1076.2" y2="139" stroke="#7d8ba4" stroke-width="2"/><line x1="1086.9" y1="120.6" x2="1086.9" y2="144.6" stroke="#7d8ba4" stroke-width="2"/><line x1="1097.5" y1="115" x2="1097.5" y2="139" stroke="#7d8ba4" stroke-width="2"/><line x1="1108.2" y1="120.6" x2="1108.2" y2="144.6" stroke="#7d8ba4" stroke-width="2"/><line x1="1118.8" y1="115" x2="1118.8" y2="139" stroke="#7d8ba4" stroke-width="2"/><line x1="1129.5" y1="120.6" x2="1129.5" y2="144.6" stroke="#7d8ba4" stroke-width="2"/><line x1="1140.1" y1="115" x2="1140.1" y2="139" stroke="#7d8ba4" stroke-width="2"/><line x1="1150.8" y1="120.6" x2="1150.8" y2="144.6" stroke="#7d8ba4" stroke-width="2"/><line x1="1161.4" y1="115" x2="1161.4" y2="139" stroke="#7d8ba4" stroke-width="2"/><line x1="1172.1" y1="120.6" x2="1172.1" y2="144.6" stroke="#7d8ba4" stroke-width="2"/><line x1="1182.7" y1="115" x2="1182.7" y2="139" stroke="#7d8ba4" stroke-width="2"/><line x1="1193.4" y1="120.6" x2="1193.4" y2="144.6" stroke="#7d8ba4" stroke-width="2"/><line x1="1204.0" y1="115" x2="1204.0" y2="139" stroke="#7d8ba4" stroke-width="2"/><line x1="1214.7" y1="120.6" x2="1214.7" y2="144.6" stroke="#7d8ba4" stroke-width="2"/><line x1="1225.3" y1="115" x2="1225.3" y2="139" stroke="#7d8ba4" stroke-width="2"/><line x1="1236.0" y1="120.6" x2="1236.0" y2="144.6" stroke="#7d8ba4" stroke-width="2"/><line x1="1246.6" y1="115" x2="1246.6" y2="139" stroke="#7d8ba4" stroke-width="2"/><line x1="1257.2" y1="120.6" x2="1257.2" y2="144.6" stroke="#7d8ba4" stroke-width="2"/><circle cx="618.5" cy="147.8" r="11" fill="#fff" stroke="#333" stroke-width="1.1"/><text x="618.5" y="153.4" text-anchor="middle" font-size="16.5" fill="#2a2a2a">c</text><circle cx="870.8" cy="148.3" r="11" fill="#fff" stroke="#333" stroke-width="1.1"/><text x="870.8" y="153.9" text-anchor="middle" font-size="16.5" fill="#2a2a2a">f</text><circle cx="1099.8" cy="148" r="11" fill="#fff" stroke="#333" stroke-width="1.1"/><text x="1099.8" y="153.6" text-anchor="middle" font-size="16.5" fill="#2a2a2a">d</text><circle cx="1156.5" cy="127.5" r="11" fill="#fff" stroke="#333" stroke-width="1.1"/><text x="1156.5" y="133.1" text-anchor="middle" font-size="16.5" fill="#2a2a2a">e</text><circle cx="1213" cy="148" r="11" fill="#fff" stroke="#333" stroke-width="1.1"/><text x="1213" y="153.6" text-anchor="middle" font-size="16.5" fill="#2a2a2a">f</text><circle cx="1317" cy="148" r="11" fill="#fff" stroke="#333" stroke-width="1.1"/><text x="1317" y="151.3" text-anchor="middle" font-size="15.5" fill="#2a2a2a">g</text><circle cx="1365.7" cy="148" r="11" fill="#fff" stroke="#333" stroke-width="1.1"/><text x="1365.7" y="153.6" text-anchor="middle" font-size="16.5" fill="#2a2a2a">d</text><text x="618.8" y="100.2" text-anchor="middle" font-size="17" fill="#2a2a2a">Lake ice</text><text x="870" y="100.1" text-anchor="middle" font-size="17" fill="#2a2a2a">River ice</text><text x="1157.7" y="100.1" text-anchor="middle" font-size="17" fill="#2a2a2a">Sea ice</text><text x="1281.3" y="80" font-size="17.5" fill="#2a2a2a" textLength="81" lengthAdjust="spacingAndGlyphs">Ice block/</text><text x="1281.3" y="98.7" font-size="17.5" fill="#2a2a2a" textLength="62.5" lengthAdjust="spacingAndGlyphs">iceberg</text><text x="1382.2" y="80" font-size="17.5" fill="#2a2a2a" textLength="25" lengthAdjust="spacingAndGlyphs">Ice</text><text x="1382.2" y="98.7" font-size="17.5" fill="#2a2a2a" textLength="40" lengthAdjust="spacingAndGlyphs">shelf</text><text x="618.8" y="192.4" text-anchor="middle" font-size="17" fill="#2a2a2a">Lake</text><text x="1002.5" y="169.4" text-anchor="middle" font-size="17" fill="#2a2a2a">River</text><text x="870.3" y="228.3" text-anchor="middle" font-size="17" fill="#2a2a2a">Land</text><text x="1243" y="208.2" text-anchor="middle" font-size="17" fill="#2a2a2a">Sea</text></svg>
<div class="panel" style="left:24.3px;top:363.2px;width:224.4px;height:134.4px;background:radial-gradient(ellipse 100px 91px at 111.39999999999999px 0px,#0a66b3 0px,#0a66b3 80px,#1f76be 88px,#4b90cf 96px,#a5c5e5 103px,#d5dcea 110px,#d4ccd9 119px,#d8aab6 138px,#cf8a96 160px,#c85560 190px)"><div class="ice" style="left:55.60000000000001px;top:-60px;width:111.6px;height:126.5px;border-radius:0 0 32px 32px"></div></div>
<div class="panel" style="left:323.2px;top:363.2px;width:223.6px;height:134.4px;background:radial-gradient(ellipse 100px 91px at 110.60000000000002px 0px,#0a66b3 0px,#0a66b3 80px,#1f76be 88px,#4b90cf 96px,#a5c5e5 103px,#d5dcea 110px,#d4ccd9 119px,#d8aab6 138px,#cf8a96 160px,#c85560 190px)"><div class="ice" style="left:54.900000000000034px;top:-60px;width:111.3px;height:126.5px;border-radius:0 0 32px 32px"></div></div>
<div class="panel" style="left:614.5px;top:363.3px;width:223.3px;height:274.4px;background:linear-gradient(to bottom,#d9dde4 0px,#d9dde4 176.7px,#0a66b2 176.7px,#0a66b2 197px,#4a8acb 212px,#c9d6ea 228px,#d4b0bc 235px,#c97885 250px,#c81c30 268px,#c8102e 274px)"></div>
<div class="panel" style="left:908.5px;top:363.6px;width:224.1px;height:134px;background:linear-gradient(to bottom,#d9dde4 0px,#d9dde4 50.3px,#0a66b2 50.3px,#0b67b3 55px,#3a85c8 66px,#8cb6de 77px,#d3dcea 85px,#d6b3bd 93px,#cb6f7c 109px,#c8142c 127px)"></div>
<div class="panel" style="left:1202px;top:363.1px;width:223.5px;height:134px;background:radial-gradient(ellipse 100px 91px at 109.59999999999991px 0px,#0a66b3 0px,#0a66b3 80px,#1f76be 88px,#4b90cf 96px,#a5c5e5 103px,#d5dcea 110px,#d4ccd9 119px,#d8aab6 138px,#cf8a96 160px,#c85560 190px)"><div class="ice" style="left:53.700000000000045px;top:-60px;width:111.8px;height:125.89999999999998px;border-radius:0 0 32px 32px"></div></div>
<div class="panel" style="left:1201.3px;top:505.4px;width:223.6px;height:132.4px;background:radial-gradient(ellipse 100px 90px at 111.7px 64.8px,#0a64b0 0px,#0a64b0 42px,#1a70ba 48px,#4a8fcf 54px,#9cc0e3 61px,#d3dcea 68px,#dacbd6 75px,#d7a7b3 82px,#d08592 95px,#c95a66 110px,#c83347 125px,#c8102e 142px)"><div class="ice" style="left:78.1px;top:31.2px;width:67.2px;height:67.2px;border-radius:50%"></div></div>
<svg font-family="Liberation Sans, sans-serif" width="1429" height="644"><defs><linearGradient id="tc" gradientUnits="userSpaceOnUse" x1="25" y1="0" x2="224" y2="0"><stop offset="0" stop-color="#3a7cc2"/><stop offset="0.28" stop-color="#8ab8e0"/><stop offset="0.38" stop-color="#e9eef3"/><stop offset="0.46" stop-color="#e6cfd2"/><stop offset="0.62" stop-color="#d98a92"/><stop offset="1" stop-color="#d2444f"/></linearGradient><linearGradient id="td" gradientUnits="userSpaceOnUse" x1="325" y1="0" x2="524" y2="0"><stop offset="0" stop-color="#3a7cc2"/><stop offset="0.28" stop-color="#8ab8e0"/><stop offset="0.38" stop-color="#e9eef3"/><stop offset="0.46" stop-color="#e6cfd2"/><stop offset="0.62" stop-color="#d98a92"/><stop offset="1" stop-color="#d2444f"/></linearGradient></defs><text x="0" y="14.5" font-size="27" font-weight="700" fill="#1e1a1b" stroke="#1e1a1b" stroke-width="0.6">a</text><text x="530.5" y="21" font-size="27" font-weight="700" fill="#1e1a1b" stroke="#1e1a1b" stroke-width="0.6">b</text><text x="-0.5" y="306.5" font-size="27" font-weight="700" fill="#1e1a1b" stroke="#1e1a1b" stroke-width="0.6">c</text><text x="299" y="306.5" font-size="27" font-weight="700" fill="#1e1a1b" stroke="#1e1a1b" stroke-width="0.6">d</text><text x="589.5" y="306.5" font-size="27" font-weight="700" fill="#1e1a1b" stroke="#1e1a1b" stroke-width="0.6">e</text><text x="884.5" y="306.5" font-size="27" font-weight="700" fill="#1e1a1b" stroke="#1e1a1b" stroke-width="0.6">f</text><text x="1180" y="306.5" font-size="27" font-weight="700" fill="#1e1a1b" stroke="#1e1a1b" stroke-width="0.6">g</text><text x="23.5" y="306" font-size="19.5" font-weight="700" fill="#1e1a1b" stroke="#1e1a1b" stroke-width="0.5" textLength="183.5" lengthAdjust="spacingAndGlyphs">Thermally stratified</text><text x="23.5" y="327.7" font-size="19.5" font-weight="700" fill="#1e1a1b" stroke="#1e1a1b" stroke-width="0.5" textLength="103" lengthAdjust="spacingAndGlyphs">convection</text><text x="322.5" y="306" font-size="19.5" font-weight="700" fill="#1e1a1b" stroke="#1e1a1b" stroke-width="0.5" textLength="155" lengthAdjust="spacingAndGlyphs">Double-diffusive</text><text x="322.5" y="327.7" font-size="19.5" font-weight="700" fill="#1e1a1b" stroke="#1e1a1b" stroke-width="0.5" textLength="103" lengthAdjust="spacingAndGlyphs">convection</text><text x="613" y="306" font-size="19.5" font-weight="700" fill="#1e1a1b" stroke="#1e1a1b" stroke-width="0.5" textLength="127.5" lengthAdjust="spacingAndGlyphs">Convection in</text><text x="613" y="327.7" font-size="19.5" font-weight="700" fill="#1e1a1b" stroke="#1e1a1b" stroke-width="0.5" textLength="93" lengthAdjust="spacingAndGlyphs">mushy ice</text><text x="908" y="306" font-size="19.5" font-weight="700" fill="#1e1a1b" stroke="#1e1a1b" stroke-width="0.5" textLength="174.5" lengthAdjust="spacingAndGlyphs">Ice layer subject to</text><text x="908" y="327.7" font-size="19.5" font-weight="700" fill="#1e1a1b" stroke="#1e1a1b" stroke-width="0.5" textLength="135.5" lengthAdjust="spacingAndGlyphs">shearing flows</text><text x="1203.5" y="306" font-size="19.5" font-weight="700" fill="#1e1a1b" stroke="#1e1a1b" stroke-width="0.5" textLength="192" lengthAdjust="spacingAndGlyphs">Dispersed ice bodies</text><text x="1203.5" y="327.7" font-size="19.5" font-weight="700" fill="#1e1a1b" stroke="#1e1a1b" stroke-width="0.5" textLength="71.5" lengthAdjust="spacingAndGlyphs">in flows</text><text x="23.5" y="357" font-size="16.5" font-weight="700" fill="#1e1a1b" stroke="#1e1a1b" stroke-width="0.35" textLength="97.5" lengthAdjust="spacingAndGlyphs">Fresh water</text><text x="321.5" y="357" font-size="16.5" font-weight="700" fill="#1e1a1b" stroke="#1e1a1b" stroke-width="0.35" textLength="94" lengthAdjust="spacingAndGlyphs">Salty water</text><text x="612.5" y="357" font-size="16.5" font-weight="700" fill="#1e1a1b" stroke="#1e1a1b" stroke-width="0.35" textLength="94.5" lengthAdjust="spacingAndGlyphs">Salty water</text><text x="125.0" y="402.3" font-size="17.8" fill="#2a2a2a" textLength="24.6" lengthAdjust="spacingAndGlyphs">Ice</text><text x="424.9" y="402.3" font-size="17.8" fill="#2a2a2a" textLength="24.6" lengthAdjust="spacingAndGlyphs">Ice</text><text x="1009.1" y="396.2" font-size="17.8" fill="#2a2a2a" textLength="24.6" lengthAdjust="spacingAndGlyphs">Ice</text><text x="1303.2" y="399.8" font-size="17.8" fill="#2a2a2a" textLength="24.6" lengthAdjust="spacingAndGlyphs">Ice</text><text x="1303.3" y="575" font-size="17.8" fill="#2a2a2a" textLength="24.6" lengthAdjust="spacingAndGlyphs">Ice</text><circle cx="334.8" cy="391.6" r="3.6" fill="#f1c24f" stroke="#c9a236" stroke-width="0.7"/><circle cx="355.8" cy="388.3" r="3.6" fill="#f1c24f" stroke="#c9a236" stroke-width="0.7"/><circle cx="339.5" cy="417.4" r="3.6" fill="#f1c24f" stroke="#c9a236" stroke-width="0.7"/><circle cx="344.8" cy="436.1" r="3.6" fill="#f1c24f" stroke="#c9a236" stroke-width="0.7"/><circle cx="362.3" cy="458.7" r="3.6" fill="#f1c24f" stroke="#c9a236" stroke-width="0.7"/><circle cx="339" cy="469.2" r="3.6" fill="#f1c24f" stroke="#c9a236" stroke-width="0.7"/><circle cx="345.8" cy="483.6" r="3.6" fill="#f1c24f" stroke="#c9a236" stroke-width="0.7"/><circle cx="362.3" cy="483.6" r="3.6" fill="#f1c24f" stroke="#c9a236" stroke-width="0.7"/><circle cx="380.7" cy="484.3" r="3.6" fill="#f1c24f" stroke="#c9a236" stroke-width="0.7"/><circle cx="386.1" cy="473.1" r="3.6" fill="#f1c24f" stroke="#c9a236" stroke-width="0.7"/><circle cx="404" cy="452.2" r="3.6" fill="#f1c24f" stroke="#c9a236" stroke-width="0.7"/><circle cx="404.2" cy="484.3" r="3.6" fill="#f1c24f" stroke="#c9a236" stroke-width="0.7"/><circle cx="428.7" cy="481.5" r="3.6" fill="#f1c24f" stroke="#c9a236" stroke-width="0.7"/><circle cx="457.1" cy="453.3" r="3.6" fill="#f1c24f" stroke="#c9a236" stroke-width="0.7"/><circle cx="451.8" cy="487.1" r="3.6" fill="#f1c24f" stroke="#c9a236" stroke-width="0.7"/><circle cx="468.1" cy="475.7" r="3.6" fill="#f1c24f" stroke="#c9a236" stroke-width="0.7"/><circle cx="477.6" cy="485.9" r="3.6" fill="#f1c24f" stroke="#c9a236" stroke-width="0.7"/><circle cx="489.3" cy="486.6" r="3.6" fill="#f1c24f" stroke="#c9a236" stroke-width="0.7"/><circle cx="493.2" cy="465.7" r="3.6" fill="#f1c24f" stroke="#c9a236" stroke-width="0.7"/><circle cx="492.1" cy="433.8" r="3.6" fill="#f1c24f" stroke="#c9a236" stroke-width="0.7"/><circle cx="516.1" cy="455.9" r="3.6" fill="#f1c24f" stroke="#c9a236" stroke-width="0.7"/><circle cx="517.7" cy="475" r="3.6" fill="#f1c24f" stroke="#c9a236" stroke-width="0.7"/><circle cx="516.1" cy="490.8" r="3.6" fill="#f1c24f" stroke="#c9a236" stroke-width="0.7"/><circle cx="535.2" cy="488.5" r="3.6" fill="#f1c24f" stroke="#c9a236" stroke-width="0.7"/><circle cx="535.2" cy="469.6" r="3.6" fill="#f1c24f" stroke="#c9a236" stroke-width="0.7"/><circle cx="531.7" cy="437" r="3.6" fill="#f1c24f" stroke="#c9a236" stroke-width="0.7"/><circle cx="536.3" cy="412.1" r="3.6" fill="#f1c24f" stroke="#c9a236" stroke-width="0.7"/><path d="M25.2,513.2 L25.2,622.2 L240.1,622.2" fill="none" stroke="#555" stroke-width="1.4"/><path d="M324.7,513.2 L324.7,622.2 L540.1,622.2" fill="none" stroke="#555" stroke-width="1.4"/><path d="M910.1,513.2 L910.1,622.2 L1124.9,622.2" fill="none" stroke="#555" stroke-width="1.4"/><path d="M25,562.2 C50,540 75,527 100.3,526.6 C140,526.5 185,552 224,575.8" fill="none" stroke="#0b5aa0" stroke-width="4"/><line x1="100.3" y1="526.6" x2="100.3" y2="622" stroke="#333" stroke-width="1" stroke-dasharray="4 3"/><line x1="25" y1="620.5" x2="224" y2="590.3" stroke="url(#tc)" stroke-width="4"/><circle cx="100.4" cy="609.3" r="2.8" fill="#1a1a1a"/><text x="170.3" y="537" font-size="17.5" fill="#2a2a2a" textLength="60" lengthAdjust="spacingAndGlyphs">Density</text><text x="104" y="598.9" font-size="17.5" fill="#2a2a2a" textLength="36" lengthAdjust="spacingAndGlyphs">4 °C</text><text x="174" y="616.2" font-size="17.5" fill="#2a2a2a" textLength="102.5" lengthAdjust="spacingAndGlyphs">Temperature</text><text x="28.8" y="642.8" font-size="17.5" fill="#2a2a2a" textLength="208" lengthAdjust="spacingAndGlyphs">Distance from ice surface</text><path d="M324.7,564.4 C360,540 420,527 461.8,526.6 C495,526.5 510,540 524,546" fill="none" stroke="#0b5aa0" stroke-width="4"/><line x1="325" y1="619.6" x2="524" y2="567.2" stroke="#d2a74a" stroke-width="4"/><line x1="325" y1="621" x2="524" y2="590.3" stroke="url(#td)" stroke-width="4"/><text x="333.8" y="534.1" font-size="17.5" fill="#2a2a2a" textLength="60" lengthAdjust="spacingAndGlyphs">Density</text><text x="333.8" y="580.5" font-size="17.5" fill="#2a2a2a" textLength="116.5" lengthAdjust="spacingAndGlyphs">Concentration</text><text x="463.3" y="616.2" font-size="17.5" fill="#2a2a2a" textLength="102.5" lengthAdjust="spacingAndGlyphs">Temperature</text><text x="328.8" y="642.8" font-size="17.5" fill="#2a2a2a" textLength="208" lengthAdjust="spacingAndGlyphs">Distance from ice surface</text><path d="M911,620 C960,565 1000,528 1109,528.5" fill="none" stroke="#a0509b" stroke-width="4"/><text x="1044.5" y="552.9" font-size="17.5" fill="#2a2a2a" textLength="64.5" lengthAdjust="spacingAndGlyphs">Velocity</text><text x="914" y="642.8" font-size="17.5" fill="#2a2a2a" textLength="208" lengthAdjust="spacingAndGlyphs">Distance from ice surface</text><line x1="645.5" y1="373.5" x2="645.5" y2="541" stroke="#8592a8" stroke-width="2.3"/><line x1="678.6" y1="373.5" x2="678.6" y2="541" stroke="#8592a8" stroke-width="2.3"/><line x1="711.5" y1="373.5" x2="711.5" y2="541" stroke="#8592a8" stroke-width="2.3"/><line x1="744.6" y1="373.5" x2="744.6" y2="541" stroke="#8592a8" stroke-width="2.3"/><line x1="777.7" y1="373.5" x2="777.7" y2="541" stroke="#8592a8" stroke-width="2.3"/><line x1="810.8" y1="373.5" x2="810.8" y2="541" stroke="#8592a8" stroke-width="2.3"/><line x1="633.1" y1="412" x2="657.5" y2="396.2" stroke="#8592a8" stroke-width="2"/><line x1="668.7" y1="414.7" x2="714.2" y2="398.9" stroke="#8592a8" stroke-width="2"/><line x1="731.7" y1="408.4" x2="788.5" y2="423.7" stroke="#8592a8" stroke-width="2"/><line x1="767.5" y1="378.2" x2="821.1" y2="385.4" stroke="#8592a8" stroke-width="2"/><line x1="667.5" y1="457.5" x2="699.3" y2="431.7" stroke="#8592a8" stroke-width="2"/><line x1="726.7" y1="445.8" x2="726.7" y2="502.5" stroke="#8592a8" stroke-width="2"/><line x1="648.4" y1="471.5" x2="669.4" y2="528.2" stroke="#8592a8" stroke-width="2"/><line x1="701.8" y1="488.5" x2="686.3" y2="533.2" stroke="#8592a8" stroke-width="2"/><line x1="772.3" y1="471.8" x2="754.3" y2="525.8" stroke="#8592a8" stroke-width="2"/><line x1="819.9" y1="499.6" x2="790.8" y2="531.1" stroke="#8592a8" stroke-width="2"/><path d="M812.2,522.8 A98,98 0 1 1 819.0,470.9" fill="none" stroke="#3d4e6c" stroke-width="5"/><path d="M809.3,464.5 L826.8,462.8 L819.3,483.5 Z" fill="#3d4e6c"/><line x1="964.2" y1="434.2" x2="1000.7" y2="434.2" stroke="#3d4e6c" stroke-width="3"/><path d="M999.7,429.2 L1009.2,434.2 L999.7,439.2 Z" fill="#3d4e6c"/><line x1="964.2" y1="448.2" x2="1035.1" y2="448.2" stroke="#3d4e6c" stroke-width="3"/><path d="M1034.1,443.2 L1043.6,448.2 L1034.1,453.2 Z" fill="#3d4e6c"/><line x1="964.2" y1="462.2" x2="1058.5" y2="462.2" stroke="#3d4e6c" stroke-width="3"/><path d="M1057.5,457.2 L1067,462.2 L1057.5,467.2 Z" fill="#3d4e6c"/><line x1="964.2" y1="476.2" x2="1068.2" y2="476.2" stroke="#3d4e6c" stroke-width="3"/><path d="M1067.2,471.2 L1076.7,476.2 L1067.2,481.2 Z" fill="#3d4e6c"/><line x1="1206.2" y1="389.5" x2="1241.7" y2="389.5" stroke="#3d4e6c" stroke-width="3.5"/><path d="M1240.7,384.5 L1250.2,389.5 L1240.7,394.5 Z" fill="#3d4e6c"/><path d="M1209.2,406.6 C1232,407 1240,408 1248,418 C1260,434 1268,446.5 1300,447.5 C1345,448 1358,440 1370,424 C1383,406 1398,404 1410,404" fill="none" stroke="#3d4e6c" stroke-width="3.5"/><path d="M1407.7,409.2 L1417.4,403.9 L1407.2,399.6 Z" fill="#3d4e6c"/><path d="M1209.2,430 C1228,431 1240,440 1255,452 C1268,463 1280,469 1300,470 C1330,471 1352,470 1368,458 C1385,444 1395,434 1410,428" fill="none" stroke="#3d4e6c" stroke-width="3.5"/><path d="M1409.7,434.1 L1416.7,425.5 L1405.6,425.4 Z" fill="#3d4e6c"/><path d="M1374.3,406.7 C1385,400 1385,390 1379,383" fill="none" stroke="#3d4e6c" stroke-width="3"/><path d="M1385.4,380.9 L1377.5,375.8 L1376.3,385.2 Z" fill="#3d4e6c"/><line x1="1209.4" y1="571.4" x2="1261.7" y2="571.4" stroke="#3d4e6c" stroke-width="3.5"/><path d="M1260.7,566.4 L1270.2,571.4 L1260.7,576.4 Z" fill="#3d4e6c"/><path d="M1209.4,559.4 C1240,559 1255,553 1275,538 C1290,527 1300,526 1320,526 C1340,526 1350,530 1365,550 C1375,560 1385,561 1408,561.7" fill="none" stroke="#3d4e6c" stroke-width="3.5"/><path d="M1405.8,566.1 L1416.0,561.7 L1406.2,556.6 Z" fill="#3d4e6c"/><path d="M1209.4,583.7 C1240,584 1255,590 1275,604 C1290,614 1300,616 1320,616 C1340,616 1350,612 1365,592 C1375,582 1385,581 1408,581.5" fill="none" stroke="#3d4e6c" stroke-width="3.5"/><path d="M1406.2,586.6 L1416.0,581.5 L1405.8,577.1 Z" fill="#3d4e6c"/><path d="M1349.6,546.4 C1362,548 1364,556 1355,560" fill="none" stroke="#3d4e6c" stroke-width="3"/><path d="M1354.3,554.1 L1348.5,561.5 L1357.7,563.5 Z" fill="#3d4e6c"/><path d="M1349.6,594 C1362,592 1364,584 1355,580" fill="none" stroke="#3d4e6c" stroke-width="3"/><path d="M1357.7,576.5 L1348.5,578.5 L1354.3,585.9 Z" fill="#3d4e6c"/></svg>
</body></html>
